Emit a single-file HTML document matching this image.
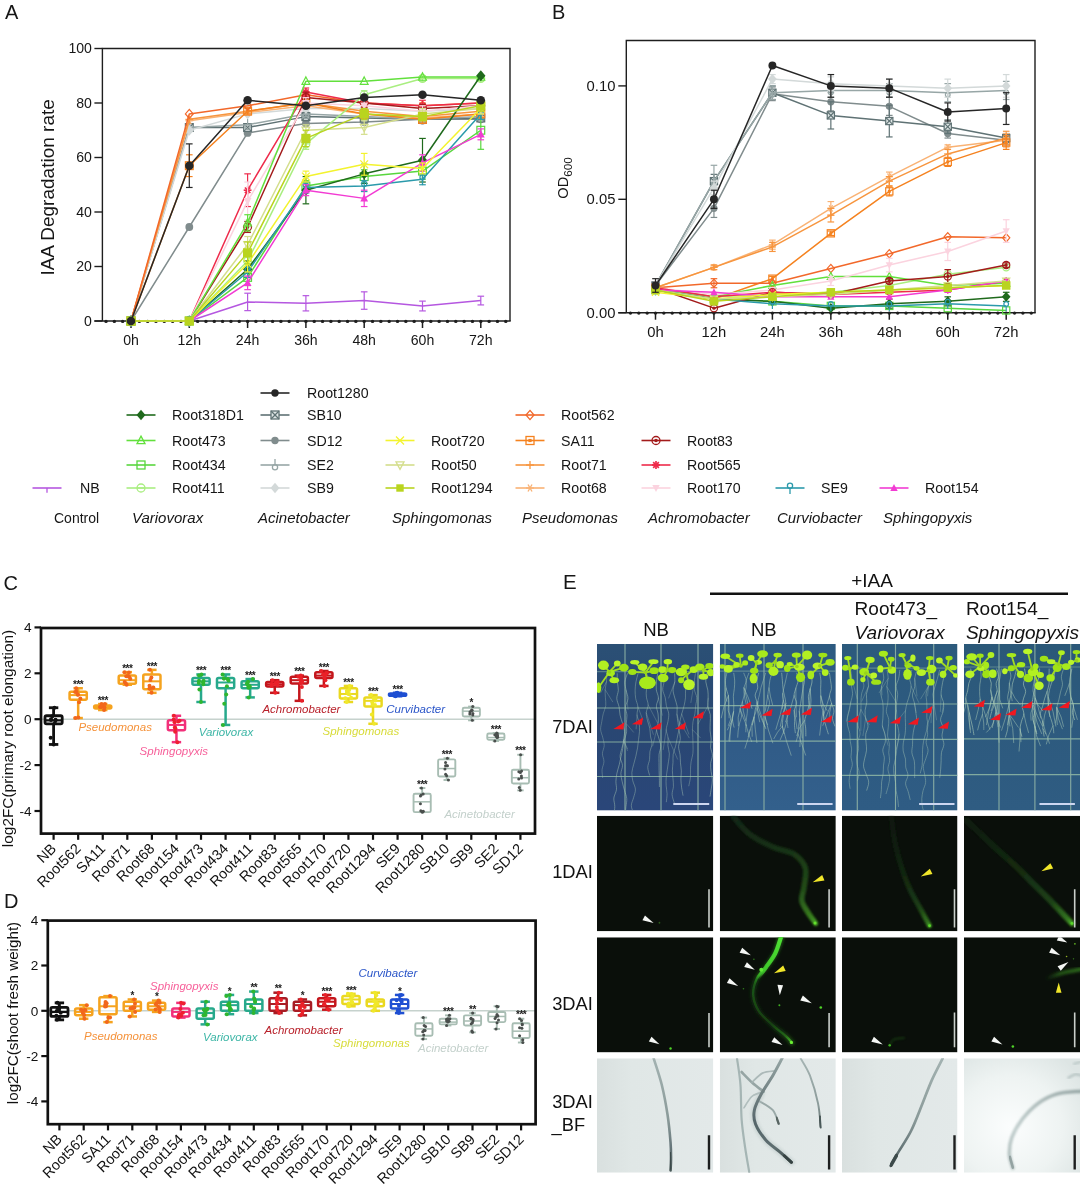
<!DOCTYPE html>
<html lang="en"><head><meta charset="utf-8"><title>Figure</title>
<style>
html,body{margin:0;padding:0;background:#fff;}
body{width:1080px;height:1199px;overflow:hidden;font-family:"Liberation Sans", Arial, sans-serif;}
svg{display:block;filter:blur(0.45px);}
svg text{font-family:"Liberation Sans", Arial, sans-serif;}
</style></head><body>
<svg width="1080" height="1199" viewBox="0 0 1080 1199">
<rect width="1080" height="1199" fill="#fff"/>
<g stroke="#1e1e1e" stroke-width="1.5">
<path d="M102.4,321 V48.5 H510 V321" fill="none" stroke-width="1.4"/>
<line x1="94.4" y1="321" x2="510.7" y2="321" stroke-width="1.4"/>
</g>
<circle cx="106.01" cy="321.4" r="1.7" fill="#1e1e1e"/>
<circle cx="114.34" cy="321.4" r="1.7" fill="#1e1e1e"/>
<circle cx="122.67" cy="321.4" r="1.7" fill="#1e1e1e"/>
<circle cx="131" cy="321.4" r="1.7" fill="#1e1e1e"/>
<circle cx="139.33" cy="321.4" r="1.7" fill="#1e1e1e"/>
<circle cx="147.66" cy="321.4" r="1.7" fill="#1e1e1e"/>
<circle cx="155.99" cy="321.4" r="1.7" fill="#1e1e1e"/>
<circle cx="164.31" cy="321.4" r="1.7" fill="#1e1e1e"/>
<circle cx="172.64" cy="321.4" r="1.7" fill="#1e1e1e"/>
<circle cx="180.97" cy="321.4" r="1.7" fill="#1e1e1e"/>
<circle cx="189.3" cy="321.4" r="1.7" fill="#1e1e1e"/>
<circle cx="197.63" cy="321.4" r="1.7" fill="#1e1e1e"/>
<circle cx="205.96" cy="321.4" r="1.7" fill="#1e1e1e"/>
<circle cx="214.29" cy="321.4" r="1.7" fill="#1e1e1e"/>
<circle cx="222.61" cy="321.4" r="1.7" fill="#1e1e1e"/>
<circle cx="230.94" cy="321.4" r="1.7" fill="#1e1e1e"/>
<circle cx="239.27" cy="321.4" r="1.7" fill="#1e1e1e"/>
<circle cx="247.6" cy="321.4" r="1.7" fill="#1e1e1e"/>
<circle cx="255.93" cy="321.4" r="1.7" fill="#1e1e1e"/>
<circle cx="264.26" cy="321.4" r="1.7" fill="#1e1e1e"/>
<circle cx="272.59" cy="321.4" r="1.7" fill="#1e1e1e"/>
<circle cx="280.91" cy="321.4" r="1.7" fill="#1e1e1e"/>
<circle cx="289.24" cy="321.4" r="1.7" fill="#1e1e1e"/>
<circle cx="297.57" cy="321.4" r="1.7" fill="#1e1e1e"/>
<circle cx="305.9" cy="321.4" r="1.7" fill="#1e1e1e"/>
<circle cx="314.23" cy="321.4" r="1.7" fill="#1e1e1e"/>
<circle cx="322.56" cy="321.4" r="1.7" fill="#1e1e1e"/>
<circle cx="330.89" cy="321.4" r="1.7" fill="#1e1e1e"/>
<circle cx="339.21" cy="321.4" r="1.7" fill="#1e1e1e"/>
<circle cx="347.54" cy="321.4" r="1.7" fill="#1e1e1e"/>
<circle cx="355.87" cy="321.4" r="1.7" fill="#1e1e1e"/>
<circle cx="364.2" cy="321.4" r="1.7" fill="#1e1e1e"/>
<circle cx="372.53" cy="321.4" r="1.7" fill="#1e1e1e"/>
<circle cx="380.86" cy="321.4" r="1.7" fill="#1e1e1e"/>
<circle cx="389.19" cy="321.4" r="1.7" fill="#1e1e1e"/>
<circle cx="397.51" cy="321.4" r="1.7" fill="#1e1e1e"/>
<circle cx="405.84" cy="321.4" r="1.7" fill="#1e1e1e"/>
<circle cx="414.17" cy="321.4" r="1.7" fill="#1e1e1e"/>
<circle cx="422.5" cy="321.4" r="1.7" fill="#1e1e1e"/>
<circle cx="430.83" cy="321.4" r="1.7" fill="#1e1e1e"/>
<circle cx="439.16" cy="321.4" r="1.7" fill="#1e1e1e"/>
<circle cx="447.49" cy="321.4" r="1.7" fill="#1e1e1e"/>
<circle cx="455.81" cy="321.4" r="1.7" fill="#1e1e1e"/>
<circle cx="464.14" cy="321.4" r="1.7" fill="#1e1e1e"/>
<circle cx="472.47" cy="321.4" r="1.7" fill="#1e1e1e"/>
<circle cx="480.8" cy="321.4" r="1.7" fill="#1e1e1e"/>
<circle cx="489.13" cy="321.4" r="1.7" fill="#1e1e1e"/>
<circle cx="497.46" cy="321.4" r="1.7" fill="#1e1e1e"/>
<circle cx="505.79" cy="321.4" r="1.7" fill="#1e1e1e"/>
<line x1="131" y1="321" x2="131" y2="328" stroke="#1e1e1e" stroke-width="1.5" />
<text x="131" y="345" font-size="14.1" text-anchor="middle" fill="#161616" >0h</text>
<line x1="189.3" y1="321" x2="189.3" y2="328" stroke="#1e1e1e" stroke-width="1.5" />
<text x="189.3" y="345" font-size="14.1" text-anchor="middle" fill="#161616" >12h</text>
<line x1="247.6" y1="321" x2="247.6" y2="328" stroke="#1e1e1e" stroke-width="1.5" />
<text x="247.6" y="345" font-size="14.1" text-anchor="middle" fill="#161616" >24h</text>
<line x1="305.9" y1="321" x2="305.9" y2="328" stroke="#1e1e1e" stroke-width="1.5" />
<text x="305.9" y="345" font-size="14.1" text-anchor="middle" fill="#161616" >36h</text>
<line x1="364.2" y1="321" x2="364.2" y2="328" stroke="#1e1e1e" stroke-width="1.5" />
<text x="364.2" y="345" font-size="14.1" text-anchor="middle" fill="#161616" >48h</text>
<line x1="422.5" y1="321" x2="422.5" y2="328" stroke="#1e1e1e" stroke-width="1.5" />
<text x="422.5" y="345" font-size="14.1" text-anchor="middle" fill="#161616" >60h</text>
<line x1="480.8" y1="321" x2="480.8" y2="328" stroke="#1e1e1e" stroke-width="1.5" />
<text x="480.8" y="345" font-size="14.1" text-anchor="middle" fill="#161616" >72h</text>
<line x1="94.4" y1="321" x2="102.4" y2="321" stroke="#1e1e1e" stroke-width="1.4" />
<text x="91.9" y="325.8" font-size="14.1" text-anchor="end" fill="#161616" >0</text>
<line x1="94.4" y1="266.5" x2="102.4" y2="266.5" stroke="#1e1e1e" stroke-width="1.4" />
<text x="91.9" y="271.3" font-size="14.1" text-anchor="end" fill="#161616" >20</text>
<line x1="94.4" y1="212" x2="102.4" y2="212" stroke="#1e1e1e" stroke-width="1.4" />
<text x="91.9" y="216.8" font-size="14.1" text-anchor="end" fill="#161616" >40</text>
<line x1="94.4" y1="157.5" x2="102.4" y2="157.5" stroke="#1e1e1e" stroke-width="1.4" />
<text x="91.9" y="162.3" font-size="14.1" text-anchor="end" fill="#161616" >60</text>
<line x1="94.4" y1="103" x2="102.4" y2="103" stroke="#1e1e1e" stroke-width="1.4" />
<text x="91.9" y="107.8" font-size="14.1" text-anchor="end" fill="#161616" >80</text>
<line x1="94.4" y1="48.5" x2="102.4" y2="48.5" stroke="#1e1e1e" stroke-width="1.4" />
<text x="91.9" y="53.3" font-size="14.1" text-anchor="end" fill="#161616" >100</text>
<g><polyline points="131,321 189.3,321 247.6,301.93 305.9,303.29 364.2,300.56 422.5,306.01 480.8,300.56" fill="none" stroke="#b557e0" stroke-width="1.5" stroke-linejoin="round" /><line x1="247.6" y1="293.2" x2="247.6" y2="310.64" stroke="#b557e0" stroke-width="1.2" /><line x1="244.3" y1="293.2" x2="250.9" y2="293.2" stroke="#b557e0" stroke-width="1.2" /><line x1="244.3" y1="310.64" x2="250.9" y2="310.64" stroke="#b557e0" stroke-width="1.2" /><line x1="305.9" y1="295.66" x2="305.9" y2="310.92" stroke="#b557e0" stroke-width="1.2" /><line x1="302.6" y1="295.66" x2="309.2" y2="295.66" stroke="#b557e0" stroke-width="1.2" /><line x1="302.6" y1="310.92" x2="309.2" y2="310.92" stroke="#b557e0" stroke-width="1.2" /><line x1="364.2" y1="291.84" x2="364.2" y2="309.28" stroke="#b557e0" stroke-width="1.2" /><line x1="360.9" y1="291.84" x2="367.5" y2="291.84" stroke="#b557e0" stroke-width="1.2" /><line x1="360.9" y1="309.28" x2="367.5" y2="309.28" stroke="#b557e0" stroke-width="1.2" /><line x1="422.5" y1="301.11" x2="422.5" y2="310.92" stroke="#b557e0" stroke-width="1.2" /><line x1="419.2" y1="301.11" x2="425.8" y2="301.11" stroke="#b557e0" stroke-width="1.2" /><line x1="419.2" y1="310.92" x2="425.8" y2="310.92" stroke="#b557e0" stroke-width="1.2" /><line x1="480.8" y1="296.2" x2="480.8" y2="304.92" stroke="#b557e0" stroke-width="1.2" /><line x1="477.5" y1="296.2" x2="484.1" y2="296.2" stroke="#b557e0" stroke-width="1.2" /><line x1="477.5" y1="304.92" x2="484.1" y2="304.92" stroke="#b557e0" stroke-width="1.2" /></g>
<g><polyline points="131,321 189.3,226.99 247.6,132.97 305.9,123.44 364.2,122.07 422.5,119.35 480.8,119.35" fill="none" stroke="#808c8d" stroke-width="1.5" stroke-linejoin="round" /><circle cx="131" cy="321" r="3.9" fill="#808c8d"/><circle cx="189.3" cy="226.99" r="3.9" fill="#808c8d"/><circle cx="247.6" cy="132.97" r="3.9" fill="#808c8d"/><circle cx="305.9" cy="123.44" r="3.9" fill="#808c8d"/><circle cx="364.2" cy="122.07" r="3.9" fill="#808c8d"/><circle cx="422.5" cy="119.35" r="3.9" fill="#808c8d"/><circle cx="480.8" cy="119.35" r="3.9" fill="#808c8d"/></g>
<g><polyline points="131,321 189.3,127.53 247.6,127.53 305.9,116.62 364.2,117.99 422.5,119.35 480.8,117.99" fill="none" stroke="#5f7274" stroke-width="1.5" stroke-linejoin="round" /><line x1="305.9" y1="112.54" x2="305.9" y2="120.71" stroke="#5f7274" stroke-width="1.2" /><line x1="302.6" y1="112.54" x2="309.2" y2="112.54" stroke="#5f7274" stroke-width="1.2" /><line x1="302.6" y1="120.71" x2="309.2" y2="120.71" stroke="#5f7274" stroke-width="1.2" /><line x1="364.2" y1="115.26" x2="364.2" y2="120.71" stroke="#5f7274" stroke-width="1.2" /><line x1="360.9" y1="115.26" x2="367.5" y2="115.26" stroke="#5f7274" stroke-width="1.2" /><line x1="360.9" y1="120.71" x2="367.5" y2="120.71" stroke="#5f7274" stroke-width="1.2" /><line x1="422.5" y1="116.62" x2="422.5" y2="122.07" stroke="#5f7274" stroke-width="1.2" /><line x1="419.2" y1="116.62" x2="425.8" y2="116.62" stroke="#5f7274" stroke-width="1.2" /><line x1="419.2" y1="122.07" x2="425.8" y2="122.07" stroke="#5f7274" stroke-width="1.2" /><line x1="480.8" y1="115.26" x2="480.8" y2="120.71" stroke="#5f7274" stroke-width="1.2" /><line x1="477.5" y1="115.26" x2="484.1" y2="115.26" stroke="#5f7274" stroke-width="1.2" /><line x1="477.5" y1="120.71" x2="484.1" y2="120.71" stroke="#5f7274" stroke-width="1.2" /><rect x="127.1" y="317.1" width="7.8" height="7.8" fill="#dfe6e6" stroke="#5f7274" stroke-width="1.2"/><line x1="127.1" y1="317.1" x2="134.9" y2="324.9" stroke="#5f7274" stroke-width="1.2" /><line x1="127.1" y1="324.9" x2="134.9" y2="317.1" stroke="#5f7274" stroke-width="1.2" /><rect x="185.4" y="123.62" width="7.8" height="7.8" fill="#dfe6e6" stroke="#5f7274" stroke-width="1.2"/><line x1="185.4" y1="123.62" x2="193.2" y2="131.43" stroke="#5f7274" stroke-width="1.2" /><line x1="185.4" y1="131.43" x2="193.2" y2="123.62" stroke="#5f7274" stroke-width="1.2" /><rect x="243.7" y="123.62" width="7.8" height="7.8" fill="#dfe6e6" stroke="#5f7274" stroke-width="1.2"/><line x1="243.7" y1="123.62" x2="251.5" y2="131.43" stroke="#5f7274" stroke-width="1.2" /><line x1="243.7" y1="131.43" x2="251.5" y2="123.62" stroke="#5f7274" stroke-width="1.2" /><rect x="302" y="112.72" width="7.8" height="7.8" fill="#dfe6e6" stroke="#5f7274" stroke-width="1.2"/><line x1="302" y1="112.72" x2="309.8" y2="120.53" stroke="#5f7274" stroke-width="1.2" /><line x1="302" y1="120.53" x2="309.8" y2="112.72" stroke="#5f7274" stroke-width="1.2" /><rect x="360.3" y="114.09" width="7.8" height="7.8" fill="#dfe6e6" stroke="#5f7274" stroke-width="1.2"/><line x1="360.3" y1="114.09" x2="368.1" y2="121.89" stroke="#5f7274" stroke-width="1.2" /><line x1="360.3" y1="121.89" x2="368.1" y2="114.09" stroke="#5f7274" stroke-width="1.2" /><rect x="418.6" y="115.45" width="7.8" height="7.8" fill="#dfe6e6" stroke="#5f7274" stroke-width="1.2"/><line x1="418.6" y1="115.45" x2="426.4" y2="123.25" stroke="#5f7274" stroke-width="1.2" /><line x1="418.6" y1="123.25" x2="426.4" y2="115.45" stroke="#5f7274" stroke-width="1.2" /><rect x="476.9" y="114.09" width="7.8" height="7.8" fill="#dfe6e6" stroke="#5f7274" stroke-width="1.2"/><line x1="476.9" y1="114.09" x2="484.7" y2="121.89" stroke="#5f7274" stroke-width="1.2" /><line x1="476.9" y1="121.89" x2="484.7" y2="114.09" stroke="#5f7274" stroke-width="1.2" /></g>
<g><polyline points="131,321 189.3,127.53 247.6,124.8 305.9,113.9 364.2,116.62 422.5,119.35 480.8,116.62" fill="none" stroke="#97a6a6" stroke-width="1.5" stroke-linejoin="round" /><line x1="305.9" y1="111.18" x2="305.9" y2="116.62" stroke="#97a6a6" stroke-width="1.2" /><line x1="302.6" y1="111.18" x2="309.2" y2="111.18" stroke="#97a6a6" stroke-width="1.2" /><line x1="302.6" y1="116.62" x2="309.2" y2="116.62" stroke="#97a6a6" stroke-width="1.2" /><line x1="364.2" y1="113.9" x2="364.2" y2="119.35" stroke="#97a6a6" stroke-width="1.2" /><line x1="360.9" y1="113.9" x2="367.5" y2="113.9" stroke="#97a6a6" stroke-width="1.2" /><line x1="360.9" y1="119.35" x2="367.5" y2="119.35" stroke="#97a6a6" stroke-width="1.2" /><line x1="422.5" y1="116.62" x2="422.5" y2="122.07" stroke="#97a6a6" stroke-width="1.2" /><line x1="419.2" y1="116.62" x2="425.8" y2="116.62" stroke="#97a6a6" stroke-width="1.2" /><line x1="419.2" y1="122.07" x2="425.8" y2="122.07" stroke="#97a6a6" stroke-width="1.2" /><line x1="480.8" y1="113.9" x2="480.8" y2="119.35" stroke="#97a6a6" stroke-width="1.2" /><line x1="477.5" y1="113.9" x2="484.1" y2="113.9" stroke="#97a6a6" stroke-width="1.2" /><line x1="477.5" y1="119.35" x2="484.1" y2="119.35" stroke="#97a6a6" stroke-width="1.2" /><line x1="131" y1="315.15" x2="131" y2="320.61" stroke="#97a6a6" stroke-width="1.2" /><circle cx="131" cy="323.14" r="2.54" fill="none" stroke="#97a6a6" stroke-width="1.2"/><line x1="189.3" y1="121.68" x2="189.3" y2="127.14" stroke="#97a6a6" stroke-width="1.2" /><circle cx="189.3" cy="129.67" r="2.54" fill="none" stroke="#97a6a6" stroke-width="1.2"/><line x1="247.6" y1="118.95" x2="247.6" y2="124.41" stroke="#97a6a6" stroke-width="1.2" /><circle cx="247.6" cy="126.95" r="2.54" fill="none" stroke="#97a6a6" stroke-width="1.2"/><line x1="305.9" y1="108.05" x2="305.9" y2="113.51" stroke="#97a6a6" stroke-width="1.2" /><circle cx="305.9" cy="116.05" r="2.54" fill="none" stroke="#97a6a6" stroke-width="1.2"/><line x1="364.2" y1="110.78" x2="364.2" y2="116.23" stroke="#97a6a6" stroke-width="1.2" /><circle cx="364.2" cy="118.77" r="2.54" fill="none" stroke="#97a6a6" stroke-width="1.2"/><line x1="422.5" y1="113.5" x2="422.5" y2="118.96" stroke="#97a6a6" stroke-width="1.2" /><circle cx="422.5" cy="121.49" r="2.54" fill="none" stroke="#97a6a6" stroke-width="1.2"/><line x1="480.8" y1="110.78" x2="480.8" y2="116.23" stroke="#97a6a6" stroke-width="1.2" /><circle cx="480.8" cy="118.77" r="2.54" fill="none" stroke="#97a6a6" stroke-width="1.2"/></g>
<g><polyline points="131,321 189.3,130.25 247.6,113.9 305.9,108.45 364.2,108.45 422.5,111.18 480.8,108.45" fill="none" stroke="#d3d9d9" stroke-width="1.5" stroke-linejoin="round" /><line x1="305.9" y1="105.72" x2="305.9" y2="111.18" stroke="#d3d9d9" stroke-width="1.2" /><line x1="302.6" y1="105.72" x2="309.2" y2="105.72" stroke="#d3d9d9" stroke-width="1.2" /><line x1="302.6" y1="111.18" x2="309.2" y2="111.18" stroke="#d3d9d9" stroke-width="1.2" /><line x1="364.2" y1="105.72" x2="364.2" y2="111.18" stroke="#d3d9d9" stroke-width="1.2" /><line x1="360.9" y1="105.72" x2="367.5" y2="105.72" stroke="#d3d9d9" stroke-width="1.2" /><line x1="360.9" y1="111.18" x2="367.5" y2="111.18" stroke="#d3d9d9" stroke-width="1.2" /><line x1="422.5" y1="108.45" x2="422.5" y2="113.9" stroke="#d3d9d9" stroke-width="1.2" /><line x1="419.2" y1="108.45" x2="425.8" y2="108.45" stroke="#d3d9d9" stroke-width="1.2" /><line x1="419.2" y1="113.9" x2="425.8" y2="113.9" stroke="#d3d9d9" stroke-width="1.2" /><line x1="480.8" y1="105.72" x2="480.8" y2="111.18" stroke="#d3d9d9" stroke-width="1.2" /><line x1="477.5" y1="105.72" x2="484.1" y2="105.72" stroke="#d3d9d9" stroke-width="1.2" /><line x1="477.5" y1="111.18" x2="484.1" y2="111.18" stroke="#d3d9d9" stroke-width="1.2" /><path d="M131,315.54 L135.68,321 L131,326.46 L126.32,321 Z" fill="#d3d9d9"/><path d="M189.3,124.79 L193.98,130.25 L189.3,135.71 L184.62,130.25 Z" fill="#d3d9d9"/><path d="M247.6,108.44 L252.28,113.9 L247.6,119.36 L242.92,113.9 Z" fill="#d3d9d9"/><path d="M305.9,102.99 L310.58,108.45 L305.9,113.91 L301.22,108.45 Z" fill="#d3d9d9"/><path d="M364.2,102.99 L368.88,108.45 L364.2,113.91 L359.52,108.45 Z" fill="#d3d9d9"/><path d="M422.5,105.72 L427.18,111.18 L422.5,116.64 L417.82,111.18 Z" fill="#d3d9d9"/><path d="M480.8,102.99 L485.48,108.45 L480.8,113.91 L476.12,108.45 Z" fill="#d3d9d9"/></g>
<g><polyline points="131,321 189.3,120.71 247.6,112.54 305.9,105.72 364.2,113.9 422.5,117.99 480.8,113.9" fill="none" stroke="#f9b274" stroke-width="1.5" stroke-linejoin="round" /><line x1="305.9" y1="103" x2="305.9" y2="108.45" stroke="#f9b274" stroke-width="1.2" /><line x1="302.6" y1="103" x2="309.2" y2="103" stroke="#f9b274" stroke-width="1.2" /><line x1="302.6" y1="108.45" x2="309.2" y2="108.45" stroke="#f9b274" stroke-width="1.2" /><line x1="364.2" y1="111.18" x2="364.2" y2="116.62" stroke="#f9b274" stroke-width="1.2" /><line x1="360.9" y1="111.18" x2="367.5" y2="111.18" stroke="#f9b274" stroke-width="1.2" /><line x1="360.9" y1="116.62" x2="367.5" y2="116.62" stroke="#f9b274" stroke-width="1.2" /><line x1="422.5" y1="115.26" x2="422.5" y2="120.71" stroke="#f9b274" stroke-width="1.2" /><line x1="419.2" y1="115.26" x2="425.8" y2="115.26" stroke="#f9b274" stroke-width="1.2" /><line x1="419.2" y1="120.71" x2="425.8" y2="120.71" stroke="#f9b274" stroke-width="1.2" /><line x1="480.8" y1="111.18" x2="480.8" y2="116.62" stroke="#f9b274" stroke-width="1.2" /><line x1="477.5" y1="111.18" x2="484.1" y2="111.18" stroke="#f9b274" stroke-width="1.2" /><line x1="477.5" y1="116.62" x2="484.1" y2="116.62" stroke="#f9b274" stroke-width="1.2" /><line x1="127.1" y1="321" x2="134.9" y2="321" stroke="#f9b274" stroke-width="1.2" /><line x1="129.05" y1="317.62" x2="132.95" y2="324.38" stroke="#f9b274" stroke-width="1.2" /><line x1="132.95" y1="317.62" x2="129.05" y2="324.38" stroke="#f9b274" stroke-width="1.2" /><line x1="185.4" y1="120.71" x2="193.2" y2="120.71" stroke="#f9b274" stroke-width="1.2" /><line x1="187.35" y1="117.34" x2="191.25" y2="124.09" stroke="#f9b274" stroke-width="1.2" /><line x1="191.25" y1="117.34" x2="187.35" y2="124.09" stroke="#f9b274" stroke-width="1.2" /><line x1="243.7" y1="112.54" x2="251.5" y2="112.54" stroke="#f9b274" stroke-width="1.2" /><line x1="245.65" y1="109.16" x2="249.55" y2="115.91" stroke="#f9b274" stroke-width="1.2" /><line x1="249.55" y1="109.16" x2="245.65" y2="115.91" stroke="#f9b274" stroke-width="1.2" /><line x1="302" y1="105.72" x2="309.8" y2="105.72" stroke="#f9b274" stroke-width="1.2" /><line x1="303.95" y1="102.35" x2="307.85" y2="109.1" stroke="#f9b274" stroke-width="1.2" /><line x1="307.85" y1="102.35" x2="303.95" y2="109.1" stroke="#f9b274" stroke-width="1.2" /><line x1="360.3" y1="113.9" x2="368.1" y2="113.9" stroke="#f9b274" stroke-width="1.2" /><line x1="362.25" y1="110.52" x2="366.15" y2="117.28" stroke="#f9b274" stroke-width="1.2" /><line x1="366.15" y1="110.52" x2="362.25" y2="117.28" stroke="#f9b274" stroke-width="1.2" /><line x1="418.6" y1="117.99" x2="426.4" y2="117.99" stroke="#f9b274" stroke-width="1.2" /><line x1="420.55" y1="114.61" x2="424.45" y2="121.36" stroke="#f9b274" stroke-width="1.2" /><line x1="424.45" y1="114.61" x2="420.55" y2="121.36" stroke="#f9b274" stroke-width="1.2" /><line x1="476.9" y1="113.9" x2="484.7" y2="113.9" stroke="#f9b274" stroke-width="1.2" /><line x1="478.85" y1="110.52" x2="482.75" y2="117.28" stroke="#f9b274" stroke-width="1.2" /><line x1="482.75" y1="110.52" x2="478.85" y2="117.28" stroke="#f9b274" stroke-width="1.2" /></g>
<g><polyline points="131,321 189.3,119.35 247.6,111.18 305.9,103 364.2,111.18 422.5,116.62 480.8,111.18" fill="none" stroke="#f7953e" stroke-width="1.5" stroke-linejoin="round" /><line x1="305.9" y1="100.28" x2="305.9" y2="105.72" stroke="#f7953e" stroke-width="1.2" /><line x1="302.6" y1="100.28" x2="309.2" y2="100.28" stroke="#f7953e" stroke-width="1.2" /><line x1="302.6" y1="105.72" x2="309.2" y2="105.72" stroke="#f7953e" stroke-width="1.2" /><line x1="364.2" y1="108.45" x2="364.2" y2="113.9" stroke="#f7953e" stroke-width="1.2" /><line x1="360.9" y1="108.45" x2="367.5" y2="108.45" stroke="#f7953e" stroke-width="1.2" /><line x1="360.9" y1="113.9" x2="367.5" y2="113.9" stroke="#f7953e" stroke-width="1.2" /><line x1="422.5" y1="113.9" x2="422.5" y2="119.35" stroke="#f7953e" stroke-width="1.2" /><line x1="419.2" y1="113.9" x2="425.8" y2="113.9" stroke="#f7953e" stroke-width="1.2" /><line x1="419.2" y1="119.35" x2="425.8" y2="119.35" stroke="#f7953e" stroke-width="1.2" /><line x1="480.8" y1="108.45" x2="480.8" y2="113.9" stroke="#f7953e" stroke-width="1.2" /><line x1="477.5" y1="108.45" x2="484.1" y2="108.45" stroke="#f7953e" stroke-width="1.2" /><line x1="477.5" y1="113.9" x2="484.1" y2="113.9" stroke="#f7953e" stroke-width="1.2" /><line x1="127.1" y1="321" x2="134.9" y2="321" stroke="#f7953e" stroke-width="1.2" /><line x1="131" y1="317.1" x2="131" y2="324.9" stroke="#f7953e" stroke-width="1.2" /><line x1="185.4" y1="119.35" x2="193.2" y2="119.35" stroke="#f7953e" stroke-width="1.2" /><line x1="189.3" y1="115.45" x2="189.3" y2="123.25" stroke="#f7953e" stroke-width="1.2" /><line x1="243.7" y1="111.18" x2="251.5" y2="111.18" stroke="#f7953e" stroke-width="1.2" /><line x1="247.6" y1="107.28" x2="247.6" y2="115.08" stroke="#f7953e" stroke-width="1.2" /><line x1="302" y1="103" x2="309.8" y2="103" stroke="#f7953e" stroke-width="1.2" /><line x1="305.9" y1="99.1" x2="305.9" y2="106.9" stroke="#f7953e" stroke-width="1.2" /><line x1="360.3" y1="111.18" x2="368.1" y2="111.18" stroke="#f7953e" stroke-width="1.2" /><line x1="364.2" y1="107.28" x2="364.2" y2="115.08" stroke="#f7953e" stroke-width="1.2" /><line x1="418.6" y1="116.62" x2="426.4" y2="116.62" stroke="#f7953e" stroke-width="1.2" /><line x1="422.5" y1="112.72" x2="422.5" y2="120.53" stroke="#f7953e" stroke-width="1.2" /><line x1="476.9" y1="111.18" x2="484.7" y2="111.18" stroke="#f7953e" stroke-width="1.2" /><line x1="480.8" y1="107.28" x2="480.8" y2="115.08" stroke="#f7953e" stroke-width="1.2" /></g>
<g><polyline points="131,321 189.3,165.68 247.6,111.18 305.9,103 364.2,113.9 422.5,119.35 480.8,113.9" fill="none" stroke="#f5821f" stroke-width="1.5" stroke-linejoin="round" /><line x1="189.3" y1="154.78" x2="189.3" y2="176.57" stroke="#f5821f" stroke-width="1.2" /><line x1="186" y1="154.78" x2="192.6" y2="154.78" stroke="#f5821f" stroke-width="1.2" /><line x1="186" y1="176.57" x2="192.6" y2="176.57" stroke="#f5821f" stroke-width="1.2" /><line x1="247.6" y1="108.45" x2="247.6" y2="113.9" stroke="#f5821f" stroke-width="1.2" /><line x1="244.3" y1="108.45" x2="250.9" y2="108.45" stroke="#f5821f" stroke-width="1.2" /><line x1="244.3" y1="113.9" x2="250.9" y2="113.9" stroke="#f5821f" stroke-width="1.2" /><line x1="305.9" y1="100.28" x2="305.9" y2="105.72" stroke="#f5821f" stroke-width="1.2" /><line x1="302.6" y1="100.28" x2="309.2" y2="100.28" stroke="#f5821f" stroke-width="1.2" /><line x1="302.6" y1="105.72" x2="309.2" y2="105.72" stroke="#f5821f" stroke-width="1.2" /><line x1="364.2" y1="109.81" x2="364.2" y2="117.99" stroke="#f5821f" stroke-width="1.2" /><line x1="360.9" y1="109.81" x2="367.5" y2="109.81" stroke="#f5821f" stroke-width="1.2" /><line x1="360.9" y1="117.99" x2="367.5" y2="117.99" stroke="#f5821f" stroke-width="1.2" /><line x1="422.5" y1="115.26" x2="422.5" y2="123.44" stroke="#f5821f" stroke-width="1.2" /><line x1="419.2" y1="115.26" x2="425.8" y2="115.26" stroke="#f5821f" stroke-width="1.2" /><line x1="419.2" y1="123.44" x2="425.8" y2="123.44" stroke="#f5821f" stroke-width="1.2" /><line x1="480.8" y1="109.81" x2="480.8" y2="117.99" stroke="#f5821f" stroke-width="1.2" /><line x1="477.5" y1="109.81" x2="484.1" y2="109.81" stroke="#f5821f" stroke-width="1.2" /><line x1="477.5" y1="117.99" x2="484.1" y2="117.99" stroke="#f5821f" stroke-width="1.2" /><rect x="127.1" y="317.1" width="7.8" height="7.8" fill="none" stroke="#f5821f" stroke-width="1.2"/><rect x="129.44" y="319.44" width="3.12" height="3.12" fill="#f5821f"/><rect x="185.4" y="161.78" width="7.8" height="7.8" fill="none" stroke="#f5821f" stroke-width="1.2"/><rect x="187.74" y="164.12" width="3.12" height="3.12" fill="#f5821f"/><rect x="243.7" y="107.28" width="7.8" height="7.8" fill="none" stroke="#f5821f" stroke-width="1.2"/><rect x="246.04" y="109.62" width="3.12" height="3.12" fill="#f5821f"/><rect x="302" y="99.1" width="7.8" height="7.8" fill="none" stroke="#f5821f" stroke-width="1.2"/><rect x="304.34" y="101.44" width="3.12" height="3.12" fill="#f5821f"/><rect x="360.3" y="110" width="7.8" height="7.8" fill="none" stroke="#f5821f" stroke-width="1.2"/><rect x="362.64" y="112.34" width="3.12" height="3.12" fill="#f5821f"/><rect x="418.6" y="115.45" width="7.8" height="7.8" fill="none" stroke="#f5821f" stroke-width="1.2"/><rect x="420.94" y="117.79" width="3.12" height="3.12" fill="#f5821f"/><rect x="476.9" y="110" width="7.8" height="7.8" fill="none" stroke="#f5821f" stroke-width="1.2"/><rect x="479.24" y="112.34" width="3.12" height="3.12" fill="#f5821f"/></g>
<g><polyline points="131,321 189.3,113.9 247.6,105.72 305.9,94.82 364.2,103 422.5,105.72 480.8,103" fill="none" stroke="#f2682a" stroke-width="1.5" stroke-linejoin="round" /><line x1="305.9" y1="92.1" x2="305.9" y2="97.55" stroke="#f2682a" stroke-width="1.2" /><line x1="302.6" y1="92.1" x2="309.2" y2="92.1" stroke="#f2682a" stroke-width="1.2" /><line x1="302.6" y1="97.55" x2="309.2" y2="97.55" stroke="#f2682a" stroke-width="1.2" /><line x1="364.2" y1="100.28" x2="364.2" y2="105.72" stroke="#f2682a" stroke-width="1.2" /><line x1="360.9" y1="100.28" x2="367.5" y2="100.28" stroke="#f2682a" stroke-width="1.2" /><line x1="360.9" y1="105.72" x2="367.5" y2="105.72" stroke="#f2682a" stroke-width="1.2" /><line x1="422.5" y1="103" x2="422.5" y2="108.45" stroke="#f2682a" stroke-width="1.2" /><line x1="419.2" y1="103" x2="425.8" y2="103" stroke="#f2682a" stroke-width="1.2" /><line x1="419.2" y1="108.45" x2="425.8" y2="108.45" stroke="#f2682a" stroke-width="1.2" /><line x1="480.8" y1="100.28" x2="480.8" y2="105.72" stroke="#f2682a" stroke-width="1.2" /><line x1="477.5" y1="100.28" x2="484.1" y2="100.28" stroke="#f2682a" stroke-width="1.2" /><line x1="477.5" y1="105.72" x2="484.1" y2="105.72" stroke="#f2682a" stroke-width="1.2" /><path d="M131,316.51 L134.9,321 L131,325.49 L127.1,321 Z" fill="none" stroke="#f2682a" stroke-width="1.2"/><path d="M189.3,109.42 L193.2,113.9 L189.3,118.39 L185.4,113.9 Z" fill="none" stroke="#f2682a" stroke-width="1.2"/><path d="M247.6,101.24 L251.5,105.72 L247.6,110.21 L243.7,105.72 Z" fill="none" stroke="#f2682a" stroke-width="1.2"/><path d="M305.9,90.34 L309.8,94.82 L305.9,99.31 L302,94.82 Z" fill="none" stroke="#f2682a" stroke-width="1.2"/><path d="M364.2,98.52 L368.1,103 L364.2,107.48 L360.3,103 Z" fill="none" stroke="#f2682a" stroke-width="1.2"/><path d="M422.5,101.24 L426.4,105.72 L422.5,110.21 L418.6,105.72 Z" fill="none" stroke="#f2682a" stroke-width="1.2"/><path d="M480.8,98.52 L484.7,103 L480.8,107.48 L476.9,103 Z" fill="none" stroke="#f2682a" stroke-width="1.2"/></g>
<g><polyline points="131,321 189.3,321 247.6,190.2 305.9,92.1 364.2,103 422.5,105.72 480.8,103" fill="none" stroke="#ee2b4b" stroke-width="1.5" stroke-linejoin="round" /><line x1="247.6" y1="173.85" x2="247.6" y2="206.55" stroke="#ee2b4b" stroke-width="1.2" /><line x1="244.3" y1="173.85" x2="250.9" y2="173.85" stroke="#ee2b4b" stroke-width="1.2" /><line x1="244.3" y1="206.55" x2="250.9" y2="206.55" stroke="#ee2b4b" stroke-width="1.2" /><line x1="305.9" y1="88.01" x2="305.9" y2="96.19" stroke="#ee2b4b" stroke-width="1.2" /><line x1="302.6" y1="88.01" x2="309.2" y2="88.01" stroke="#ee2b4b" stroke-width="1.2" /><line x1="302.6" y1="96.19" x2="309.2" y2="96.19" stroke="#ee2b4b" stroke-width="1.2" /><line x1="364.2" y1="98.91" x2="364.2" y2="107.09" stroke="#ee2b4b" stroke-width="1.2" /><line x1="360.9" y1="98.91" x2="367.5" y2="98.91" stroke="#ee2b4b" stroke-width="1.2" /><line x1="360.9" y1="107.09" x2="367.5" y2="107.09" stroke="#ee2b4b" stroke-width="1.2" /><line x1="422.5" y1="100.28" x2="422.5" y2="111.18" stroke="#ee2b4b" stroke-width="1.2" /><line x1="419.2" y1="100.28" x2="425.8" y2="100.28" stroke="#ee2b4b" stroke-width="1.2" /><line x1="419.2" y1="111.18" x2="425.8" y2="111.18" stroke="#ee2b4b" stroke-width="1.2" /><line x1="480.8" y1="100.28" x2="480.8" y2="105.72" stroke="#ee2b4b" stroke-width="1.2" /><line x1="477.5" y1="100.28" x2="484.1" y2="100.28" stroke="#ee2b4b" stroke-width="1.2" /><line x1="477.5" y1="105.72" x2="484.1" y2="105.72" stroke="#ee2b4b" stroke-width="1.2" /><line x1="127.1" y1="321" x2="134.9" y2="321" stroke="#ee2b4b" stroke-width="1.56" /><line x1="128.24" y1="318.24" x2="133.76" y2="323.76" stroke="#ee2b4b" stroke-width="1.56" /><line x1="131" y1="317.1" x2="131" y2="324.9" stroke="#ee2b4b" stroke-width="1.56" /><line x1="133.76" y1="318.24" x2="128.24" y2="323.76" stroke="#ee2b4b" stroke-width="1.56" /><line x1="185.4" y1="321" x2="193.2" y2="321" stroke="#ee2b4b" stroke-width="1.56" /><line x1="186.54" y1="318.24" x2="192.06" y2="323.76" stroke="#ee2b4b" stroke-width="1.56" /><line x1="189.3" y1="317.1" x2="189.3" y2="324.9" stroke="#ee2b4b" stroke-width="1.56" /><line x1="192.06" y1="318.24" x2="186.54" y2="323.76" stroke="#ee2b4b" stroke-width="1.56" /><line x1="243.7" y1="190.2" x2="251.5" y2="190.2" stroke="#ee2b4b" stroke-width="1.56" /><line x1="244.84" y1="187.44" x2="250.36" y2="192.96" stroke="#ee2b4b" stroke-width="1.56" /><line x1="247.6" y1="186.3" x2="247.6" y2="194.1" stroke="#ee2b4b" stroke-width="1.56" /><line x1="250.36" y1="187.44" x2="244.84" y2="192.96" stroke="#ee2b4b" stroke-width="1.56" /><line x1="302" y1="92.1" x2="309.8" y2="92.1" stroke="#ee2b4b" stroke-width="1.56" /><line x1="303.14" y1="89.34" x2="308.66" y2="94.86" stroke="#ee2b4b" stroke-width="1.56" /><line x1="305.9" y1="88.2" x2="305.9" y2="96" stroke="#ee2b4b" stroke-width="1.56" /><line x1="308.66" y1="89.34" x2="303.14" y2="94.86" stroke="#ee2b4b" stroke-width="1.56" /><line x1="360.3" y1="103" x2="368.1" y2="103" stroke="#ee2b4b" stroke-width="1.56" /><line x1="361.44" y1="100.24" x2="366.96" y2="105.76" stroke="#ee2b4b" stroke-width="1.56" /><line x1="364.2" y1="99.1" x2="364.2" y2="106.9" stroke="#ee2b4b" stroke-width="1.56" /><line x1="366.96" y1="100.24" x2="361.44" y2="105.76" stroke="#ee2b4b" stroke-width="1.56" /><line x1="418.6" y1="105.72" x2="426.4" y2="105.72" stroke="#ee2b4b" stroke-width="1.56" /><line x1="419.74" y1="102.97" x2="425.26" y2="108.48" stroke="#ee2b4b" stroke-width="1.56" /><line x1="422.5" y1="101.82" x2="422.5" y2="109.62" stroke="#ee2b4b" stroke-width="1.56" /><line x1="425.26" y1="102.97" x2="419.74" y2="108.48" stroke="#ee2b4b" stroke-width="1.56" /><line x1="476.9" y1="103" x2="484.7" y2="103" stroke="#ee2b4b" stroke-width="1.56" /><line x1="478.04" y1="100.24" x2="483.56" y2="105.76" stroke="#ee2b4b" stroke-width="1.56" /><line x1="480.8" y1="99.1" x2="480.8" y2="106.9" stroke="#ee2b4b" stroke-width="1.56" /><line x1="483.56" y1="100.24" x2="478.04" y2="105.76" stroke="#ee2b4b" stroke-width="1.56" /></g>
<g><polyline points="131,321 189.3,321 247.6,226.99 305.9,97.55 364.2,103 422.5,108.45 480.8,105.72" fill="none" stroke="#a31b1b" stroke-width="1.5" stroke-linejoin="round" /><line x1="247.6" y1="221.54" x2="247.6" y2="232.44" stroke="#a31b1b" stroke-width="1.2" /><line x1="244.3" y1="221.54" x2="250.9" y2="221.54" stroke="#a31b1b" stroke-width="1.2" /><line x1="244.3" y1="232.44" x2="250.9" y2="232.44" stroke="#a31b1b" stroke-width="1.2" /><line x1="305.9" y1="92.1" x2="305.9" y2="103" stroke="#a31b1b" stroke-width="1.2" /><line x1="302.6" y1="92.1" x2="309.2" y2="92.1" stroke="#a31b1b" stroke-width="1.2" /><line x1="302.6" y1="103" x2="309.2" y2="103" stroke="#a31b1b" stroke-width="1.2" /><line x1="364.2" y1="98.91" x2="364.2" y2="107.09" stroke="#a31b1b" stroke-width="1.2" /><line x1="360.9" y1="98.91" x2="367.5" y2="98.91" stroke="#a31b1b" stroke-width="1.2" /><line x1="360.9" y1="107.09" x2="367.5" y2="107.09" stroke="#a31b1b" stroke-width="1.2" /><line x1="422.5" y1="104.36" x2="422.5" y2="112.54" stroke="#a31b1b" stroke-width="1.2" /><line x1="419.2" y1="104.36" x2="425.8" y2="104.36" stroke="#a31b1b" stroke-width="1.2" /><line x1="419.2" y1="112.54" x2="425.8" y2="112.54" stroke="#a31b1b" stroke-width="1.2" /><line x1="480.8" y1="103" x2="480.8" y2="108.45" stroke="#a31b1b" stroke-width="1.2" /><line x1="477.5" y1="103" x2="484.1" y2="103" stroke="#a31b1b" stroke-width="1.2" /><line x1="477.5" y1="108.45" x2="484.1" y2="108.45" stroke="#a31b1b" stroke-width="1.2" /><circle cx="131" cy="321" r="3.9" fill="none" stroke="#a31b1b" stroke-width="1.2"/><circle cx="131" cy="321" r="1.75" fill="#a31b1b"/><circle cx="189.3" cy="321" r="3.9" fill="none" stroke="#a31b1b" stroke-width="1.2"/><circle cx="189.3" cy="321" r="1.75" fill="#a31b1b"/><circle cx="247.6" cy="226.99" r="3.9" fill="none" stroke="#a31b1b" stroke-width="1.2"/><circle cx="247.6" cy="226.99" r="1.75" fill="#a31b1b"/><circle cx="305.9" cy="97.55" r="3.9" fill="none" stroke="#a31b1b" stroke-width="1.2"/><circle cx="305.9" cy="97.55" r="1.75" fill="#a31b1b"/><circle cx="364.2" cy="103" r="3.9" fill="none" stroke="#a31b1b" stroke-width="1.2"/><circle cx="364.2" cy="103" r="1.75" fill="#a31b1b"/><circle cx="422.5" cy="108.45" r="3.9" fill="none" stroke="#a31b1b" stroke-width="1.2"/><circle cx="422.5" cy="108.45" r="1.75" fill="#a31b1b"/><circle cx="480.8" cy="105.72" r="3.9" fill="none" stroke="#a31b1b" stroke-width="1.2"/><circle cx="480.8" cy="105.72" r="1.75" fill="#a31b1b"/></g>
<g><polyline points="131,321 189.3,321 247.6,201.1 305.9,103 364.2,105.72 422.5,111.18 480.8,105.72" fill="none" stroke="#fbd3df" stroke-width="1.5" stroke-linejoin="round" /><line x1="247.6" y1="182.03" x2="247.6" y2="220.18" stroke="#fbd3df" stroke-width="1.2" /><line x1="244.3" y1="182.03" x2="250.9" y2="182.03" stroke="#fbd3df" stroke-width="1.2" /><line x1="244.3" y1="220.18" x2="250.9" y2="220.18" stroke="#fbd3df" stroke-width="1.2" /><line x1="305.9" y1="97.55" x2="305.9" y2="108.45" stroke="#fbd3df" stroke-width="1.2" /><line x1="302.6" y1="97.55" x2="309.2" y2="97.55" stroke="#fbd3df" stroke-width="1.2" /><line x1="302.6" y1="108.45" x2="309.2" y2="108.45" stroke="#fbd3df" stroke-width="1.2" /><line x1="364.2" y1="100.28" x2="364.2" y2="111.18" stroke="#fbd3df" stroke-width="1.2" /><line x1="360.9" y1="100.28" x2="367.5" y2="100.28" stroke="#fbd3df" stroke-width="1.2" /><line x1="360.9" y1="111.18" x2="367.5" y2="111.18" stroke="#fbd3df" stroke-width="1.2" /><line x1="422.5" y1="105.72" x2="422.5" y2="116.62" stroke="#fbd3df" stroke-width="1.2" /><line x1="419.2" y1="105.72" x2="425.8" y2="105.72" stroke="#fbd3df" stroke-width="1.2" /><line x1="419.2" y1="116.62" x2="425.8" y2="116.62" stroke="#fbd3df" stroke-width="1.2" /><line x1="480.8" y1="103" x2="480.8" y2="108.45" stroke="#fbd3df" stroke-width="1.2" /><line x1="477.5" y1="103" x2="484.1" y2="103" stroke="#fbd3df" stroke-width="1.2" /><line x1="477.5" y1="108.45" x2="484.1" y2="108.45" stroke="#fbd3df" stroke-width="1.2" /><path d="M131,325.29 L134.9,317.88 L127.1,317.88 Z" fill="#fbd3df"/><path d="M189.3,325.29 L193.2,317.88 L185.4,317.88 Z" fill="#fbd3df"/><path d="M247.6,205.39 L251.5,197.98 L243.7,197.98 Z" fill="#fbd3df"/><path d="M305.9,107.29 L309.8,99.88 L302,99.88 Z" fill="#fbd3df"/><path d="M364.2,110.02 L368.1,102.6 L360.3,102.6 Z" fill="#fbd3df"/><path d="M422.5,115.47 L426.4,108.06 L418.6,108.06 Z" fill="#fbd3df"/><path d="M480.8,110.02 L484.7,102.6 L476.9,102.6 Z" fill="#fbd3df"/></g>
<g><polyline points="131,321 189.3,321 247.6,277.4 305.9,186.11 364.2,176.57 422.5,171.12 480.8,130.25" fill="none" stroke="#58d63e" stroke-width="1.5" stroke-linejoin="round" /><line x1="247.6" y1="269.23" x2="247.6" y2="285.57" stroke="#58d63e" stroke-width="1.2" /><line x1="244.3" y1="269.23" x2="250.9" y2="269.23" stroke="#58d63e" stroke-width="1.2" /><line x1="244.3" y1="285.57" x2="250.9" y2="285.57" stroke="#58d63e" stroke-width="1.2" /><line x1="305.9" y1="180.66" x2="305.9" y2="191.56" stroke="#58d63e" stroke-width="1.2" /><line x1="302.6" y1="180.66" x2="309.2" y2="180.66" stroke="#58d63e" stroke-width="1.2" /><line x1="302.6" y1="191.56" x2="309.2" y2="191.56" stroke="#58d63e" stroke-width="1.2" /><line x1="364.2" y1="169.76" x2="364.2" y2="183.39" stroke="#58d63e" stroke-width="1.2" /><line x1="360.9" y1="169.76" x2="367.5" y2="169.76" stroke="#58d63e" stroke-width="1.2" /><line x1="360.9" y1="183.39" x2="367.5" y2="183.39" stroke="#58d63e" stroke-width="1.2" /><line x1="422.5" y1="162.95" x2="422.5" y2="179.3" stroke="#58d63e" stroke-width="1.2" /><line x1="419.2" y1="162.95" x2="425.8" y2="162.95" stroke="#58d63e" stroke-width="1.2" /><line x1="419.2" y1="179.3" x2="425.8" y2="179.3" stroke="#58d63e" stroke-width="1.2" /><line x1="480.8" y1="111.18" x2="480.8" y2="149.32" stroke="#58d63e" stroke-width="1.2" /><line x1="477.5" y1="111.18" x2="484.1" y2="111.18" stroke="#58d63e" stroke-width="1.2" /><line x1="477.5" y1="149.32" x2="484.1" y2="149.32" stroke="#58d63e" stroke-width="1.2" /><rect x="127.1" y="317.1" width="7.8" height="7.8" fill="none" stroke="#58d63e" stroke-width="1.2"/><rect x="185.4" y="317.1" width="7.8" height="7.8" fill="none" stroke="#58d63e" stroke-width="1.2"/><rect x="243.7" y="273.5" width="7.8" height="7.8" fill="none" stroke="#58d63e" stroke-width="1.2"/><rect x="302" y="182.21" width="7.8" height="7.8" fill="none" stroke="#58d63e" stroke-width="1.2"/><rect x="360.3" y="172.67" width="7.8" height="7.8" fill="none" stroke="#58d63e" stroke-width="1.2"/><rect x="418.6" y="167.22" width="7.8" height="7.8" fill="none" stroke="#58d63e" stroke-width="1.2"/><rect x="476.9" y="126.35" width="7.8" height="7.8" fill="none" stroke="#58d63e" stroke-width="1.2"/></g>
<g><polyline points="131,321 189.3,321 247.6,261.05 305.9,143.88 364.2,94.82 422.5,78.47 480.8,78.47" fill="none" stroke="#a9ee80" stroke-width="1.5" stroke-linejoin="round" /><line x1="247.6" y1="252.88" x2="247.6" y2="269.23" stroke="#a9ee80" stroke-width="1.2" /><line x1="244.3" y1="252.88" x2="250.9" y2="252.88" stroke="#a9ee80" stroke-width="1.2" /><line x1="244.3" y1="269.23" x2="250.9" y2="269.23" stroke="#a9ee80" stroke-width="1.2" /><line x1="305.9" y1="138.43" x2="305.9" y2="149.32" stroke="#a9ee80" stroke-width="1.2" /><line x1="302.6" y1="138.43" x2="309.2" y2="138.43" stroke="#a9ee80" stroke-width="1.2" /><line x1="302.6" y1="149.32" x2="309.2" y2="149.32" stroke="#a9ee80" stroke-width="1.2" /><line x1="364.2" y1="90.74" x2="364.2" y2="98.91" stroke="#a9ee80" stroke-width="1.2" /><line x1="360.9" y1="90.74" x2="367.5" y2="90.74" stroke="#a9ee80" stroke-width="1.2" /><line x1="360.9" y1="98.91" x2="367.5" y2="98.91" stroke="#a9ee80" stroke-width="1.2" /><line x1="422.5" y1="75.75" x2="422.5" y2="81.2" stroke="#a9ee80" stroke-width="1.2" /><line x1="419.2" y1="75.75" x2="425.8" y2="75.75" stroke="#a9ee80" stroke-width="1.2" /><line x1="419.2" y1="81.2" x2="425.8" y2="81.2" stroke="#a9ee80" stroke-width="1.2" /><line x1="480.8" y1="75.75" x2="480.8" y2="81.2" stroke="#a9ee80" stroke-width="1.2" /><line x1="477.5" y1="75.75" x2="484.1" y2="75.75" stroke="#a9ee80" stroke-width="1.2" /><line x1="477.5" y1="81.2" x2="484.1" y2="81.2" stroke="#a9ee80" stroke-width="1.2" /><circle cx="131" cy="321" r="3.9" fill="none" stroke="#a9ee80" stroke-width="1.2"/><line x1="127.1" y1="321" x2="134.9" y2="321" stroke="#a9ee80" stroke-width="1.2" /><circle cx="189.3" cy="321" r="3.9" fill="none" stroke="#a9ee80" stroke-width="1.2"/><line x1="185.4" y1="321" x2="193.2" y2="321" stroke="#a9ee80" stroke-width="1.2" /><circle cx="247.6" cy="261.05" r="3.9" fill="none" stroke="#a9ee80" stroke-width="1.2"/><line x1="243.7" y1="261.05" x2="251.5" y2="261.05" stroke="#a9ee80" stroke-width="1.2" /><circle cx="305.9" cy="143.88" r="3.9" fill="none" stroke="#a9ee80" stroke-width="1.2"/><line x1="302" y1="143.88" x2="309.8" y2="143.88" stroke="#a9ee80" stroke-width="1.2" /><circle cx="364.2" cy="94.82" r="3.9" fill="none" stroke="#a9ee80" stroke-width="1.2"/><line x1="360.3" y1="94.82" x2="368.1" y2="94.82" stroke="#a9ee80" stroke-width="1.2" /><circle cx="422.5" cy="78.47" r="3.9" fill="none" stroke="#a9ee80" stroke-width="1.2"/><line x1="418.6" y1="78.47" x2="426.4" y2="78.47" stroke="#a9ee80" stroke-width="1.2" /><circle cx="480.8" cy="78.47" r="3.9" fill="none" stroke="#a9ee80" stroke-width="1.2"/><line x1="476.9" y1="78.47" x2="484.7" y2="78.47" stroke="#a9ee80" stroke-width="1.2" /></g>
<g><polyline points="131,321 189.3,321 247.6,222.9 305.9,81.2 364.2,81.2 422.5,77.11 480.8,77.11" fill="none" stroke="#62e03c" stroke-width="1.5" stroke-linejoin="round" /><line x1="247.6" y1="214.72" x2="247.6" y2="231.07" stroke="#62e03c" stroke-width="1.2" /><line x1="244.3" y1="214.72" x2="250.9" y2="214.72" stroke="#62e03c" stroke-width="1.2" /><line x1="244.3" y1="231.07" x2="250.9" y2="231.07" stroke="#62e03c" stroke-width="1.2" /><path d="M131,316.71 L134.9,324.12 L127.1,324.12 Z" fill="none" stroke="#62e03c" stroke-width="1.2"/><path d="M189.3,316.71 L193.2,324.12 L185.4,324.12 Z" fill="none" stroke="#62e03c" stroke-width="1.2"/><path d="M247.6,218.61 L251.5,226.02 L243.7,226.02 Z" fill="none" stroke="#62e03c" stroke-width="1.2"/><path d="M305.9,76.91 L309.8,84.32 L302,84.32 Z" fill="none" stroke="#62e03c" stroke-width="1.2"/><path d="M364.2,76.91 L368.1,84.32 L360.3,84.32 Z" fill="none" stroke="#62e03c" stroke-width="1.2"/><path d="M422.5,72.82 L426.4,80.23 L418.6,80.23 Z" fill="none" stroke="#62e03c" stroke-width="1.2"/><path d="M480.8,72.82 L484.7,80.23 L476.9,80.23 Z" fill="none" stroke="#62e03c" stroke-width="1.2"/></g>
<g><polyline points="131,321 189.3,321 247.6,269.23 305.9,190.2 364.2,173.85 422.5,160.22 480.8,75.75" fill="none" stroke="#1f6a1c" stroke-width="1.5" stroke-linejoin="round" /><line x1="247.6" y1="261.05" x2="247.6" y2="277.4" stroke="#1f6a1c" stroke-width="1.2" /><line x1="244.3" y1="261.05" x2="250.9" y2="261.05" stroke="#1f6a1c" stroke-width="1.2" /><line x1="244.3" y1="277.4" x2="250.9" y2="277.4" stroke="#1f6a1c" stroke-width="1.2" /><line x1="305.9" y1="176.57" x2="305.9" y2="203.82" stroke="#1f6a1c" stroke-width="1.2" /><line x1="302.6" y1="176.57" x2="309.2" y2="176.57" stroke="#1f6a1c" stroke-width="1.2" /><line x1="302.6" y1="203.82" x2="309.2" y2="203.82" stroke="#1f6a1c" stroke-width="1.2" /><line x1="364.2" y1="164.31" x2="364.2" y2="183.39" stroke="#1f6a1c" stroke-width="1.2" /><line x1="360.9" y1="164.31" x2="367.5" y2="164.31" stroke="#1f6a1c" stroke-width="1.2" /><line x1="360.9" y1="183.39" x2="367.5" y2="183.39" stroke="#1f6a1c" stroke-width="1.2" /><line x1="422.5" y1="138.43" x2="422.5" y2="182.03" stroke="#1f6a1c" stroke-width="1.2" /><line x1="419.2" y1="138.43" x2="425.8" y2="138.43" stroke="#1f6a1c" stroke-width="1.2" /><line x1="419.2" y1="182.03" x2="425.8" y2="182.03" stroke="#1f6a1c" stroke-width="1.2" /><path d="M131,315.54 L135.68,321 L131,326.46 L126.32,321 Z" fill="#1f6a1c"/><path d="M189.3,315.54 L193.98,321 L189.3,326.46 L184.62,321 Z" fill="#1f6a1c"/><path d="M247.6,263.77 L252.28,269.23 L247.6,274.69 L242.92,269.23 Z" fill="#1f6a1c"/><path d="M305.9,184.74 L310.58,190.2 L305.9,195.66 L301.22,190.2 Z" fill="#1f6a1c"/><path d="M364.2,168.39 L368.88,173.85 L364.2,179.31 L359.52,173.85 Z" fill="#1f6a1c"/><path d="M422.5,154.76 L427.18,160.22 L422.5,165.69 L417.82,160.22 Z" fill="#1f6a1c"/><path d="M480.8,70.29 L485.48,75.75 L480.8,81.21 L476.12,75.75 Z" fill="#1f6a1c"/></g>
<g><polyline points="131,321 189.3,321 247.6,271.95 305.9,187.47 364.2,186.11 422.5,179.3 480.8,113.9" fill="none" stroke="#2b9aab" stroke-width="1.5" stroke-linejoin="round" /><line x1="247.6" y1="266.5" x2="247.6" y2="277.4" stroke="#2b9aab" stroke-width="1.2" /><line x1="244.3" y1="266.5" x2="250.9" y2="266.5" stroke="#2b9aab" stroke-width="1.2" /><line x1="244.3" y1="277.4" x2="250.9" y2="277.4" stroke="#2b9aab" stroke-width="1.2" /><line x1="305.9" y1="182.03" x2="305.9" y2="192.93" stroke="#2b9aab" stroke-width="1.2" /><line x1="302.6" y1="182.03" x2="309.2" y2="182.03" stroke="#2b9aab" stroke-width="1.2" /><line x1="302.6" y1="192.93" x2="309.2" y2="192.93" stroke="#2b9aab" stroke-width="1.2" /><line x1="364.2" y1="180.66" x2="364.2" y2="191.56" stroke="#2b9aab" stroke-width="1.2" /><line x1="360.9" y1="180.66" x2="367.5" y2="180.66" stroke="#2b9aab" stroke-width="1.2" /><line x1="360.9" y1="191.56" x2="367.5" y2="191.56" stroke="#2b9aab" stroke-width="1.2" /><line x1="422.5" y1="173.85" x2="422.5" y2="184.75" stroke="#2b9aab" stroke-width="1.2" /><line x1="419.2" y1="173.85" x2="425.8" y2="173.85" stroke="#2b9aab" stroke-width="1.2" /><line x1="419.2" y1="184.75" x2="425.8" y2="184.75" stroke="#2b9aab" stroke-width="1.2" /><line x1="480.8" y1="108.45" x2="480.8" y2="119.35" stroke="#2b9aab" stroke-width="1.2" /><line x1="477.5" y1="108.45" x2="484.1" y2="108.45" stroke="#2b9aab" stroke-width="1.2" /><line x1="477.5" y1="119.35" x2="484.1" y2="119.35" stroke="#2b9aab" stroke-width="1.2" /><line x1="131" y1="321.39" x2="131" y2="326.85" stroke="#2b9aab" stroke-width="1.2" /><circle cx="131" cy="318.86" r="2.54" fill="none" stroke="#2b9aab" stroke-width="1.2"/><line x1="189.3" y1="321.39" x2="189.3" y2="326.85" stroke="#2b9aab" stroke-width="1.2" /><circle cx="189.3" cy="318.86" r="2.54" fill="none" stroke="#2b9aab" stroke-width="1.2"/><line x1="247.6" y1="272.34" x2="247.6" y2="277.8" stroke="#2b9aab" stroke-width="1.2" /><circle cx="247.6" cy="269.81" r="2.54" fill="none" stroke="#2b9aab" stroke-width="1.2"/><line x1="305.9" y1="187.86" x2="305.9" y2="193.32" stroke="#2b9aab" stroke-width="1.2" /><circle cx="305.9" cy="185.33" r="2.54" fill="none" stroke="#2b9aab" stroke-width="1.2"/><line x1="364.2" y1="186.5" x2="364.2" y2="191.96" stroke="#2b9aab" stroke-width="1.2" /><circle cx="364.2" cy="183.97" r="2.54" fill="none" stroke="#2b9aab" stroke-width="1.2"/><line x1="422.5" y1="179.69" x2="422.5" y2="185.15" stroke="#2b9aab" stroke-width="1.2" /><circle cx="422.5" cy="177.16" r="2.54" fill="none" stroke="#2b9aab" stroke-width="1.2"/><line x1="480.8" y1="114.29" x2="480.8" y2="119.75" stroke="#2b9aab" stroke-width="1.2" /><circle cx="480.8" cy="111.76" r="2.54" fill="none" stroke="#2b9aab" stroke-width="1.2"/></g>
<g><polyline points="131,321 189.3,321 247.6,282.85 305.9,190.2 364.2,198.38 422.5,162.95 480.8,134.34" fill="none" stroke="#f23bd3" stroke-width="1.5" stroke-linejoin="round" /><line x1="247.6" y1="276.04" x2="247.6" y2="289.66" stroke="#f23bd3" stroke-width="1.2" /><line x1="244.3" y1="276.04" x2="250.9" y2="276.04" stroke="#f23bd3" stroke-width="1.2" /><line x1="244.3" y1="289.66" x2="250.9" y2="289.66" stroke="#f23bd3" stroke-width="1.2" /><line x1="305.9" y1="184.75" x2="305.9" y2="195.65" stroke="#f23bd3" stroke-width="1.2" /><line x1="302.6" y1="184.75" x2="309.2" y2="184.75" stroke="#f23bd3" stroke-width="1.2" /><line x1="302.6" y1="195.65" x2="309.2" y2="195.65" stroke="#f23bd3" stroke-width="1.2" /><line x1="364.2" y1="190.2" x2="364.2" y2="206.55" stroke="#f23bd3" stroke-width="1.2" /><line x1="360.9" y1="190.2" x2="367.5" y2="190.2" stroke="#f23bd3" stroke-width="1.2" /><line x1="360.9" y1="206.55" x2="367.5" y2="206.55" stroke="#f23bd3" stroke-width="1.2" /><line x1="422.5" y1="154.78" x2="422.5" y2="171.12" stroke="#f23bd3" stroke-width="1.2" /><line x1="419.2" y1="154.78" x2="425.8" y2="154.78" stroke="#f23bd3" stroke-width="1.2" /><line x1="419.2" y1="171.12" x2="425.8" y2="171.12" stroke="#f23bd3" stroke-width="1.2" /><line x1="480.8" y1="128.89" x2="480.8" y2="139.79" stroke="#f23bd3" stroke-width="1.2" /><line x1="477.5" y1="128.89" x2="484.1" y2="128.89" stroke="#f23bd3" stroke-width="1.2" /><line x1="477.5" y1="139.79" x2="484.1" y2="139.79" stroke="#f23bd3" stroke-width="1.2" /><path d="M131,316.71 L134.9,324.12 L127.1,324.12 Z" fill="#f23bd3"/><path d="M189.3,316.71 L193.2,324.12 L185.4,324.12 Z" fill="#f23bd3"/><path d="M247.6,278.56 L251.5,285.97 L243.7,285.97 Z" fill="#f23bd3"/><path d="M305.9,185.91 L309.8,193.32 L302,193.32 Z" fill="#f23bd3"/><path d="M364.2,194.09 L368.1,201.5 L360.3,201.5 Z" fill="#f23bd3"/><path d="M422.5,158.66 L426.4,166.07 L418.6,166.07 Z" fill="#f23bd3"/><path d="M480.8,130.05 L484.7,137.46 L476.9,137.46 Z" fill="#f23bd3"/></g>
<g><polyline points="131,321 189.3,321 247.6,263.77 305.9,176.57 364.2,164.31 422.5,168.4 480.8,108.45" fill="none" stroke="#f3f32e" stroke-width="1.5" stroke-linejoin="round" /><line x1="247.6" y1="255.6" x2="247.6" y2="271.95" stroke="#f3f32e" stroke-width="1.2" /><line x1="244.3" y1="255.6" x2="250.9" y2="255.6" stroke="#f3f32e" stroke-width="1.2" /><line x1="244.3" y1="271.95" x2="250.9" y2="271.95" stroke="#f3f32e" stroke-width="1.2" /><line x1="305.9" y1="171.12" x2="305.9" y2="182.03" stroke="#f3f32e" stroke-width="1.2" /><line x1="302.6" y1="171.12" x2="309.2" y2="171.12" stroke="#f3f32e" stroke-width="1.2" /><line x1="302.6" y1="182.03" x2="309.2" y2="182.03" stroke="#f3f32e" stroke-width="1.2" /><line x1="364.2" y1="153.41" x2="364.2" y2="175.21" stroke="#f3f32e" stroke-width="1.2" /><line x1="360.9" y1="153.41" x2="367.5" y2="153.41" stroke="#f3f32e" stroke-width="1.2" /><line x1="360.9" y1="175.21" x2="367.5" y2="175.21" stroke="#f3f32e" stroke-width="1.2" /><line x1="422.5" y1="162.95" x2="422.5" y2="173.85" stroke="#f3f32e" stroke-width="1.2" /><line x1="419.2" y1="162.95" x2="425.8" y2="162.95" stroke="#f3f32e" stroke-width="1.2" /><line x1="419.2" y1="173.85" x2="425.8" y2="173.85" stroke="#f3f32e" stroke-width="1.2" /><line x1="480.8" y1="103" x2="480.8" y2="113.9" stroke="#f3f32e" stroke-width="1.2" /><line x1="477.5" y1="103" x2="484.1" y2="103" stroke="#f3f32e" stroke-width="1.2" /><line x1="477.5" y1="113.9" x2="484.1" y2="113.9" stroke="#f3f32e" stroke-width="1.2" /><line x1="127.1" y1="317.1" x2="134.9" y2="324.9" stroke="#f3f32e" stroke-width="1.2" /><line x1="127.1" y1="324.9" x2="134.9" y2="317.1" stroke="#f3f32e" stroke-width="1.2" /><line x1="185.4" y1="317.1" x2="193.2" y2="324.9" stroke="#f3f32e" stroke-width="1.2" /><line x1="185.4" y1="324.9" x2="193.2" y2="317.1" stroke="#f3f32e" stroke-width="1.2" /><line x1="243.7" y1="259.88" x2="251.5" y2="267.67" stroke="#f3f32e" stroke-width="1.2" /><line x1="243.7" y1="267.67" x2="251.5" y2="259.88" stroke="#f3f32e" stroke-width="1.2" /><line x1="302" y1="172.67" x2="309.8" y2="180.47" stroke="#f3f32e" stroke-width="1.2" /><line x1="302" y1="180.47" x2="309.8" y2="172.67" stroke="#f3f32e" stroke-width="1.2" /><line x1="360.3" y1="160.41" x2="368.1" y2="168.21" stroke="#f3f32e" stroke-width="1.2" /><line x1="360.3" y1="168.21" x2="368.1" y2="160.41" stroke="#f3f32e" stroke-width="1.2" /><line x1="418.6" y1="164.5" x2="426.4" y2="172.3" stroke="#f3f32e" stroke-width="1.2" /><line x1="418.6" y1="172.3" x2="426.4" y2="164.5" stroke="#f3f32e" stroke-width="1.2" /><line x1="476.9" y1="104.55" x2="484.7" y2="112.35" stroke="#f3f32e" stroke-width="1.2" /><line x1="476.9" y1="112.35" x2="484.7" y2="104.55" stroke="#f3f32e" stroke-width="1.2" /></g>
<g><polyline points="131,321 189.3,321 247.6,244.7 305.9,130.25 364.2,127.53 422.5,113.9 480.8,108.45" fill="none" stroke="#d4de8c" stroke-width="1.5" stroke-linejoin="round" /><line x1="247.6" y1="236.53" x2="247.6" y2="252.88" stroke="#d4de8c" stroke-width="1.2" /><line x1="244.3" y1="236.53" x2="250.9" y2="236.53" stroke="#d4de8c" stroke-width="1.2" /><line x1="244.3" y1="252.88" x2="250.9" y2="252.88" stroke="#d4de8c" stroke-width="1.2" /><line x1="305.9" y1="124.8" x2="305.9" y2="135.7" stroke="#d4de8c" stroke-width="1.2" /><line x1="302.6" y1="124.8" x2="309.2" y2="124.8" stroke="#d4de8c" stroke-width="1.2" /><line x1="302.6" y1="135.7" x2="309.2" y2="135.7" stroke="#d4de8c" stroke-width="1.2" /><line x1="364.2" y1="120.71" x2="364.2" y2="134.34" stroke="#d4de8c" stroke-width="1.2" /><line x1="360.9" y1="120.71" x2="367.5" y2="120.71" stroke="#d4de8c" stroke-width="1.2" /><line x1="360.9" y1="134.34" x2="367.5" y2="134.34" stroke="#d4de8c" stroke-width="1.2" /><line x1="422.5" y1="108.45" x2="422.5" y2="119.35" stroke="#d4de8c" stroke-width="1.2" /><line x1="419.2" y1="108.45" x2="425.8" y2="108.45" stroke="#d4de8c" stroke-width="1.2" /><line x1="419.2" y1="119.35" x2="425.8" y2="119.35" stroke="#d4de8c" stroke-width="1.2" /><line x1="480.8" y1="103" x2="480.8" y2="113.9" stroke="#d4de8c" stroke-width="1.2" /><line x1="477.5" y1="103" x2="484.1" y2="103" stroke="#d4de8c" stroke-width="1.2" /><line x1="477.5" y1="113.9" x2="484.1" y2="113.9" stroke="#d4de8c" stroke-width="1.2" /><path d="M131,325.29 L134.9,317.88 L127.1,317.88 Z" fill="none" stroke="#d4de8c" stroke-width="1.2"/><path d="M189.3,325.29 L193.2,317.88 L185.4,317.88 Z" fill="none" stroke="#d4de8c" stroke-width="1.2"/><path d="M247.6,248.99 L251.5,241.58 L243.7,241.58 Z" fill="none" stroke="#d4de8c" stroke-width="1.2"/><path d="M305.9,134.54 L309.8,127.13 L302,127.13 Z" fill="none" stroke="#d4de8c" stroke-width="1.2"/><path d="M364.2,131.81 L368.1,124.41 L360.3,124.41 Z" fill="none" stroke="#d4de8c" stroke-width="1.2"/><path d="M422.5,118.19 L426.4,110.78 L418.6,110.78 Z" fill="none" stroke="#d4de8c" stroke-width="1.2"/><path d="M480.8,112.74 L484.7,105.33 L476.9,105.33 Z" fill="none" stroke="#d4de8c" stroke-width="1.2"/></g>
<g><polyline points="131,321 189.3,321 247.6,252.88 305.9,138.43 364.2,113.9 422.5,116.62 480.8,105.72" fill="none" stroke="#b9d41f" stroke-width="1.5" stroke-linejoin="round" /><line x1="247.6" y1="241.97" x2="247.6" y2="263.77" stroke="#b9d41f" stroke-width="1.2" /><line x1="244.3" y1="241.97" x2="250.9" y2="241.97" stroke="#b9d41f" stroke-width="1.2" /><line x1="244.3" y1="263.77" x2="250.9" y2="263.77" stroke="#b9d41f" stroke-width="1.2" /><line x1="305.9" y1="130.25" x2="305.9" y2="146.6" stroke="#b9d41f" stroke-width="1.2" /><line x1="302.6" y1="130.25" x2="309.2" y2="130.25" stroke="#b9d41f" stroke-width="1.2" /><line x1="302.6" y1="146.6" x2="309.2" y2="146.6" stroke="#b9d41f" stroke-width="1.2" /><line x1="364.2" y1="108.45" x2="364.2" y2="119.35" stroke="#b9d41f" stroke-width="1.2" /><line x1="360.9" y1="108.45" x2="367.5" y2="108.45" stroke="#b9d41f" stroke-width="1.2" /><line x1="360.9" y1="119.35" x2="367.5" y2="119.35" stroke="#b9d41f" stroke-width="1.2" /><line x1="422.5" y1="112.54" x2="422.5" y2="120.71" stroke="#b9d41f" stroke-width="1.2" /><line x1="419.2" y1="112.54" x2="425.8" y2="112.54" stroke="#b9d41f" stroke-width="1.2" /><line x1="419.2" y1="120.71" x2="425.8" y2="120.71" stroke="#b9d41f" stroke-width="1.2" /><line x1="480.8" y1="100.28" x2="480.8" y2="111.18" stroke="#b9d41f" stroke-width="1.2" /><line x1="477.5" y1="100.28" x2="484.1" y2="100.28" stroke="#b9d41f" stroke-width="1.2" /><line x1="477.5" y1="111.18" x2="484.1" y2="111.18" stroke="#b9d41f" stroke-width="1.2" /><rect x="126.4" y="316.4" width="9.2" height="9.2" fill="#b9d41f"/><rect x="184.7" y="316.4" width="9.2" height="9.2" fill="#b9d41f"/><rect x="243" y="248.27" width="9.2" height="9.2" fill="#b9d41f"/><rect x="301.3" y="133.82" width="9.2" height="9.2" fill="#b9d41f"/><rect x="359.6" y="109.3" width="9.2" height="9.2" fill="#b9d41f"/><rect x="417.9" y="112.02" width="9.2" height="9.2" fill="#b9d41f"/><rect x="476.2" y="101.12" width="9.2" height="9.2" fill="#b9d41f"/></g>
<g><polyline points="131,321 189.3,165.68 247.6,100.28 305.9,105.72 364.2,97.55 422.5,94.82 480.8,100.28" fill="none" stroke="#262626" stroke-width="1.5" stroke-linejoin="round" /><line x1="189.3" y1="143.88" x2="189.3" y2="187.47" stroke="#262626" stroke-width="1.2" /><line x1="186" y1="143.88" x2="192.6" y2="143.88" stroke="#262626" stroke-width="1.2" /><line x1="186" y1="187.47" x2="192.6" y2="187.47" stroke="#262626" stroke-width="1.2" /><circle cx="131" cy="321" r="4.29" fill="#262626"/><circle cx="189.3" cy="165.68" r="4.29" fill="#262626"/><circle cx="247.6" cy="100.28" r="4.29" fill="#262626"/><circle cx="305.9" cy="105.72" r="4.29" fill="#262626"/><circle cx="364.2" cy="97.55" r="4.29" fill="#262626"/><circle cx="422.5" cy="94.82" r="4.29" fill="#262626"/><circle cx="480.8" cy="100.28" r="4.29" fill="#262626"/></g><text x="5" y="19" font-size="20" text-anchor="start" fill="#161616" >A</text><text transform="translate(53.6,187.4) rotate(-90)" font-size="19" text-anchor="middle" fill="#161616">IAA Degradation rate</text>
<g stroke="#1e1e1e" stroke-width="1.5">
<path d="M626.3,312.7 V40.5 H1035 V312.7" fill="none" stroke-width="1.4"/>
<line x1="618.3" y1="312.7" x2="1035.7" y2="312.7" stroke-width="1.4"/>
</g>
<circle cx="630.45" cy="313.1" r="1.7" fill="#1e1e1e"/>
<circle cx="638.8" cy="313.1" r="1.7" fill="#1e1e1e"/>
<circle cx="647.15" cy="313.1" r="1.7" fill="#1e1e1e"/>
<circle cx="655.5" cy="313.1" r="1.7" fill="#1e1e1e"/>
<circle cx="663.85" cy="313.1" r="1.7" fill="#1e1e1e"/>
<circle cx="672.2" cy="313.1" r="1.7" fill="#1e1e1e"/>
<circle cx="680.55" cy="313.1" r="1.7" fill="#1e1e1e"/>
<circle cx="688.9" cy="313.1" r="1.7" fill="#1e1e1e"/>
<circle cx="697.25" cy="313.1" r="1.7" fill="#1e1e1e"/>
<circle cx="705.6" cy="313.1" r="1.7" fill="#1e1e1e"/>
<circle cx="713.95" cy="313.1" r="1.7" fill="#1e1e1e"/>
<circle cx="722.3" cy="313.1" r="1.7" fill="#1e1e1e"/>
<circle cx="730.65" cy="313.1" r="1.7" fill="#1e1e1e"/>
<circle cx="739" cy="313.1" r="1.7" fill="#1e1e1e"/>
<circle cx="747.35" cy="313.1" r="1.7" fill="#1e1e1e"/>
<circle cx="755.7" cy="313.1" r="1.7" fill="#1e1e1e"/>
<circle cx="764.05" cy="313.1" r="1.7" fill="#1e1e1e"/>
<circle cx="772.4" cy="313.1" r="1.7" fill="#1e1e1e"/>
<circle cx="780.75" cy="313.1" r="1.7" fill="#1e1e1e"/>
<circle cx="789.1" cy="313.1" r="1.7" fill="#1e1e1e"/>
<circle cx="797.45" cy="313.1" r="1.7" fill="#1e1e1e"/>
<circle cx="805.8" cy="313.1" r="1.7" fill="#1e1e1e"/>
<circle cx="814.15" cy="313.1" r="1.7" fill="#1e1e1e"/>
<circle cx="822.5" cy="313.1" r="1.7" fill="#1e1e1e"/>
<circle cx="830.85" cy="313.1" r="1.7" fill="#1e1e1e"/>
<circle cx="839.2" cy="313.1" r="1.7" fill="#1e1e1e"/>
<circle cx="847.55" cy="313.1" r="1.7" fill="#1e1e1e"/>
<circle cx="855.9" cy="313.1" r="1.7" fill="#1e1e1e"/>
<circle cx="864.25" cy="313.1" r="1.7" fill="#1e1e1e"/>
<circle cx="872.6" cy="313.1" r="1.7" fill="#1e1e1e"/>
<circle cx="880.95" cy="313.1" r="1.7" fill="#1e1e1e"/>
<circle cx="889.3" cy="313.1" r="1.7" fill="#1e1e1e"/>
<circle cx="897.65" cy="313.1" r="1.7" fill="#1e1e1e"/>
<circle cx="906" cy="313.1" r="1.7" fill="#1e1e1e"/>
<circle cx="914.35" cy="313.1" r="1.7" fill="#1e1e1e"/>
<circle cx="922.7" cy="313.1" r="1.7" fill="#1e1e1e"/>
<circle cx="931.05" cy="313.1" r="1.7" fill="#1e1e1e"/>
<circle cx="939.4" cy="313.1" r="1.7" fill="#1e1e1e"/>
<circle cx="947.75" cy="313.1" r="1.7" fill="#1e1e1e"/>
<circle cx="956.1" cy="313.1" r="1.7" fill="#1e1e1e"/>
<circle cx="964.45" cy="313.1" r="1.7" fill="#1e1e1e"/>
<circle cx="972.8" cy="313.1" r="1.7" fill="#1e1e1e"/>
<circle cx="981.15" cy="313.1" r="1.7" fill="#1e1e1e"/>
<circle cx="989.5" cy="313.1" r="1.7" fill="#1e1e1e"/>
<circle cx="997.85" cy="313.1" r="1.7" fill="#1e1e1e"/>
<circle cx="1006.2" cy="313.1" r="1.7" fill="#1e1e1e"/>
<circle cx="1014.55" cy="313.1" r="1.7" fill="#1e1e1e"/>
<circle cx="1022.9" cy="313.1" r="1.7" fill="#1e1e1e"/>
<circle cx="1031.25" cy="313.1" r="1.7" fill="#1e1e1e"/>
<line x1="655.5" y1="312.7" x2="655.5" y2="319.7" stroke="#1e1e1e" stroke-width="1.5" />
<text x="655.5" y="336.7" font-size="14.8" text-anchor="middle" fill="#161616" >0h</text>
<line x1="713.95" y1="312.7" x2="713.95" y2="319.7" stroke="#1e1e1e" stroke-width="1.5" />
<text x="713.95" y="336.7" font-size="14.8" text-anchor="middle" fill="#161616" >12h</text>
<line x1="772.4" y1="312.7" x2="772.4" y2="319.7" stroke="#1e1e1e" stroke-width="1.5" />
<text x="772.4" y="336.7" font-size="14.8" text-anchor="middle" fill="#161616" >24h</text>
<line x1="830.85" y1="312.7" x2="830.85" y2="319.7" stroke="#1e1e1e" stroke-width="1.5" />
<text x="830.85" y="336.7" font-size="14.8" text-anchor="middle" fill="#161616" >36h</text>
<line x1="889.3" y1="312.7" x2="889.3" y2="319.7" stroke="#1e1e1e" stroke-width="1.5" />
<text x="889.3" y="336.7" font-size="14.8" text-anchor="middle" fill="#161616" >48h</text>
<line x1="947.75" y1="312.7" x2="947.75" y2="319.7" stroke="#1e1e1e" stroke-width="1.5" />
<text x="947.75" y="336.7" font-size="14.8" text-anchor="middle" fill="#161616" >60h</text>
<line x1="1006.2" y1="312.7" x2="1006.2" y2="319.7" stroke="#1e1e1e" stroke-width="1.5" />
<text x="1006.2" y="336.7" font-size="14.8" text-anchor="middle" fill="#161616" >72h</text>
<line x1="618.3" y1="312.7" x2="626.3" y2="312.7" stroke="#1e1e1e" stroke-width="1.4" />
<text x="615.4" y="317.5" font-size="14.8" text-anchor="end" fill="#161616" >0.00</text>
<line x1="618.3" y1="199.3" x2="626.3" y2="199.3" stroke="#1e1e1e" stroke-width="1.4" />
<text x="615.4" y="204.1" font-size="14.8" text-anchor="end" fill="#161616" >0.05</text>
<line x1="618.3" y1="85.9" x2="626.3" y2="85.9" stroke="#1e1e1e" stroke-width="1.4" />
<text x="615.4" y="90.7" font-size="14.8" text-anchor="end" fill="#161616" >0.10</text>
<g><polyline points="655.5,285.48 713.95,208.37 772.4,93.84 830.85,101.78 889.3,106.31 947.75,133.53 1006.2,140.33" fill="none" stroke="#808c8d" stroke-width="1.5" stroke-linejoin="round" /><line x1="713.95" y1="199.3" x2="713.95" y2="217.44" stroke="#808c8d" stroke-width="1.2" /><line x1="710.65" y1="199.3" x2="717.25" y2="199.3" stroke="#808c8d" stroke-width="1.2" /><line x1="710.65" y1="217.44" x2="717.25" y2="217.44" stroke="#808c8d" stroke-width="1.2" /><line x1="772.4" y1="87.03" x2="772.4" y2="100.64" stroke="#808c8d" stroke-width="1.2" /><line x1="769.1" y1="87.03" x2="775.7" y2="87.03" stroke="#808c8d" stroke-width="1.2" /><line x1="769.1" y1="100.64" x2="775.7" y2="100.64" stroke="#808c8d" stroke-width="1.2" /><line x1="830.85" y1="92.7" x2="830.85" y2="110.85" stroke="#808c8d" stroke-width="1.2" /><line x1="827.55" y1="92.7" x2="834.15" y2="92.7" stroke="#808c8d" stroke-width="1.2" /><line x1="827.55" y1="110.85" x2="834.15" y2="110.85" stroke="#808c8d" stroke-width="1.2" /><line x1="889.3" y1="97.24" x2="889.3" y2="115.38" stroke="#808c8d" stroke-width="1.2" /><line x1="886" y1="97.24" x2="892.6" y2="97.24" stroke="#808c8d" stroke-width="1.2" /><line x1="886" y1="115.38" x2="892.6" y2="115.38" stroke="#808c8d" stroke-width="1.2" /><line x1="947.75" y1="128.99" x2="947.75" y2="138.06" stroke="#808c8d" stroke-width="1.2" /><line x1="944.45" y1="128.99" x2="951.05" y2="128.99" stroke="#808c8d" stroke-width="1.2" /><line x1="944.45" y1="138.06" x2="951.05" y2="138.06" stroke="#808c8d" stroke-width="1.2" /><line x1="1006.2" y1="135.8" x2="1006.2" y2="144.87" stroke="#808c8d" stroke-width="1.2" /><line x1="1002.9" y1="135.8" x2="1009.5" y2="135.8" stroke="#808c8d" stroke-width="1.2" /><line x1="1002.9" y1="144.87" x2="1009.5" y2="144.87" stroke="#808c8d" stroke-width="1.2" /><circle cx="655.5" cy="285.48" r="3.6" fill="#808c8d"/><circle cx="713.95" cy="208.37" r="3.6" fill="#808c8d"/><circle cx="772.4" cy="93.84" r="3.6" fill="#808c8d"/><circle cx="830.85" cy="101.78" r="3.6" fill="#808c8d"/><circle cx="889.3" cy="106.31" r="3.6" fill="#808c8d"/><circle cx="947.75" cy="133.53" r="3.6" fill="#808c8d"/><circle cx="1006.2" cy="140.33" r="3.6" fill="#808c8d"/></g>
<g><polyline points="655.5,285.48 713.95,181.16 772.4,92.7 830.85,115.38 889.3,121.05 947.75,126.72 1006.2,138.06" fill="none" stroke="#5f7274" stroke-width="1.5" stroke-linejoin="round" /><line x1="713.95" y1="174.35" x2="713.95" y2="187.96" stroke="#5f7274" stroke-width="1.2" /><line x1="710.65" y1="174.35" x2="717.25" y2="174.35" stroke="#5f7274" stroke-width="1.2" /><line x1="710.65" y1="187.96" x2="717.25" y2="187.96" stroke="#5f7274" stroke-width="1.2" /><line x1="772.4" y1="85.9" x2="772.4" y2="99.51" stroke="#5f7274" stroke-width="1.2" /><line x1="769.1" y1="85.9" x2="775.7" y2="85.9" stroke="#5f7274" stroke-width="1.2" /><line x1="769.1" y1="99.51" x2="775.7" y2="99.51" stroke="#5f7274" stroke-width="1.2" /><line x1="830.85" y1="101.78" x2="830.85" y2="128.99" stroke="#5f7274" stroke-width="1.2" /><line x1="827.55" y1="101.78" x2="834.15" y2="101.78" stroke="#5f7274" stroke-width="1.2" /><line x1="827.55" y1="128.99" x2="834.15" y2="128.99" stroke="#5f7274" stroke-width="1.2" /><line x1="889.3" y1="105.18" x2="889.3" y2="136.93" stroke="#5f7274" stroke-width="1.2" /><line x1="886" y1="105.18" x2="892.6" y2="105.18" stroke="#5f7274" stroke-width="1.2" /><line x1="886" y1="136.93" x2="892.6" y2="136.93" stroke="#5f7274" stroke-width="1.2" /><line x1="947.75" y1="119.92" x2="947.75" y2="133.53" stroke="#5f7274" stroke-width="1.2" /><line x1="944.45" y1="119.92" x2="951.05" y2="119.92" stroke="#5f7274" stroke-width="1.2" /><line x1="944.45" y1="133.53" x2="951.05" y2="133.53" stroke="#5f7274" stroke-width="1.2" /><line x1="1006.2" y1="133.53" x2="1006.2" y2="142.6" stroke="#5f7274" stroke-width="1.2" /><line x1="1002.9" y1="133.53" x2="1009.5" y2="133.53" stroke="#5f7274" stroke-width="1.2" /><line x1="1002.9" y1="142.6" x2="1009.5" y2="142.6" stroke="#5f7274" stroke-width="1.2" /><rect x="651.9" y="281.88" width="7.2" height="7.2" fill="#dfe6e6" stroke="#5f7274" stroke-width="1.2"/><line x1="651.9" y1="281.88" x2="659.1" y2="289.08" stroke="#5f7274" stroke-width="1.2" /><line x1="651.9" y1="289.08" x2="659.1" y2="281.88" stroke="#5f7274" stroke-width="1.2" /><rect x="710.35" y="177.56" width="7.2" height="7.2" fill="#dfe6e6" stroke="#5f7274" stroke-width="1.2"/><line x1="710.35" y1="177.56" x2="717.55" y2="184.76" stroke="#5f7274" stroke-width="1.2" /><line x1="710.35" y1="184.76" x2="717.55" y2="177.56" stroke="#5f7274" stroke-width="1.2" /><rect x="768.8" y="89.1" width="7.2" height="7.2" fill="#dfe6e6" stroke="#5f7274" stroke-width="1.2"/><line x1="768.8" y1="89.1" x2="776" y2="96.3" stroke="#5f7274" stroke-width="1.2" /><line x1="768.8" y1="96.3" x2="776" y2="89.1" stroke="#5f7274" stroke-width="1.2" /><rect x="827.25" y="111.78" width="7.2" height="7.2" fill="#dfe6e6" stroke="#5f7274" stroke-width="1.2"/><line x1="827.25" y1="111.78" x2="834.45" y2="118.98" stroke="#5f7274" stroke-width="1.2" /><line x1="827.25" y1="118.98" x2="834.45" y2="111.78" stroke="#5f7274" stroke-width="1.2" /><rect x="885.7" y="117.45" width="7.2" height="7.2" fill="#dfe6e6" stroke="#5f7274" stroke-width="1.2"/><line x1="885.7" y1="117.45" x2="892.9" y2="124.65" stroke="#5f7274" stroke-width="1.2" /><line x1="885.7" y1="124.65" x2="892.9" y2="117.45" stroke="#5f7274" stroke-width="1.2" /><rect x="944.15" y="123.12" width="7.2" height="7.2" fill="#dfe6e6" stroke="#5f7274" stroke-width="1.2"/><line x1="944.15" y1="123.12" x2="951.35" y2="130.32" stroke="#5f7274" stroke-width="1.2" /><line x1="944.15" y1="130.32" x2="951.35" y2="123.12" stroke="#5f7274" stroke-width="1.2" /><rect x="1002.6" y="134.46" width="7.2" height="7.2" fill="#dfe6e6" stroke="#5f7274" stroke-width="1.2"/><line x1="1002.6" y1="134.46" x2="1009.8" y2="141.66" stroke="#5f7274" stroke-width="1.2" /><line x1="1002.6" y1="141.66" x2="1009.8" y2="134.46" stroke="#5f7274" stroke-width="1.2" /></g>
<g><polyline points="655.5,285.48 713.95,181.16 772.4,92.7 830.85,90.44 889.3,90.44 947.75,92.7 1006.2,90.44" fill="none" stroke="#97a6a6" stroke-width="1.5" stroke-linejoin="round" /><line x1="713.95" y1="165.28" x2="713.95" y2="197.03" stroke="#97a6a6" stroke-width="1.2" /><line x1="710.65" y1="165.28" x2="717.25" y2="165.28" stroke="#97a6a6" stroke-width="1.2" /><line x1="710.65" y1="197.03" x2="717.25" y2="197.03" stroke="#97a6a6" stroke-width="1.2" /><line x1="772.4" y1="85.9" x2="772.4" y2="99.51" stroke="#97a6a6" stroke-width="1.2" /><line x1="769.1" y1="85.9" x2="775.7" y2="85.9" stroke="#97a6a6" stroke-width="1.2" /><line x1="769.1" y1="99.51" x2="775.7" y2="99.51" stroke="#97a6a6" stroke-width="1.2" /><line x1="830.85" y1="83.63" x2="830.85" y2="97.24" stroke="#97a6a6" stroke-width="1.2" /><line x1="827.55" y1="83.63" x2="834.15" y2="83.63" stroke="#97a6a6" stroke-width="1.2" /><line x1="827.55" y1="97.24" x2="834.15" y2="97.24" stroke="#97a6a6" stroke-width="1.2" /><line x1="889.3" y1="83.63" x2="889.3" y2="97.24" stroke="#97a6a6" stroke-width="1.2" /><line x1="886" y1="83.63" x2="892.6" y2="83.63" stroke="#97a6a6" stroke-width="1.2" /><line x1="886" y1="97.24" x2="892.6" y2="97.24" stroke="#97a6a6" stroke-width="1.2" /><line x1="947.75" y1="83.63" x2="947.75" y2="101.78" stroke="#97a6a6" stroke-width="1.2" /><line x1="944.45" y1="83.63" x2="951.05" y2="83.63" stroke="#97a6a6" stroke-width="1.2" /><line x1="944.45" y1="101.78" x2="951.05" y2="101.78" stroke="#97a6a6" stroke-width="1.2" /><line x1="1006.2" y1="81.36" x2="1006.2" y2="99.51" stroke="#97a6a6" stroke-width="1.2" /><line x1="1002.9" y1="81.36" x2="1009.5" y2="81.36" stroke="#97a6a6" stroke-width="1.2" /><line x1="1002.9" y1="99.51" x2="1009.5" y2="99.51" stroke="#97a6a6" stroke-width="1.2" /><line x1="655.5" y1="280.08" x2="655.5" y2="285.12" stroke="#97a6a6" stroke-width="1.2" /><circle cx="655.5" cy="287.46" r="2.34" fill="none" stroke="#97a6a6" stroke-width="1.2"/><line x1="713.95" y1="175.76" x2="713.95" y2="180.8" stroke="#97a6a6" stroke-width="1.2" /><circle cx="713.95" cy="183.14" r="2.34" fill="none" stroke="#97a6a6" stroke-width="1.2"/><line x1="772.4" y1="87.3" x2="772.4" y2="92.34" stroke="#97a6a6" stroke-width="1.2" /><circle cx="772.4" cy="94.68" r="2.34" fill="none" stroke="#97a6a6" stroke-width="1.2"/><line x1="830.85" y1="85.04" x2="830.85" y2="90.08" stroke="#97a6a6" stroke-width="1.2" /><circle cx="830.85" cy="92.42" r="2.34" fill="none" stroke="#97a6a6" stroke-width="1.2"/><line x1="889.3" y1="85.04" x2="889.3" y2="90.08" stroke="#97a6a6" stroke-width="1.2" /><circle cx="889.3" cy="92.42" r="2.34" fill="none" stroke="#97a6a6" stroke-width="1.2"/><line x1="947.75" y1="87.3" x2="947.75" y2="92.34" stroke="#97a6a6" stroke-width="1.2" /><circle cx="947.75" cy="94.68" r="2.34" fill="none" stroke="#97a6a6" stroke-width="1.2"/><line x1="1006.2" y1="85.04" x2="1006.2" y2="90.08" stroke="#97a6a6" stroke-width="1.2" /><circle cx="1006.2" cy="92.42" r="2.34" fill="none" stroke="#97a6a6" stroke-width="1.2"/></g>
<g><polyline points="655.5,285.48 713.95,187.96 772.4,79.1 830.85,83.63 889.3,85.9 947.75,88.17 1006.2,85.9" fill="none" stroke="#d3d9d9" stroke-width="1.5" stroke-linejoin="round" /><line x1="713.95" y1="181.16" x2="713.95" y2="194.76" stroke="#d3d9d9" stroke-width="1.2" /><line x1="710.65" y1="181.16" x2="717.25" y2="181.16" stroke="#d3d9d9" stroke-width="1.2" /><line x1="710.65" y1="194.76" x2="717.25" y2="194.76" stroke="#d3d9d9" stroke-width="1.2" /><line x1="772.4" y1="74.56" x2="772.4" y2="83.63" stroke="#d3d9d9" stroke-width="1.2" /><line x1="769.1" y1="74.56" x2="775.7" y2="74.56" stroke="#d3d9d9" stroke-width="1.2" /><line x1="769.1" y1="83.63" x2="775.7" y2="83.63" stroke="#d3d9d9" stroke-width="1.2" /><line x1="830.85" y1="76.83" x2="830.85" y2="90.44" stroke="#d3d9d9" stroke-width="1.2" /><line x1="827.55" y1="76.83" x2="834.15" y2="76.83" stroke="#d3d9d9" stroke-width="1.2" /><line x1="827.55" y1="90.44" x2="834.15" y2="90.44" stroke="#d3d9d9" stroke-width="1.2" /><line x1="889.3" y1="79.1" x2="889.3" y2="92.7" stroke="#d3d9d9" stroke-width="1.2" /><line x1="886" y1="79.1" x2="892.6" y2="79.1" stroke="#d3d9d9" stroke-width="1.2" /><line x1="886" y1="92.7" x2="892.6" y2="92.7" stroke="#d3d9d9" stroke-width="1.2" /><line x1="947.75" y1="79.1" x2="947.75" y2="97.24" stroke="#d3d9d9" stroke-width="1.2" /><line x1="944.45" y1="79.1" x2="951.05" y2="79.1" stroke="#d3d9d9" stroke-width="1.2" /><line x1="944.45" y1="97.24" x2="951.05" y2="97.24" stroke="#d3d9d9" stroke-width="1.2" /><line x1="1006.2" y1="74.56" x2="1006.2" y2="97.24" stroke="#d3d9d9" stroke-width="1.2" /><line x1="1002.9" y1="74.56" x2="1009.5" y2="74.56" stroke="#d3d9d9" stroke-width="1.2" /><line x1="1002.9" y1="97.24" x2="1009.5" y2="97.24" stroke="#d3d9d9" stroke-width="1.2" /><path d="M655.5,280.44 L659.82,285.48 L655.5,290.52 L651.18,285.48 Z" fill="#d3d9d9"/><path d="M713.95,182.92 L718.27,187.96 L713.95,193 L709.63,187.96 Z" fill="#d3d9d9"/><path d="M772.4,74.06 L776.72,79.1 L772.4,84.14 L768.08,79.1 Z" fill="#d3d9d9"/><path d="M830.85,78.59 L835.17,83.63 L830.85,88.67 L826.53,83.63 Z" fill="#d3d9d9"/><path d="M889.3,80.86 L893.62,85.9 L889.3,90.94 L884.98,85.9 Z" fill="#d3d9d9"/><path d="M947.75,83.13 L952.07,88.17 L947.75,93.21 L943.43,88.17 Z" fill="#d3d9d9"/><path d="M1006.2,80.86 L1010.52,85.9 L1006.2,90.94 L1001.88,85.9 Z" fill="#d3d9d9"/></g>
<g><polyline points="655.5,287.75 713.95,267.34 772.4,244.66 830.85,208.37 889.3,176.62 947.75,147.14 1006.2,140.33" fill="none" stroke="#f9b274" stroke-width="1.5" stroke-linejoin="round" /><line x1="713.95" y1="265.07" x2="713.95" y2="269.61" stroke="#f9b274" stroke-width="1.2" /><line x1="710.65" y1="265.07" x2="717.25" y2="265.07" stroke="#f9b274" stroke-width="1.2" /><line x1="710.65" y1="269.61" x2="717.25" y2="269.61" stroke="#f9b274" stroke-width="1.2" /><line x1="772.4" y1="240.12" x2="772.4" y2="249.2" stroke="#f9b274" stroke-width="1.2" /><line x1="769.1" y1="240.12" x2="775.7" y2="240.12" stroke="#f9b274" stroke-width="1.2" /><line x1="769.1" y1="249.2" x2="775.7" y2="249.2" stroke="#f9b274" stroke-width="1.2" /><line x1="830.85" y1="201.57" x2="830.85" y2="215.18" stroke="#f9b274" stroke-width="1.2" /><line x1="827.55" y1="201.57" x2="834.15" y2="201.57" stroke="#f9b274" stroke-width="1.2" /><line x1="827.55" y1="215.18" x2="834.15" y2="215.18" stroke="#f9b274" stroke-width="1.2" /><line x1="889.3" y1="172.08" x2="889.3" y2="181.16" stroke="#f9b274" stroke-width="1.2" /><line x1="886" y1="172.08" x2="892.6" y2="172.08" stroke="#f9b274" stroke-width="1.2" /><line x1="886" y1="181.16" x2="892.6" y2="181.16" stroke="#f9b274" stroke-width="1.2" /><line x1="947.75" y1="144.87" x2="947.75" y2="149.4" stroke="#f9b274" stroke-width="1.2" /><line x1="944.45" y1="144.87" x2="951.05" y2="144.87" stroke="#f9b274" stroke-width="1.2" /><line x1="944.45" y1="149.4" x2="951.05" y2="149.4" stroke="#f9b274" stroke-width="1.2" /><line x1="1006.2" y1="133.53" x2="1006.2" y2="147.14" stroke="#f9b274" stroke-width="1.2" /><line x1="1002.9" y1="133.53" x2="1009.5" y2="133.53" stroke="#f9b274" stroke-width="1.2" /><line x1="1002.9" y1="147.14" x2="1009.5" y2="147.14" stroke="#f9b274" stroke-width="1.2" /><line x1="651.9" y1="287.75" x2="659.1" y2="287.75" stroke="#f9b274" stroke-width="1.2" /><line x1="653.7" y1="284.63" x2="657.3" y2="290.87" stroke="#f9b274" stroke-width="1.2" /><line x1="657.3" y1="284.63" x2="653.7" y2="290.87" stroke="#f9b274" stroke-width="1.2" /><line x1="710.35" y1="267.34" x2="717.55" y2="267.34" stroke="#f9b274" stroke-width="1.2" /><line x1="712.15" y1="264.22" x2="715.75" y2="270.46" stroke="#f9b274" stroke-width="1.2" /><line x1="715.75" y1="264.22" x2="712.15" y2="270.46" stroke="#f9b274" stroke-width="1.2" /><line x1="768.8" y1="244.66" x2="776" y2="244.66" stroke="#f9b274" stroke-width="1.2" /><line x1="770.6" y1="241.54" x2="774.2" y2="247.78" stroke="#f9b274" stroke-width="1.2" /><line x1="774.2" y1="241.54" x2="770.6" y2="247.78" stroke="#f9b274" stroke-width="1.2" /><line x1="827.25" y1="208.37" x2="834.45" y2="208.37" stroke="#f9b274" stroke-width="1.2" /><line x1="829.05" y1="205.25" x2="832.65" y2="211.49" stroke="#f9b274" stroke-width="1.2" /><line x1="832.65" y1="205.25" x2="829.05" y2="211.49" stroke="#f9b274" stroke-width="1.2" /><line x1="885.7" y1="176.62" x2="892.9" y2="176.62" stroke="#f9b274" stroke-width="1.2" /><line x1="887.5" y1="173.5" x2="891.1" y2="179.74" stroke="#f9b274" stroke-width="1.2" /><line x1="891.1" y1="173.5" x2="887.5" y2="179.74" stroke="#f9b274" stroke-width="1.2" /><line x1="944.15" y1="147.14" x2="951.35" y2="147.14" stroke="#f9b274" stroke-width="1.2" /><line x1="945.95" y1="144.02" x2="949.55" y2="150.25" stroke="#f9b274" stroke-width="1.2" /><line x1="949.55" y1="144.02" x2="945.95" y2="150.25" stroke="#f9b274" stroke-width="1.2" /><line x1="1002.6" y1="140.33" x2="1009.8" y2="140.33" stroke="#f9b274" stroke-width="1.2" /><line x1="1004.4" y1="137.21" x2="1008" y2="143.45" stroke="#f9b274" stroke-width="1.2" /><line x1="1008" y1="137.21" x2="1004.4" y2="143.45" stroke="#f9b274" stroke-width="1.2" /></g>
<g><polyline points="655.5,287.75 713.95,267.34 772.4,246.93 830.85,215.18 889.3,181.16 947.75,153.94 1006.2,138.06" fill="none" stroke="#f7953e" stroke-width="1.5" stroke-linejoin="round" /><line x1="713.95" y1="265.07" x2="713.95" y2="269.61" stroke="#f7953e" stroke-width="1.2" /><line x1="710.65" y1="265.07" x2="717.25" y2="265.07" stroke="#f7953e" stroke-width="1.2" /><line x1="710.65" y1="269.61" x2="717.25" y2="269.61" stroke="#f7953e" stroke-width="1.2" /><line x1="772.4" y1="242.39" x2="772.4" y2="251.46" stroke="#f7953e" stroke-width="1.2" /><line x1="769.1" y1="242.39" x2="775.7" y2="242.39" stroke="#f7953e" stroke-width="1.2" /><line x1="769.1" y1="251.46" x2="775.7" y2="251.46" stroke="#f7953e" stroke-width="1.2" /><line x1="830.85" y1="208.37" x2="830.85" y2="221.98" stroke="#f7953e" stroke-width="1.2" /><line x1="827.55" y1="208.37" x2="834.15" y2="208.37" stroke="#f7953e" stroke-width="1.2" /><line x1="827.55" y1="221.98" x2="834.15" y2="221.98" stroke="#f7953e" stroke-width="1.2" /><line x1="889.3" y1="176.62" x2="889.3" y2="185.69" stroke="#f7953e" stroke-width="1.2" /><line x1="886" y1="176.62" x2="892.6" y2="176.62" stroke="#f7953e" stroke-width="1.2" /><line x1="886" y1="185.69" x2="892.6" y2="185.69" stroke="#f7953e" stroke-width="1.2" /><line x1="947.75" y1="149.4" x2="947.75" y2="158.48" stroke="#f7953e" stroke-width="1.2" /><line x1="944.45" y1="149.4" x2="951.05" y2="149.4" stroke="#f7953e" stroke-width="1.2" /><line x1="944.45" y1="158.48" x2="951.05" y2="158.48" stroke="#f7953e" stroke-width="1.2" /><line x1="1006.2" y1="131.26" x2="1006.2" y2="144.87" stroke="#f7953e" stroke-width="1.2" /><line x1="1002.9" y1="131.26" x2="1009.5" y2="131.26" stroke="#f7953e" stroke-width="1.2" /><line x1="1002.9" y1="144.87" x2="1009.5" y2="144.87" stroke="#f7953e" stroke-width="1.2" /><line x1="651.9" y1="287.75" x2="659.1" y2="287.75" stroke="#f7953e" stroke-width="1.2" /><line x1="655.5" y1="284.15" x2="655.5" y2="291.35" stroke="#f7953e" stroke-width="1.2" /><line x1="710.35" y1="267.34" x2="717.55" y2="267.34" stroke="#f7953e" stroke-width="1.2" /><line x1="713.95" y1="263.74" x2="713.95" y2="270.94" stroke="#f7953e" stroke-width="1.2" /><line x1="768.8" y1="246.93" x2="776" y2="246.93" stroke="#f7953e" stroke-width="1.2" /><line x1="772.4" y1="243.33" x2="772.4" y2="250.53" stroke="#f7953e" stroke-width="1.2" /><line x1="827.25" y1="215.18" x2="834.45" y2="215.18" stroke="#f7953e" stroke-width="1.2" /><line x1="830.85" y1="211.58" x2="830.85" y2="218.78" stroke="#f7953e" stroke-width="1.2" /><line x1="885.7" y1="181.16" x2="892.9" y2="181.16" stroke="#f7953e" stroke-width="1.2" /><line x1="889.3" y1="177.56" x2="889.3" y2="184.76" stroke="#f7953e" stroke-width="1.2" /><line x1="944.15" y1="153.94" x2="951.35" y2="153.94" stroke="#f7953e" stroke-width="1.2" /><line x1="947.75" y1="150.34" x2="947.75" y2="157.54" stroke="#f7953e" stroke-width="1.2" /><line x1="1002.6" y1="138.06" x2="1009.8" y2="138.06" stroke="#f7953e" stroke-width="1.2" /><line x1="1006.2" y1="134.46" x2="1006.2" y2="141.66" stroke="#f7953e" stroke-width="1.2" /></g>
<g><polyline points="655.5,287.75 713.95,299.09 772.4,278.68 830.85,233.32 889.3,191.36 947.75,161.88 1006.2,142.6" fill="none" stroke="#f5821f" stroke-width="1.5" stroke-linejoin="round" /><line x1="772.4" y1="276.41" x2="772.4" y2="280.95" stroke="#f5821f" stroke-width="1.2" /><line x1="769.1" y1="276.41" x2="775.7" y2="276.41" stroke="#f5821f" stroke-width="1.2" /><line x1="769.1" y1="280.95" x2="775.7" y2="280.95" stroke="#f5821f" stroke-width="1.2" /><line x1="830.85" y1="231.05" x2="830.85" y2="235.59" stroke="#f5821f" stroke-width="1.2" /><line x1="827.55" y1="231.05" x2="834.15" y2="231.05" stroke="#f5821f" stroke-width="1.2" /><line x1="827.55" y1="235.59" x2="834.15" y2="235.59" stroke="#f5821f" stroke-width="1.2" /><line x1="889.3" y1="186.83" x2="889.3" y2="195.9" stroke="#f5821f" stroke-width="1.2" /><line x1="886" y1="186.83" x2="892.6" y2="186.83" stroke="#f5821f" stroke-width="1.2" /><line x1="886" y1="195.9" x2="892.6" y2="195.9" stroke="#f5821f" stroke-width="1.2" /><line x1="947.75" y1="157.34" x2="947.75" y2="166.41" stroke="#f5821f" stroke-width="1.2" /><line x1="944.45" y1="157.34" x2="951.05" y2="157.34" stroke="#f5821f" stroke-width="1.2" /><line x1="944.45" y1="166.41" x2="951.05" y2="166.41" stroke="#f5821f" stroke-width="1.2" /><line x1="1006.2" y1="135.8" x2="1006.2" y2="149.4" stroke="#f5821f" stroke-width="1.2" /><line x1="1002.9" y1="135.8" x2="1009.5" y2="135.8" stroke="#f5821f" stroke-width="1.2" /><line x1="1002.9" y1="149.4" x2="1009.5" y2="149.4" stroke="#f5821f" stroke-width="1.2" /><rect x="651.9" y="284.15" width="7.2" height="7.2" fill="none" stroke="#f5821f" stroke-width="1.2"/><rect x="654.06" y="286.31" width="2.88" height="2.88" fill="#f5821f"/><rect x="710.35" y="295.49" width="7.2" height="7.2" fill="none" stroke="#f5821f" stroke-width="1.2"/><rect x="712.51" y="297.65" width="2.88" height="2.88" fill="#f5821f"/><rect x="768.8" y="275.08" width="7.2" height="7.2" fill="none" stroke="#f5821f" stroke-width="1.2"/><rect x="770.96" y="277.24" width="2.88" height="2.88" fill="#f5821f"/><rect x="827.25" y="229.72" width="7.2" height="7.2" fill="none" stroke="#f5821f" stroke-width="1.2"/><rect x="829.41" y="231.88" width="2.88" height="2.88" fill="#f5821f"/><rect x="885.7" y="187.76" width="7.2" height="7.2" fill="none" stroke="#f5821f" stroke-width="1.2"/><rect x="887.86" y="189.92" width="2.88" height="2.88" fill="#f5821f"/><rect x="944.15" y="158.28" width="7.2" height="7.2" fill="none" stroke="#f5821f" stroke-width="1.2"/><rect x="946.31" y="160.44" width="2.88" height="2.88" fill="#f5821f"/><rect x="1002.6" y="139" width="7.2" height="7.2" fill="none" stroke="#f5821f" stroke-width="1.2"/><rect x="1004.76" y="141.16" width="2.88" height="2.88" fill="#f5821f"/></g>
<g><polyline points="655.5,287.75 713.95,283.22 772.4,283.22 830.85,268.47 889.3,253.73 947.75,236.72 1006.2,237.86" fill="none" stroke="#f2682a" stroke-width="1.5" stroke-linejoin="round" /><line x1="713.95" y1="278.68" x2="713.95" y2="287.75" stroke="#f2682a" stroke-width="1.2" /><line x1="710.65" y1="278.68" x2="717.25" y2="278.68" stroke="#f2682a" stroke-width="1.2" /><line x1="710.65" y1="287.75" x2="717.25" y2="287.75" stroke="#f2682a" stroke-width="1.2" /><path d="M655.5,283.61 L659.1,287.75 L655.5,291.89 L651.9,287.75 Z" fill="none" stroke="#f2682a" stroke-width="1.2"/><path d="M713.95,279.08 L717.55,283.22 L713.95,287.36 L710.35,283.22 Z" fill="none" stroke="#f2682a" stroke-width="1.2"/><path d="M772.4,279.08 L776,283.22 L772.4,287.36 L768.8,283.22 Z" fill="none" stroke="#f2682a" stroke-width="1.2"/><path d="M830.85,264.33 L834.45,268.47 L830.85,272.61 L827.25,268.47 Z" fill="none" stroke="#f2682a" stroke-width="1.2"/><path d="M889.3,249.59 L892.9,253.73 L889.3,257.87 L885.7,253.73 Z" fill="none" stroke="#f2682a" stroke-width="1.2"/><path d="M947.75,232.58 L951.35,236.72 L947.75,240.86 L944.15,236.72 Z" fill="none" stroke="#f2682a" stroke-width="1.2"/><path d="M1006.2,233.72 L1009.8,237.86 L1006.2,242 L1002.6,237.86 Z" fill="none" stroke="#f2682a" stroke-width="1.2"/></g>
<g><polyline points="655.5,290.02 713.95,299.09 772.4,301.36 830.85,305.9 889.3,305.9 947.75,308.16 1006.2,310.43" fill="none" stroke="#58d63e" stroke-width="1.5" stroke-linejoin="round" /><rect x="651.9" y="286.42" width="7.2" height="7.2" fill="none" stroke="#58d63e" stroke-width="1.2"/><rect x="710.35" y="295.49" width="7.2" height="7.2" fill="none" stroke="#58d63e" stroke-width="1.2"/><rect x="768.8" y="297.76" width="7.2" height="7.2" fill="none" stroke="#58d63e" stroke-width="1.2"/><rect x="827.25" y="302.3" width="7.2" height="7.2" fill="none" stroke="#58d63e" stroke-width="1.2"/><rect x="885.7" y="302.3" width="7.2" height="7.2" fill="none" stroke="#58d63e" stroke-width="1.2"/><rect x="944.15" y="304.56" width="7.2" height="7.2" fill="none" stroke="#58d63e" stroke-width="1.2"/><rect x="1002.6" y="306.83" width="7.2" height="7.2" fill="none" stroke="#58d63e" stroke-width="1.2"/></g>
<g><polyline points="655.5,290.02 713.95,296.82 772.4,294.56 830.85,292.29 889.3,285.48 947.75,274.14 1006.2,267.34" fill="none" stroke="#a9ee80" stroke-width="1.5" stroke-linejoin="round" /><circle cx="655.5" cy="290.02" r="3.6" fill="none" stroke="#a9ee80" stroke-width="1.2"/><line x1="651.9" y1="290.02" x2="659.1" y2="290.02" stroke="#a9ee80" stroke-width="1.2" /><circle cx="713.95" cy="296.82" r="3.6" fill="none" stroke="#a9ee80" stroke-width="1.2"/><line x1="710.35" y1="296.82" x2="717.55" y2="296.82" stroke="#a9ee80" stroke-width="1.2" /><circle cx="772.4" cy="294.56" r="3.6" fill="none" stroke="#a9ee80" stroke-width="1.2"/><line x1="768.8" y1="294.56" x2="776" y2="294.56" stroke="#a9ee80" stroke-width="1.2" /><circle cx="830.85" cy="292.29" r="3.6" fill="none" stroke="#a9ee80" stroke-width="1.2"/><line x1="827.25" y1="292.29" x2="834.45" y2="292.29" stroke="#a9ee80" stroke-width="1.2" /><circle cx="889.3" cy="285.48" r="3.6" fill="none" stroke="#a9ee80" stroke-width="1.2"/><line x1="885.7" y1="285.48" x2="892.9" y2="285.48" stroke="#a9ee80" stroke-width="1.2" /><circle cx="947.75" cy="274.14" r="3.6" fill="none" stroke="#a9ee80" stroke-width="1.2"/><line x1="944.15" y1="274.14" x2="951.35" y2="274.14" stroke="#a9ee80" stroke-width="1.2" /><circle cx="1006.2" cy="267.34" r="3.6" fill="none" stroke="#a9ee80" stroke-width="1.2"/><line x1="1002.6" y1="267.34" x2="1009.8" y2="267.34" stroke="#a9ee80" stroke-width="1.2" /></g>
<g><polyline points="655.5,287.75 713.95,296.82 772.4,285.48 830.85,276.41 889.3,276.41 947.75,285.48 1006.2,283.22" fill="none" stroke="#62e03c" stroke-width="1.5" stroke-linejoin="round" /><path d="M655.5,283.79 L659.1,290.63 L651.9,290.63 Z" fill="none" stroke="#62e03c" stroke-width="1.2"/><path d="M713.95,292.86 L717.55,299.7 L710.35,299.7 Z" fill="none" stroke="#62e03c" stroke-width="1.2"/><path d="M772.4,281.52 L776,288.36 L768.8,288.36 Z" fill="none" stroke="#62e03c" stroke-width="1.2"/><path d="M830.85,272.45 L834.45,279.29 L827.25,279.29 Z" fill="none" stroke="#62e03c" stroke-width="1.2"/><path d="M889.3,272.45 L892.9,279.29 L885.7,279.29 Z" fill="none" stroke="#62e03c" stroke-width="1.2"/><path d="M947.75,281.52 L951.35,288.36 L944.15,288.36 Z" fill="none" stroke="#62e03c" stroke-width="1.2"/><path d="M1006.2,279.26 L1009.8,286.1 L1002.6,286.1 Z" fill="none" stroke="#62e03c" stroke-width="1.2"/></g>
<g><polyline points="655.5,290.02 713.95,299.09 772.4,301.36 830.85,308.16 889.3,303.63 947.75,301.36 1006.2,296.82" fill="none" stroke="#1f6a1c" stroke-width="1.5" stroke-linejoin="round" /><line x1="889.3" y1="299.09" x2="889.3" y2="308.16" stroke="#1f6a1c" stroke-width="1.2" /><line x1="886" y1="299.09" x2="892.6" y2="299.09" stroke="#1f6a1c" stroke-width="1.2" /><line x1="886" y1="308.16" x2="892.6" y2="308.16" stroke="#1f6a1c" stroke-width="1.2" /><line x1="947.75" y1="296.82" x2="947.75" y2="305.9" stroke="#1f6a1c" stroke-width="1.2" /><line x1="944.45" y1="296.82" x2="951.05" y2="296.82" stroke="#1f6a1c" stroke-width="1.2" /><line x1="944.45" y1="305.9" x2="951.05" y2="305.9" stroke="#1f6a1c" stroke-width="1.2" /><line x1="1006.2" y1="292.29" x2="1006.2" y2="301.36" stroke="#1f6a1c" stroke-width="1.2" /><line x1="1002.9" y1="292.29" x2="1009.5" y2="292.29" stroke="#1f6a1c" stroke-width="1.2" /><line x1="1002.9" y1="301.36" x2="1009.5" y2="301.36" stroke="#1f6a1c" stroke-width="1.2" /><path d="M655.5,284.98 L659.82,290.02 L655.5,295.06 L651.18,290.02 Z" fill="#1f6a1c"/><path d="M713.95,294.05 L718.27,299.09 L713.95,304.13 L709.63,299.09 Z" fill="#1f6a1c"/><path d="M772.4,296.32 L776.72,301.36 L772.4,306.4 L768.08,301.36 Z" fill="#1f6a1c"/><path d="M830.85,303.12 L835.17,308.16 L830.85,313.2 L826.53,308.16 Z" fill="#1f6a1c"/><path d="M889.3,298.59 L893.62,303.63 L889.3,308.67 L884.98,303.63 Z" fill="#1f6a1c"/><path d="M947.75,296.32 L952.07,301.36 L947.75,306.4 L943.43,301.36 Z" fill="#1f6a1c"/><path d="M1006.2,291.78 L1010.52,296.82 L1006.2,301.86 L1001.88,296.82 Z" fill="#1f6a1c"/></g>
<g><polyline points="655.5,287.75 713.95,294.56 772.4,290.02 830.85,280.95 889.3,265.07 947.75,251.46 1006.2,231.05" fill="none" stroke="#fbd3df" stroke-width="1.5" stroke-linejoin="round" /><line x1="772.4" y1="287.75" x2="772.4" y2="292.29" stroke="#fbd3df" stroke-width="1.2" /><line x1="769.1" y1="287.75" x2="775.7" y2="287.75" stroke="#fbd3df" stroke-width="1.2" /><line x1="769.1" y1="292.29" x2="775.7" y2="292.29" stroke="#fbd3df" stroke-width="1.2" /><line x1="830.85" y1="276.41" x2="830.85" y2="285.48" stroke="#fbd3df" stroke-width="1.2" /><line x1="827.55" y1="276.41" x2="834.15" y2="276.41" stroke="#fbd3df" stroke-width="1.2" /><line x1="827.55" y1="285.48" x2="834.15" y2="285.48" stroke="#fbd3df" stroke-width="1.2" /><line x1="889.3" y1="258.27" x2="889.3" y2="271.88" stroke="#fbd3df" stroke-width="1.2" /><line x1="886" y1="258.27" x2="892.6" y2="258.27" stroke="#fbd3df" stroke-width="1.2" /><line x1="886" y1="271.88" x2="892.6" y2="271.88" stroke="#fbd3df" stroke-width="1.2" /><line x1="947.75" y1="242.39" x2="947.75" y2="260.54" stroke="#fbd3df" stroke-width="1.2" /><line x1="944.45" y1="242.39" x2="951.05" y2="242.39" stroke="#fbd3df" stroke-width="1.2" /><line x1="944.45" y1="260.54" x2="951.05" y2="260.54" stroke="#fbd3df" stroke-width="1.2" /><line x1="1006.2" y1="219.71" x2="1006.2" y2="242.39" stroke="#fbd3df" stroke-width="1.2" /><line x1="1002.9" y1="219.71" x2="1009.5" y2="219.71" stroke="#fbd3df" stroke-width="1.2" /><line x1="1002.9" y1="242.39" x2="1009.5" y2="242.39" stroke="#fbd3df" stroke-width="1.2" /><path d="M655.5,291.71 L659.1,284.87 L651.9,284.87 Z" fill="#fbd3df"/><path d="M713.95,298.52 L717.55,291.68 L710.35,291.68 Z" fill="#fbd3df"/><path d="M772.4,293.98 L776,287.14 L768.8,287.14 Z" fill="#fbd3df"/><path d="M830.85,284.91 L834.45,278.07 L827.25,278.07 Z" fill="#fbd3df"/><path d="M889.3,269.03 L892.9,262.19 L885.7,262.19 Z" fill="#fbd3df"/><path d="M947.75,255.42 L951.35,248.58 L944.15,248.58 Z" fill="#fbd3df"/><path d="M1006.2,235.01 L1009.8,228.17 L1002.6,228.17 Z" fill="#fbd3df"/></g>
<g><polyline points="655.5,287.75 713.95,308.16 772.4,292.29 830.85,294.56 889.3,280.95 947.75,276.41 1006.2,265.07" fill="none" stroke="#a31b1b" stroke-width="1.5" stroke-linejoin="round" /><line x1="889.3" y1="278.68" x2="889.3" y2="283.22" stroke="#a31b1b" stroke-width="1.2" /><line x1="886" y1="278.68" x2="892.6" y2="278.68" stroke="#a31b1b" stroke-width="1.2" /><line x1="886" y1="283.22" x2="892.6" y2="283.22" stroke="#a31b1b" stroke-width="1.2" /><line x1="947.75" y1="269.61" x2="947.75" y2="283.22" stroke="#a31b1b" stroke-width="1.2" /><line x1="944.45" y1="269.61" x2="951.05" y2="269.61" stroke="#a31b1b" stroke-width="1.2" /><line x1="944.45" y1="283.22" x2="951.05" y2="283.22" stroke="#a31b1b" stroke-width="1.2" /><line x1="1006.2" y1="262.8" x2="1006.2" y2="267.34" stroke="#a31b1b" stroke-width="1.2" /><line x1="1002.9" y1="262.8" x2="1009.5" y2="262.8" stroke="#a31b1b" stroke-width="1.2" /><line x1="1002.9" y1="267.34" x2="1009.5" y2="267.34" stroke="#a31b1b" stroke-width="1.2" /><circle cx="655.5" cy="287.75" r="3.6" fill="none" stroke="#a31b1b" stroke-width="1.2"/><circle cx="655.5" cy="287.75" r="1.62" fill="#a31b1b"/><circle cx="713.95" cy="308.16" r="3.6" fill="none" stroke="#a31b1b" stroke-width="1.2"/><circle cx="713.95" cy="308.16" r="1.62" fill="#a31b1b"/><circle cx="772.4" cy="292.29" r="3.6" fill="none" stroke="#a31b1b" stroke-width="1.2"/><circle cx="772.4" cy="292.29" r="1.62" fill="#a31b1b"/><circle cx="830.85" cy="294.56" r="3.6" fill="none" stroke="#a31b1b" stroke-width="1.2"/><circle cx="830.85" cy="294.56" r="1.62" fill="#a31b1b"/><circle cx="889.3" cy="280.95" r="3.6" fill="none" stroke="#a31b1b" stroke-width="1.2"/><circle cx="889.3" cy="280.95" r="1.62" fill="#a31b1b"/><circle cx="947.75" cy="276.41" r="3.6" fill="none" stroke="#a31b1b" stroke-width="1.2"/><circle cx="947.75" cy="276.41" r="1.62" fill="#a31b1b"/><circle cx="1006.2" cy="265.07" r="3.6" fill="none" stroke="#a31b1b" stroke-width="1.2"/><circle cx="1006.2" cy="265.07" r="1.62" fill="#a31b1b"/></g>
<g><polyline points="655.5,287.75 713.95,296.82 772.4,292.29 830.85,294.56 889.3,292.29 947.75,290.02 1006.2,280.95" fill="none" stroke="#ee2b4b" stroke-width="1.5" stroke-linejoin="round" /><line x1="651.9" y1="287.75" x2="659.1" y2="287.75" stroke="#ee2b4b" stroke-width="1.56" /><line x1="652.95" y1="285.21" x2="658.05" y2="290.3" stroke="#ee2b4b" stroke-width="1.56" /><line x1="655.5" y1="284.15" x2="655.5" y2="291.35" stroke="#ee2b4b" stroke-width="1.56" /><line x1="658.05" y1="285.21" x2="652.95" y2="290.3" stroke="#ee2b4b" stroke-width="1.56" /><line x1="710.35" y1="296.82" x2="717.55" y2="296.82" stroke="#ee2b4b" stroke-width="1.56" /><line x1="711.4" y1="294.28" x2="716.5" y2="299.37" stroke="#ee2b4b" stroke-width="1.56" /><line x1="713.95" y1="293.22" x2="713.95" y2="300.42" stroke="#ee2b4b" stroke-width="1.56" /><line x1="716.5" y1="294.28" x2="711.4" y2="299.37" stroke="#ee2b4b" stroke-width="1.56" /><line x1="768.8" y1="292.29" x2="776" y2="292.29" stroke="#ee2b4b" stroke-width="1.56" /><line x1="769.85" y1="289.74" x2="774.95" y2="294.83" stroke="#ee2b4b" stroke-width="1.56" /><line x1="772.4" y1="288.69" x2="772.4" y2="295.89" stroke="#ee2b4b" stroke-width="1.56" /><line x1="774.95" y1="289.74" x2="769.85" y2="294.83" stroke="#ee2b4b" stroke-width="1.56" /><line x1="827.25" y1="294.56" x2="834.45" y2="294.56" stroke="#ee2b4b" stroke-width="1.56" /><line x1="828.3" y1="292.01" x2="833.4" y2="297.1" stroke="#ee2b4b" stroke-width="1.56" /><line x1="830.85" y1="290.96" x2="830.85" y2="298.16" stroke="#ee2b4b" stroke-width="1.56" /><line x1="833.4" y1="292.01" x2="828.3" y2="297.1" stroke="#ee2b4b" stroke-width="1.56" /><line x1="885.7" y1="292.29" x2="892.9" y2="292.29" stroke="#ee2b4b" stroke-width="1.56" /><line x1="886.75" y1="289.74" x2="891.85" y2="294.83" stroke="#ee2b4b" stroke-width="1.56" /><line x1="889.3" y1="288.69" x2="889.3" y2="295.89" stroke="#ee2b4b" stroke-width="1.56" /><line x1="891.85" y1="289.74" x2="886.75" y2="294.83" stroke="#ee2b4b" stroke-width="1.56" /><line x1="944.15" y1="290.02" x2="951.35" y2="290.02" stroke="#ee2b4b" stroke-width="1.56" /><line x1="945.2" y1="287.47" x2="950.3" y2="292.57" stroke="#ee2b4b" stroke-width="1.56" /><line x1="947.75" y1="286.42" x2="947.75" y2="293.62" stroke="#ee2b4b" stroke-width="1.56" /><line x1="950.3" y1="287.47" x2="945.2" y2="292.57" stroke="#ee2b4b" stroke-width="1.56" /><line x1="1002.6" y1="280.95" x2="1009.8" y2="280.95" stroke="#ee2b4b" stroke-width="1.56" /><line x1="1003.65" y1="278.4" x2="1008.75" y2="283.49" stroke="#ee2b4b" stroke-width="1.56" /><line x1="1006.2" y1="277.35" x2="1006.2" y2="284.55" stroke="#ee2b4b" stroke-width="1.56" /><line x1="1008.75" y1="278.4" x2="1003.65" y2="283.49" stroke="#ee2b4b" stroke-width="1.56" /></g>
<g><polyline points="655.5,290.02 713.95,299.09 772.4,303.63 830.85,305.9 889.3,305.9 947.75,303.63 1006.2,305.9" fill="none" stroke="#2b9aab" stroke-width="1.5" stroke-linejoin="round" /><line x1="655.5" y1="290.38" x2="655.5" y2="295.42" stroke="#2b9aab" stroke-width="1.2" /><circle cx="655.5" cy="288.04" r="2.34" fill="none" stroke="#2b9aab" stroke-width="1.2"/><line x1="713.95" y1="299.45" x2="713.95" y2="304.49" stroke="#2b9aab" stroke-width="1.2" /><circle cx="713.95" cy="297.11" r="2.34" fill="none" stroke="#2b9aab" stroke-width="1.2"/><line x1="772.4" y1="303.99" x2="772.4" y2="309.03" stroke="#2b9aab" stroke-width="1.2" /><circle cx="772.4" cy="301.65" r="2.34" fill="none" stroke="#2b9aab" stroke-width="1.2"/><line x1="830.85" y1="306.26" x2="830.85" y2="311.3" stroke="#2b9aab" stroke-width="1.2" /><circle cx="830.85" cy="303.92" r="2.34" fill="none" stroke="#2b9aab" stroke-width="1.2"/><line x1="889.3" y1="306.26" x2="889.3" y2="311.3" stroke="#2b9aab" stroke-width="1.2" /><circle cx="889.3" cy="303.92" r="2.34" fill="none" stroke="#2b9aab" stroke-width="1.2"/><line x1="947.75" y1="303.99" x2="947.75" y2="309.03" stroke="#2b9aab" stroke-width="1.2" /><circle cx="947.75" cy="301.65" r="2.34" fill="none" stroke="#2b9aab" stroke-width="1.2"/><line x1="1006.2" y1="306.26" x2="1006.2" y2="311.3" stroke="#2b9aab" stroke-width="1.2" /><circle cx="1006.2" cy="303.92" r="2.34" fill="none" stroke="#2b9aab" stroke-width="1.2"/></g>
<g><polyline points="655.5,290.02 713.95,292.29 772.4,296.82 830.85,296.82 889.3,296.82 947.75,290.02 1006.2,280.95" fill="none" stroke="#f23bd3" stroke-width="1.5" stroke-linejoin="round" /><path d="M655.5,286.06 L659.1,292.9 L651.9,292.9 Z" fill="#f23bd3"/><path d="M713.95,288.33 L717.55,295.17 L710.35,295.17 Z" fill="#f23bd3"/><path d="M772.4,292.86 L776,299.7 L768.8,299.7 Z" fill="#f23bd3"/><path d="M830.85,292.86 L834.45,299.7 L827.25,299.7 Z" fill="#f23bd3"/><path d="M889.3,292.86 L892.9,299.7 L885.7,299.7 Z" fill="#f23bd3"/><path d="M947.75,286.06 L951.35,292.9 L944.15,292.9 Z" fill="#f23bd3"/><path d="M1006.2,276.99 L1009.8,283.83 L1002.6,283.83 Z" fill="#f23bd3"/></g>
<g><polyline points="655.5,292.29 713.95,299.09 772.4,294.56 830.85,292.29 889.3,290.02 947.75,287.75 1006.2,285.48" fill="none" stroke="#f3f32e" stroke-width="1.5" stroke-linejoin="round" /><line x1="651.9" y1="288.69" x2="659.1" y2="295.89" stroke="#f3f32e" stroke-width="1.2" /><line x1="651.9" y1="295.89" x2="659.1" y2="288.69" stroke="#f3f32e" stroke-width="1.2" /><line x1="710.35" y1="295.49" x2="717.55" y2="302.69" stroke="#f3f32e" stroke-width="1.2" /><line x1="710.35" y1="302.69" x2="717.55" y2="295.49" stroke="#f3f32e" stroke-width="1.2" /><line x1="768.8" y1="290.96" x2="776" y2="298.16" stroke="#f3f32e" stroke-width="1.2" /><line x1="768.8" y1="298.16" x2="776" y2="290.96" stroke="#f3f32e" stroke-width="1.2" /><line x1="827.25" y1="288.69" x2="834.45" y2="295.89" stroke="#f3f32e" stroke-width="1.2" /><line x1="827.25" y1="295.89" x2="834.45" y2="288.69" stroke="#f3f32e" stroke-width="1.2" /><line x1="885.7" y1="286.42" x2="892.9" y2="293.62" stroke="#f3f32e" stroke-width="1.2" /><line x1="885.7" y1="293.62" x2="892.9" y2="286.42" stroke="#f3f32e" stroke-width="1.2" /><line x1="944.15" y1="284.15" x2="951.35" y2="291.35" stroke="#f3f32e" stroke-width="1.2" /><line x1="944.15" y1="291.35" x2="951.35" y2="284.15" stroke="#f3f32e" stroke-width="1.2" /><line x1="1002.6" y1="281.88" x2="1009.8" y2="289.08" stroke="#f3f32e" stroke-width="1.2" /><line x1="1002.6" y1="289.08" x2="1009.8" y2="281.88" stroke="#f3f32e" stroke-width="1.2" /></g>
<g><polyline points="655.5,290.02 713.95,299.09 772.4,296.82 830.85,294.56 889.3,290.02 947.75,285.48 1006.2,280.95" fill="none" stroke="#d4de8c" stroke-width="1.5" stroke-linejoin="round" /><path d="M655.5,293.98 L659.1,287.14 L651.9,287.14 Z" fill="none" stroke="#d4de8c" stroke-width="1.2"/><path d="M713.95,303.05 L717.55,296.21 L710.35,296.21 Z" fill="none" stroke="#d4de8c" stroke-width="1.2"/><path d="M772.4,300.78 L776,293.94 L768.8,293.94 Z" fill="none" stroke="#d4de8c" stroke-width="1.2"/><path d="M830.85,298.52 L834.45,291.68 L827.25,291.68 Z" fill="none" stroke="#d4de8c" stroke-width="1.2"/><path d="M889.3,293.98 L892.9,287.14 L885.7,287.14 Z" fill="none" stroke="#d4de8c" stroke-width="1.2"/><path d="M947.75,289.44 L951.35,282.6 L944.15,282.6 Z" fill="none" stroke="#d4de8c" stroke-width="1.2"/><path d="M1006.2,284.91 L1009.8,278.07 L1002.6,278.07 Z" fill="none" stroke="#d4de8c" stroke-width="1.2"/></g>
<g><polyline points="655.5,290.02 713.95,301.36 772.4,296.82 830.85,292.29 889.3,290.02 947.75,287.75 1006.2,285.48" fill="none" stroke="#b9d41f" stroke-width="1.5" stroke-linejoin="round" /><rect x="651.25" y="285.77" width="8.5" height="8.5" fill="#b9d41f"/><rect x="709.7" y="297.11" width="8.5" height="8.5" fill="#b9d41f"/><rect x="768.15" y="292.58" width="8.5" height="8.5" fill="#b9d41f"/><rect x="826.6" y="288.04" width="8.5" height="8.5" fill="#b9d41f"/><rect x="885.05" y="285.77" width="8.5" height="8.5" fill="#b9d41f"/><rect x="943.5" y="283.5" width="8.5" height="8.5" fill="#b9d41f"/><rect x="1001.95" y="281.24" width="8.5" height="8.5" fill="#b9d41f"/></g>
<g><polyline points="655.5,285.48 713.95,199.3 772.4,65.49 830.85,85.9 889.3,88.17 947.75,111.98 1006.2,108.58" fill="none" stroke="#262626" stroke-width="1.5" stroke-linejoin="round" /><line x1="655.5" y1="278.68" x2="655.5" y2="292.29" stroke="#262626" stroke-width="1.2" /><line x1="652.2" y1="278.68" x2="658.8" y2="278.68" stroke="#262626" stroke-width="1.2" /><line x1="652.2" y1="292.29" x2="658.8" y2="292.29" stroke="#262626" stroke-width="1.2" /><line x1="713.95" y1="190.23" x2="713.95" y2="208.37" stroke="#262626" stroke-width="1.2" /><line x1="710.65" y1="190.23" x2="717.25" y2="190.23" stroke="#262626" stroke-width="1.2" /><line x1="710.65" y1="208.37" x2="717.25" y2="208.37" stroke="#262626" stroke-width="1.2" /><line x1="830.85" y1="74.56" x2="830.85" y2="97.24" stroke="#262626" stroke-width="1.2" /><line x1="827.55" y1="74.56" x2="834.15" y2="74.56" stroke="#262626" stroke-width="1.2" /><line x1="827.55" y1="97.24" x2="834.15" y2="97.24" stroke="#262626" stroke-width="1.2" /><line x1="889.3" y1="79.1" x2="889.3" y2="97.24" stroke="#262626" stroke-width="1.2" /><line x1="886" y1="79.1" x2="892.6" y2="79.1" stroke="#262626" stroke-width="1.2" /><line x1="886" y1="97.24" x2="892.6" y2="97.24" stroke="#262626" stroke-width="1.2" /><line x1="947.75" y1="102.91" x2="947.75" y2="121.05" stroke="#262626" stroke-width="1.2" /><line x1="944.45" y1="102.91" x2="951.05" y2="102.91" stroke="#262626" stroke-width="1.2" /><line x1="944.45" y1="121.05" x2="951.05" y2="121.05" stroke="#262626" stroke-width="1.2" /><line x1="1006.2" y1="92.7" x2="1006.2" y2="124.46" stroke="#262626" stroke-width="1.2" /><line x1="1002.9" y1="92.7" x2="1009.5" y2="92.7" stroke="#262626" stroke-width="1.2" /><line x1="1002.9" y1="124.46" x2="1009.5" y2="124.46" stroke="#262626" stroke-width="1.2" /><circle cx="655.5" cy="285.48" r="3.96" fill="#262626"/><circle cx="713.95" cy="199.3" r="3.96" fill="#262626"/><circle cx="772.4" cy="65.49" r="3.96" fill="#262626"/><circle cx="830.85" cy="85.9" r="3.96" fill="#262626"/><circle cx="889.3" cy="88.17" r="3.96" fill="#262626"/><circle cx="947.75" cy="111.98" r="3.96" fill="#262626"/><circle cx="1006.2" cy="108.58" r="3.96" fill="#262626"/></g><text x="552" y="19" font-size="20" text-anchor="start" fill="#161616" >B</text><text transform="translate(568,198.7) rotate(-90)" font-size="14.6" text-anchor="start" fill="#161616">OD<tspan font-size="11.8" dy="4.1">600</tspan></text>
<line x1="32.5" y1="488" x2="61.5" y2="488" stroke="#b557e0" stroke-width="1.6" />
<line x1="47" y1="488" x2="47" y2="492.8" stroke="#b557e0" stroke-width="1.3" />
<text x="80" y="493" font-size="14.2" text-anchor="start" fill="#161616" >NB</text>
<line x1="126.5" y1="415" x2="155.5" y2="415" stroke="#1f6a1c" stroke-width="1.6" />
<path d="M141,409.82 L145.44,415 L141,420.18 L136.56,415 Z" fill="#1f6a1c"/>
<text x="172" y="420" font-size="14.2" text-anchor="start" fill="#161616" >Root318D1</text>
<line x1="126.5" y1="440.5" x2="155.5" y2="440.5" stroke="#62e03c" stroke-width="1.6" />
<path d="M141,436.1 L145,443.7 L137,443.7 Z" fill="none" stroke="#62e03c" stroke-width="1.3"/>
<text x="172" y="445.5" font-size="14.2" text-anchor="start" fill="#161616" >Root473</text>
<line x1="126.5" y1="465" x2="155.5" y2="465" stroke="#58d63e" stroke-width="1.6" />
<rect x="137" y="461" width="8" height="8" fill="none" stroke="#58d63e" stroke-width="1.3"/>
<text x="172" y="470" font-size="14.2" text-anchor="start" fill="#161616" >Root434</text>
<line x1="126.5" y1="488" x2="155.5" y2="488" stroke="#a9ee80" stroke-width="1.6" />
<circle cx="141" cy="488" r="4" fill="none" stroke="#a9ee80" stroke-width="1.3"/><line x1="137" y1="488" x2="145" y2="488" stroke="#a9ee80" stroke-width="1.3" />
<text x="172" y="493" font-size="14.2" text-anchor="start" fill="#161616" >Root411</text>
<line x1="260.5" y1="393" x2="289.5" y2="393" stroke="#262626" stroke-width="1.6" />
<circle cx="275" cy="393" r="3.7" fill="#262626"/>
<text x="307" y="398" font-size="14.2" text-anchor="start" fill="#161616" >Root1280</text>
<line x1="260.5" y1="415" x2="289.5" y2="415" stroke="#5f7274" stroke-width="1.6" />
<rect x="271" y="411" width="8" height="8" fill="#dfe6e6" stroke="#5f7274" stroke-width="1.3"/><line x1="271" y1="411" x2="279" y2="419" stroke="#5f7274" stroke-width="1.3" /><line x1="271" y1="419" x2="279" y2="411" stroke="#5f7274" stroke-width="1.3" />
<text x="307" y="420" font-size="14.2" text-anchor="start" fill="#161616" >SB10</text>
<line x1="260.5" y1="440.5" x2="289.5" y2="440.5" stroke="#808c8d" stroke-width="1.6" />
<circle cx="275" cy="440.5" r="3.7" fill="#808c8d"/>
<text x="307" y="445.5" font-size="14.2" text-anchor="start" fill="#161616" >SD12</text>
<line x1="260.5" y1="465" x2="289.5" y2="465" stroke="#97a6a6" stroke-width="1.6" />
<line x1="275" y1="459" x2="275" y2="464.6" stroke="#97a6a6" stroke-width="1.3" /><circle cx="275" cy="467.2" r="2.6" fill="none" stroke="#97a6a6" stroke-width="1.3"/>
<text x="307" y="470" font-size="14.2" text-anchor="start" fill="#161616" >SE2</text>
<line x1="260.5" y1="488" x2="289.5" y2="488" stroke="#d3d9d9" stroke-width="1.6" />
<path d="M275,482.82 L279.44,488 L275,493.18 L270.56,488 Z" fill="#d3d9d9"/>
<text x="307" y="493" font-size="14.2" text-anchor="start" fill="#161616" >SB9</text>
<line x1="385.5" y1="440.5" x2="414.5" y2="440.5" stroke="#f3f32e" stroke-width="1.6" />
<line x1="396" y1="436.5" x2="404" y2="444.5" stroke="#f3f32e" stroke-width="1.3" /><line x1="396" y1="444.5" x2="404" y2="436.5" stroke="#f3f32e" stroke-width="1.3" />
<text x="431" y="445.5" font-size="14.2" text-anchor="start" fill="#161616" >Root720</text>
<line x1="385.5" y1="465" x2="414.5" y2="465" stroke="#d4de8c" stroke-width="1.6" />
<path d="M400,469.4 L404,461.8 L396,461.8 Z" fill="none" stroke="#d4de8c" stroke-width="1.3"/>
<text x="431" y="470" font-size="14.2" text-anchor="start" fill="#161616" >Root50</text>
<line x1="385.5" y1="488" x2="414.5" y2="488" stroke="#b9d41f" stroke-width="1.6" />
<rect x="396.3" y="484.3" width="7.4" height="7.4" fill="#b9d41f"/>
<text x="431" y="493" font-size="14.2" text-anchor="start" fill="#161616" >Root1294</text>
<line x1="515.5" y1="415" x2="544.5" y2="415" stroke="#f2682a" stroke-width="1.6" />
<path d="M530,410.4 L534,415 L530,419.6 L526,415 Z" fill="none" stroke="#f2682a" stroke-width="1.3"/>
<text x="561" y="420" font-size="14.2" text-anchor="start" fill="#161616" >Root562</text>
<line x1="515.5" y1="440.5" x2="544.5" y2="440.5" stroke="#f5821f" stroke-width="1.6" />
<rect x="526" y="436.5" width="8" height="8" fill="none" stroke="#f5821f" stroke-width="1.3"/><rect x="528.4" y="438.9" width="3.2" height="3.2" fill="#f5821f"/>
<text x="561" y="445.5" font-size="14.2" text-anchor="start" fill="#161616" >SA11</text>
<line x1="515.5" y1="465" x2="544.5" y2="465" stroke="#f7953e" stroke-width="1.6" />
<line x1="526" y1="465" x2="534" y2="465" stroke="#f7953e" stroke-width="1.3" /><line x1="530" y1="461" x2="530" y2="469" stroke="#f7953e" stroke-width="1.3" />
<text x="561" y="470" font-size="14.2" text-anchor="start" fill="#161616" >Root71</text>
<line x1="515.5" y1="488" x2="544.5" y2="488" stroke="#f9b274" stroke-width="1.6" />
<line x1="526" y1="488" x2="534" y2="488" stroke="#f9b274" stroke-width="1.3" /><line x1="528" y1="484.54" x2="532" y2="491.46" stroke="#f9b274" stroke-width="1.3" /><line x1="532" y1="484.54" x2="528" y2="491.46" stroke="#f9b274" stroke-width="1.3" />
<text x="561" y="493" font-size="14.2" text-anchor="start" fill="#161616" >Root68</text>
<line x1="641.5" y1="440.5" x2="670.5" y2="440.5" stroke="#a31b1b" stroke-width="1.6" />
<circle cx="656" cy="440.5" r="4" fill="none" stroke="#a31b1b" stroke-width="1.3"/><circle cx="656" cy="440.5" r="1.8" fill="#a31b1b"/>
<text x="687" y="445.5" font-size="14.2" text-anchor="start" fill="#161616" >Root83</text>
<line x1="641.5" y1="465" x2="670.5" y2="465" stroke="#ee2b4b" stroke-width="1.6" />
<line x1="652" y1="465" x2="660" y2="465" stroke="#ee2b4b" stroke-width="1.69" /><line x1="653.17" y1="462.17" x2="658.83" y2="467.83" stroke="#ee2b4b" stroke-width="1.69" /><line x1="656" y1="461" x2="656" y2="469" stroke="#ee2b4b" stroke-width="1.69" /><line x1="658.83" y1="462.17" x2="653.17" y2="467.83" stroke="#ee2b4b" stroke-width="1.69" />
<text x="687" y="470" font-size="14.2" text-anchor="start" fill="#161616" >Root565</text>
<line x1="641.5" y1="488" x2="670.5" y2="488" stroke="#fbd3df" stroke-width="1.6" />
<path d="M656,492.07 L659.7,485.04 L652.3,485.04 Z" fill="#fbd3df"/>
<text x="687" y="493" font-size="14.2" text-anchor="start" fill="#161616" >Root170</text>
<line x1="775.5" y1="488" x2="804.5" y2="488" stroke="#2b9aab" stroke-width="1.6" />
<line x1="790" y1="488.4" x2="790" y2="494" stroke="#2b9aab" stroke-width="1.3" /><circle cx="790" cy="485.8" r="2.6" fill="none" stroke="#2b9aab" stroke-width="1.3"/>
<text x="821" y="493" font-size="14.2" text-anchor="start" fill="#161616" >SE9</text>
<line x1="879.5" y1="488" x2="908.5" y2="488" stroke="#f23bd3" stroke-width="1.6" />
<path d="M894,483.93 L897.7,490.96 L890.3,490.96 Z" fill="#f23bd3"/>
<text x="925" y="493" font-size="14.2" text-anchor="start" fill="#161616" >Root154</text>
<text x="54" y="523" font-size="14" text-anchor="start" fill="#161616" >Control</text>
<text x="132" y="523" font-size="15" text-anchor="start" fill="#161616" font-style="italic" >Variovorax</text>
<text x="258" y="523" font-size="15" text-anchor="start" fill="#161616" font-style="italic" >Acinetobacter</text>
<text x="392" y="523" font-size="15" text-anchor="start" fill="#161616" font-style="italic" >Sphingomonas</text>
<text x="522" y="523" font-size="15" text-anchor="start" fill="#161616" font-style="italic" >Pseudomonas</text>
<text x="648" y="523" font-size="15" text-anchor="start" fill="#161616" font-style="italic" >Achromobacter</text>
<text x="777" y="523" font-size="15" text-anchor="start" fill="#161616" font-style="italic" >Curviobacter</text>
<text x="883" y="523" font-size="15" text-anchor="start" fill="#161616" font-style="italic" >Sphingopyxis</text>
<text x="3.5" y="589.5" font-size="20" text-anchor="start" fill="#161616" >C</text>
<line x1="41" y1="719.2" x2="535" y2="719.2" stroke="#c6d2cd" stroke-width="1.6" />
<rect x="41" y="628" width="494" height="205.6" fill="none" stroke="#111" stroke-width="2.7"/>
<line x1="34.5" y1="627.4" x2="41" y2="627.4" stroke="#111" stroke-width="2.2" />
<text x="31.5" y="632.2" font-size="13.6" text-anchor="end" fill="#111" >4</text>
<line x1="34.5" y1="673.3" x2="41" y2="673.3" stroke="#111" stroke-width="2.2" />
<text x="31.5" y="678.1" font-size="13.6" text-anchor="end" fill="#111" >2</text>
<line x1="34.5" y1="719.2" x2="41" y2="719.2" stroke="#111" stroke-width="2.2" />
<text x="31.5" y="724" font-size="13.6" text-anchor="end" fill="#111" >0</text>
<line x1="34.5" y1="765.1" x2="41" y2="765.1" stroke="#111" stroke-width="2.2" />
<text x="31.5" y="769.9" font-size="13.6" text-anchor="end" fill="#111" >-2</text>
<line x1="34.5" y1="811" x2="41" y2="811" stroke="#111" stroke-width="2.2" />
<text x="31.5" y="815.8" font-size="13.6" text-anchor="end" fill="#111" >-4</text>
<line x1="53.6" y1="833.6" x2="53.6" y2="839.8" stroke="#111" stroke-width="2.2" />
<text transform="translate(57.1,849.6) rotate(-45)" font-size="14.5" text-anchor="end" fill="#111">NB</text>
<line x1="78.17" y1="833.6" x2="78.17" y2="839.8" stroke="#111" stroke-width="2.2" />
<text transform="translate(81.67,849.6) rotate(-45)" font-size="14.5" text-anchor="end" fill="#111">Root562</text>
<line x1="102.74" y1="833.6" x2="102.74" y2="839.8" stroke="#111" stroke-width="2.2" />
<text transform="translate(106.24,849.6) rotate(-45)" font-size="14.5" text-anchor="end" fill="#111">SA11</text>
<line x1="127.31" y1="833.6" x2="127.31" y2="839.8" stroke="#111" stroke-width="2.2" />
<text transform="translate(130.81,849.6) rotate(-45)" font-size="14.5" text-anchor="end" fill="#111">Root71</text>
<line x1="151.88" y1="833.6" x2="151.88" y2="839.8" stroke="#111" stroke-width="2.2" />
<text transform="translate(155.38,849.6) rotate(-45)" font-size="14.5" text-anchor="end" fill="#111">Root68</text>
<line x1="176.45" y1="833.6" x2="176.45" y2="839.8" stroke="#111" stroke-width="2.2" />
<text transform="translate(179.95,849.6) rotate(-45)" font-size="14.5" text-anchor="end" fill="#111">Root154</text>
<line x1="201.02" y1="833.6" x2="201.02" y2="839.8" stroke="#111" stroke-width="2.2" />
<text transform="translate(204.52,849.6) rotate(-45)" font-size="14.5" text-anchor="end" fill="#111">Root473</text>
<line x1="225.59" y1="833.6" x2="225.59" y2="839.8" stroke="#111" stroke-width="2.2" />
<text transform="translate(229.09,849.6) rotate(-45)" font-size="14.5" text-anchor="end" fill="#111">Root434</text>
<line x1="250.16" y1="833.6" x2="250.16" y2="839.8" stroke="#111" stroke-width="2.2" />
<text transform="translate(253.66,849.6) rotate(-45)" font-size="14.5" text-anchor="end" fill="#111">Root411</text>
<line x1="274.73" y1="833.6" x2="274.73" y2="839.8" stroke="#111" stroke-width="2.2" />
<text transform="translate(278.23,849.6) rotate(-45)" font-size="14.5" text-anchor="end" fill="#111">Root83</text>
<line x1="299.3" y1="833.6" x2="299.3" y2="839.8" stroke="#111" stroke-width="2.2" />
<text transform="translate(302.8,849.6) rotate(-45)" font-size="14.5" text-anchor="end" fill="#111">Root565</text>
<line x1="323.87" y1="833.6" x2="323.87" y2="839.8" stroke="#111" stroke-width="2.2" />
<text transform="translate(327.37,849.6) rotate(-45)" font-size="14.5" text-anchor="end" fill="#111">Root170</text>
<line x1="348.44" y1="833.6" x2="348.44" y2="839.8" stroke="#111" stroke-width="2.2" />
<text transform="translate(351.94,849.6) rotate(-45)" font-size="14.5" text-anchor="end" fill="#111">Root720</text>
<line x1="373.01" y1="833.6" x2="373.01" y2="839.8" stroke="#111" stroke-width="2.2" />
<text transform="translate(376.51,849.6) rotate(-45)" font-size="14.5" text-anchor="end" fill="#111">Root1294</text>
<line x1="397.58" y1="833.6" x2="397.58" y2="839.8" stroke="#111" stroke-width="2.2" />
<text transform="translate(401.08,849.6) rotate(-45)" font-size="14.5" text-anchor="end" fill="#111">SE9</text>
<line x1="422.15" y1="833.6" x2="422.15" y2="839.8" stroke="#111" stroke-width="2.2" />
<text transform="translate(425.65,849.6) rotate(-45)" font-size="14.5" text-anchor="end" fill="#111">Root1280</text>
<line x1="446.72" y1="833.6" x2="446.72" y2="839.8" stroke="#111" stroke-width="2.2" />
<text transform="translate(450.22,849.6) rotate(-45)" font-size="14.5" text-anchor="end" fill="#111">SB10</text>
<line x1="471.29" y1="833.6" x2="471.29" y2="839.8" stroke="#111" stroke-width="2.2" />
<text transform="translate(474.79,849.6) rotate(-45)" font-size="14.5" text-anchor="end" fill="#111">SB9</text>
<line x1="495.86" y1="833.6" x2="495.86" y2="839.8" stroke="#111" stroke-width="2.2" />
<text transform="translate(499.36,849.6) rotate(-45)" font-size="14.5" text-anchor="end" fill="#111">SE2</text>
<line x1="520.43" y1="833.6" x2="520.43" y2="839.8" stroke="#111" stroke-width="2.2" />
<text transform="translate(523.93,849.6) rotate(-45)" font-size="14.5" text-anchor="end" fill="#111">SD12</text>
<text transform="translate(12.6,738.5) rotate(-90)" font-size="15.4" text-anchor="middle" fill="#111">log2FC(primary root elongation)</text>
<line x1="53.6" y1="707.73" x2="53.6" y2="715.76" stroke="#111111" stroke-width="2.8" />
<line x1="53.6" y1="723.79" x2="53.6" y2="744.45" stroke="#111111" stroke-width="2.8" />
<line x1="48.9" y1="707.73" x2="58.3" y2="707.73" stroke="#111111" stroke-width="2.8" />
<line x1="48.9" y1="744.45" x2="58.3" y2="744.45" stroke="#111111" stroke-width="2.8" />
<rect x="45" y="715.76" width="17.2" height="8.03" rx="1.5" fill="#fff" fill-opacity="0.55" stroke="#111111" stroke-width="2.8"/>
<line x1="45" y1="720.35" x2="62.2" y2="720.35" stroke="#111111" stroke-width="2.24" />
<circle cx="53.68" cy="744.45" r="2.0" fill="#111111"/>
<circle cx="54.43" cy="707.73" r="2.0" fill="#111111"/>
<circle cx="55.48" cy="720.16" r="2.0" fill="#111111"/>
<circle cx="51" cy="719.29" r="2.0" fill="#111111"/>
<circle cx="52.34" cy="716.37" r="2.0" fill="#111111"/>
<circle cx="50.98" cy="720.05" r="2.0" fill="#111111"/>
<circle cx="55.58" cy="719.71" r="2.0" fill="#111111"/>
<circle cx="54.84" cy="722.88" r="2.0" fill="#111111"/>
<circle cx="50.67" cy="737.66" r="2.0" fill="#111111"/>
<line x1="78.17" y1="688.22" x2="78.17" y2="691.66" stroke="#f5a31f" stroke-width="2.5" />
<line x1="78.17" y1="699.69" x2="78.17" y2="718.05" stroke="#f5a31f" stroke-width="2.5" />
<line x1="73.47" y1="688.22" x2="82.87" y2="688.22" stroke="#f5a31f" stroke-width="2.5" />
<line x1="73.47" y1="718.05" x2="82.87" y2="718.05" stroke="#f5a31f" stroke-width="2.5" />
<rect x="69.57" y="691.66" width="17.2" height="8.03" rx="1.5" fill="#fff" fill-opacity="0.55" stroke="#f5a31f" stroke-width="2.5"/>
<line x1="69.57" y1="695.1" x2="86.77" y2="695.1" stroke="#f5a31f" stroke-width="2" />
<circle cx="75.35" cy="718.05" r="2.0" fill="#f2671c"/>
<circle cx="76.19" cy="688.22" r="2.0" fill="#f2671c"/>
<circle cx="76.52" cy="691.8" r="2.0" fill="#f2671c"/>
<circle cx="75.16" cy="691.94" r="2.0" fill="#f2671c"/>
<circle cx="77.94" cy="694.44" r="2.0" fill="#f2671c"/>
<circle cx="77.79" cy="694.75" r="2.0" fill="#f2671c"/>
<circle cx="80.36" cy="698.43" r="2.0" fill="#f2671c"/>
<circle cx="78.29" cy="717.6" r="2.0" fill="#f2671c"/>
<circle cx="79.07" cy="702.29" r="2.0" fill="#f2671c"/>
<text x="78.17" y="687.92" font-size="10" text-anchor="middle" fill="#222" letter-spacing="-0.5" font-weight="bold">***</text>
<line x1="102.74" y1="704.05" x2="102.74" y2="705.43" stroke="#f5a31f" stroke-width="2.5" />
<line x1="102.74" y1="708.41" x2="102.74" y2="710.02" stroke="#f5a31f" stroke-width="2.5" />
<line x1="98.04" y1="704.05" x2="107.44" y2="704.05" stroke="#f5a31f" stroke-width="2.5" />
<line x1="98.04" y1="710.02" x2="107.44" y2="710.02" stroke="#f5a31f" stroke-width="2.5" />
<rect x="94.14" y="705.43" width="17.2" height="2.98" rx="1.5" fill="#fff" fill-opacity="0.55" stroke="#f5a31f" stroke-width="2.5"/>
<line x1="94.14" y1="707.04" x2="111.34" y2="707.04" stroke="#f5a31f" stroke-width="2" />
<circle cx="104.07" cy="710.02" r="2.0" fill="#f2671c"/>
<circle cx="101.56" cy="704.05" r="2.0" fill="#f2671c"/>
<circle cx="101.01" cy="706.92" r="2.0" fill="#f2671c"/>
<circle cx="101.39" cy="706.44" r="2.0" fill="#f2671c"/>
<circle cx="99.99" cy="707.05" r="2.0" fill="#f2671c"/>
<circle cx="104.44" cy="707.58" r="2.0" fill="#f2671c"/>
<circle cx="102.1" cy="705.44" r="2.0" fill="#f2671c"/>
<circle cx="104.96" cy="704.08" r="2.0" fill="#f2671c"/>
<circle cx="102.01" cy="705.01" r="2.0" fill="#f2671c"/>
<text x="102.74" y="703.75" font-size="10" text-anchor="middle" fill="#222" letter-spacing="-0.5" font-weight="bold">***</text>
<line x1="127.31" y1="672.15" x2="127.31" y2="675.6" stroke="#f5a31f" stroke-width="2.5" />
<line x1="127.31" y1="683.63" x2="127.31" y2="684.78" stroke="#f5a31f" stroke-width="2.5" />
<line x1="122.61" y1="672.15" x2="132.01" y2="672.15" stroke="#f5a31f" stroke-width="2.5" />
<line x1="122.61" y1="684.78" x2="132.01" y2="684.78" stroke="#f5a31f" stroke-width="2.5" />
<rect x="118.71" y="675.6" width="17.2" height="8.03" rx="1.5" fill="#fff" fill-opacity="0.55" stroke="#f5a31f" stroke-width="2.5"/>
<line x1="118.71" y1="680.19" x2="135.91" y2="680.19" stroke="#f5a31f" stroke-width="2" />
<circle cx="126.65" cy="684.78" r="2.0" fill="#f2671c"/>
<circle cx="124.58" cy="672.15" r="2.0" fill="#f2671c"/>
<circle cx="128.14" cy="675.93" r="2.0" fill="#f2671c"/>
<circle cx="129.09" cy="676.82" r="2.0" fill="#f2671c"/>
<circle cx="125.84" cy="683.62" r="2.0" fill="#f2671c"/>
<circle cx="124.67" cy="681.94" r="2.0" fill="#f2671c"/>
<circle cx="126.24" cy="676.32" r="2.0" fill="#f2671c"/>
<circle cx="130.28" cy="678.84" r="2.0" fill="#f2671c"/>
<circle cx="128.96" cy="672.4" r="2.0" fill="#f2671c"/>
<text x="127.31" y="671.85" font-size="10" text-anchor="middle" fill="#222" letter-spacing="-0.5" font-weight="bold">***</text>
<line x1="151.88" y1="669.86" x2="151.88" y2="674.45" stroke="#f5a31f" stroke-width="2.5" />
<line x1="151.88" y1="689.37" x2="151.88" y2="692.81" stroke="#f5a31f" stroke-width="2.5" />
<line x1="147.18" y1="669.86" x2="156.58" y2="669.86" stroke="#f5a31f" stroke-width="2.5" />
<line x1="147.18" y1="692.81" x2="156.58" y2="692.81" stroke="#f5a31f" stroke-width="2.5" />
<rect x="143.28" y="674.45" width="17.2" height="14.92" rx="1.5" fill="#fff" fill-opacity="0.55" stroke="#f5a31f" stroke-width="2.5"/>
<line x1="143.28" y1="681.33" x2="160.48" y2="681.33" stroke="#f5a31f" stroke-width="2" />
<circle cx="151.54" cy="692.81" r="2.0" fill="#f2671c"/>
<circle cx="149.9" cy="669.86" r="2.0" fill="#f2671c"/>
<circle cx="153.36" cy="687.6" r="2.0" fill="#f2671c"/>
<circle cx="149.52" cy="685.69" r="2.0" fill="#f2671c"/>
<circle cx="152.8" cy="687.86" r="2.0" fill="#f2671c"/>
<circle cx="149.43" cy="688.47" r="2.0" fill="#f2671c"/>
<circle cx="151.37" cy="677.48" r="2.0" fill="#f2671c"/>
<circle cx="150.04" cy="688.73" r="2.0" fill="#f2671c"/>
<circle cx="150.41" cy="679.97" r="2.0" fill="#f2671c"/>
<text x="151.88" y="669.56" font-size="10" text-anchor="middle" fill="#222" letter-spacing="-0.5" font-weight="bold">***</text>
<line x1="176.45" y1="715.76" x2="176.45" y2="720.35" stroke="#f2307a" stroke-width="2.5" />
<line x1="176.45" y1="730.22" x2="176.45" y2="742.15" stroke="#f2307a" stroke-width="2.5" />
<line x1="171.75" y1="715.76" x2="181.15" y2="715.76" stroke="#f2307a" stroke-width="2.5" />
<line x1="171.75" y1="742.15" x2="181.15" y2="742.15" stroke="#f2307a" stroke-width="2.5" />
<rect x="167.85" y="720.35" width="17.2" height="9.87" rx="1.5" fill="#fff" fill-opacity="0.55" stroke="#f2307a" stroke-width="2.5"/>
<line x1="167.85" y1="724.94" x2="185.05" y2="724.94" stroke="#f2307a" stroke-width="2" />
<circle cx="177.36" cy="742.15" r="2.0" fill="#ee2030"/>
<circle cx="173.89" cy="715.76" r="2.0" fill="#ee2030"/>
<circle cx="179.58" cy="720.63" r="2.0" fill="#ee2030"/>
<circle cx="174.61" cy="722.29" r="2.0" fill="#ee2030"/>
<circle cx="174.9" cy="727.21" r="2.0" fill="#ee2030"/>
<circle cx="178.2" cy="721.48" r="2.0" fill="#ee2030"/>
<circle cx="175.36" cy="728.14" r="2.0" fill="#ee2030"/>
<circle cx="175.15" cy="731.74" r="2.0" fill="#ee2030"/>
<circle cx="173.72" cy="719.6" r="2.0" fill="#ee2030"/>
<line x1="201.02" y1="674.45" x2="201.02" y2="677.89" stroke="#27a98c" stroke-width="2.5" />
<line x1="201.02" y1="684.78" x2="201.02" y2="701.99" stroke="#27a98c" stroke-width="2.5" />
<line x1="196.32" y1="674.45" x2="205.72" y2="674.45" stroke="#27a98c" stroke-width="2.5" />
<line x1="196.32" y1="701.99" x2="205.72" y2="701.99" stroke="#27a98c" stroke-width="2.5" />
<rect x="192.42" y="677.89" width="17.2" height="6.88" rx="1.5" fill="#fff" fill-opacity="0.55" stroke="#27a98c" stroke-width="2.5"/>
<line x1="192.42" y1="681.33" x2="209.62" y2="681.33" stroke="#27a98c" stroke-width="2" />
<circle cx="200.92" cy="701.99" r="2.0" fill="#2fb62f"/>
<circle cx="201.5" cy="674.45" r="2.0" fill="#2fb62f"/>
<circle cx="203.37" cy="684.15" r="2.0" fill="#2fb62f"/>
<circle cx="198.99" cy="680.76" r="2.0" fill="#2fb62f"/>
<circle cx="198.81" cy="683.1" r="2.0" fill="#2fb62f"/>
<circle cx="203.63" cy="680.64" r="2.0" fill="#2fb62f"/>
<circle cx="203.05" cy="682.22" r="2.0" fill="#2fb62f"/>
<circle cx="199.42" cy="689.51" r="2.0" fill="#2fb62f"/>
<circle cx="199.03" cy="675.57" r="2.0" fill="#2fb62f"/>
<text x="201.02" y="674.15" font-size="10" text-anchor="middle" fill="#222" letter-spacing="-0.5" font-weight="bold">***</text>
<line x1="225.59" y1="674.45" x2="225.59" y2="677.89" stroke="#27a98c" stroke-width="2.5" />
<line x1="225.59" y1="688.22" x2="225.59" y2="724.94" stroke="#27a98c" stroke-width="2.5" />
<line x1="220.89" y1="674.45" x2="230.29" y2="674.45" stroke="#27a98c" stroke-width="2.5" />
<line x1="220.89" y1="724.94" x2="230.29" y2="724.94" stroke="#27a98c" stroke-width="2.5" />
<rect x="216.99" y="677.89" width="17.2" height="10.33" rx="1.5" fill="#fff" fill-opacity="0.55" stroke="#27a98c" stroke-width="2.5"/>
<line x1="216.99" y1="682.48" x2="234.19" y2="682.48" stroke="#27a98c" stroke-width="2" />
<circle cx="223.05" cy="724.94" r="2.0" fill="#2fb62f"/>
<circle cx="222.64" cy="674.45" r="2.0" fill="#2fb62f"/>
<circle cx="228.55" cy="680.58" r="2.0" fill="#2fb62f"/>
<circle cx="223.92" cy="678.51" r="2.0" fill="#2fb62f"/>
<circle cx="226.9" cy="686.19" r="2.0" fill="#2fb62f"/>
<circle cx="224.03" cy="678.4" r="2.0" fill="#2fb62f"/>
<circle cx="227.66" cy="679.11" r="2.0" fill="#2fb62f"/>
<circle cx="226.21" cy="694.47" r="2.0" fill="#2fb62f"/>
<circle cx="224.27" cy="703.66" r="2.0" fill="#2fb62f"/>
<text x="225.59" y="674.15" font-size="10" text-anchor="middle" fill="#222" letter-spacing="-0.5" font-weight="bold">***</text>
<line x1="250.16" y1="679.04" x2="250.16" y2="681.33" stroke="#27a98c" stroke-width="2.5" />
<line x1="250.16" y1="688.22" x2="250.16" y2="697.4" stroke="#27a98c" stroke-width="2.5" />
<line x1="245.46" y1="679.04" x2="254.86" y2="679.04" stroke="#27a98c" stroke-width="2.5" />
<line x1="245.46" y1="697.4" x2="254.86" y2="697.4" stroke="#27a98c" stroke-width="2.5" />
<rect x="241.56" y="681.33" width="17.2" height="6.88" rx="1.5" fill="#fff" fill-opacity="0.55" stroke="#27a98c" stroke-width="2.5"/>
<line x1="241.56" y1="684.78" x2="258.76" y2="684.78" stroke="#27a98c" stroke-width="2" />
<circle cx="248.75" cy="697.4" r="2.0" fill="#2fb62f"/>
<circle cx="252.83" cy="679.04" r="2.0" fill="#2fb62f"/>
<circle cx="248.27" cy="687.01" r="2.0" fill="#2fb62f"/>
<circle cx="247.07" cy="683.26" r="2.0" fill="#2fb62f"/>
<circle cx="248.68" cy="687.74" r="2.0" fill="#2fb62f"/>
<circle cx="249.81" cy="686.64" r="2.0" fill="#2fb62f"/>
<circle cx="247.35" cy="684.37" r="2.0" fill="#2fb62f"/>
<circle cx="248.09" cy="681.75" r="2.0" fill="#2fb62f"/>
<circle cx="249.32" cy="686.12" r="2.0" fill="#2fb62f"/>
<text x="250.16" y="678.74" font-size="10" text-anchor="middle" fill="#222" letter-spacing="-0.5" font-weight="bold">***</text>
<line x1="274.73" y1="680.19" x2="274.73" y2="682.02" stroke="#c4161c" stroke-width="2.5" />
<line x1="274.73" y1="686.61" x2="274.73" y2="692.81" stroke="#c4161c" stroke-width="2.5" />
<line x1="270.03" y1="680.19" x2="279.43" y2="680.19" stroke="#c4161c" stroke-width="2.5" />
<line x1="270.03" y1="692.81" x2="279.43" y2="692.81" stroke="#c4161c" stroke-width="2.5" />
<rect x="266.13" y="682.02" width="17.2" height="4.59" rx="1.5" fill="#fff" fill-opacity="0.55" stroke="#c4161c" stroke-width="2.5"/>
<line x1="266.13" y1="684.32" x2="283.33" y2="684.32" stroke="#c4161c" stroke-width="2" />
<circle cx="275.27" cy="692.81" r="2.0" fill="#ea2028"/>
<circle cx="272.43" cy="680.19" r="2.0" fill="#ea2028"/>
<circle cx="271.75" cy="683.98" r="2.0" fill="#ea2028"/>
<circle cx="271.64" cy="686.01" r="2.0" fill="#ea2028"/>
<circle cx="277.36" cy="684.95" r="2.0" fill="#ea2028"/>
<circle cx="276.02" cy="682.52" r="2.0" fill="#ea2028"/>
<circle cx="277.69" cy="682.11" r="2.0" fill="#ea2028"/>
<circle cx="271.67" cy="684.52" r="2.0" fill="#ea2028"/>
<circle cx="275.6" cy="684.08" r="2.0" fill="#ea2028"/>
<text x="274.73" y="679.89" font-size="10" text-anchor="middle" fill="#222" letter-spacing="-0.5" font-weight="bold">***</text>
<line x1="299.3" y1="675.6" x2="299.3" y2="676.74" stroke="#c4161c" stroke-width="2.5" />
<line x1="299.3" y1="683.63" x2="299.3" y2="700.84" stroke="#c4161c" stroke-width="2.5" />
<line x1="294.6" y1="675.6" x2="304" y2="675.6" stroke="#c4161c" stroke-width="2.5" />
<line x1="294.6" y1="700.84" x2="304" y2="700.84" stroke="#c4161c" stroke-width="2.5" />
<rect x="290.7" y="676.74" width="17.2" height="6.88" rx="1.5" fill="#fff" fill-opacity="0.55" stroke="#c4161c" stroke-width="2.5"/>
<line x1="290.7" y1="680.19" x2="307.9" y2="680.19" stroke="#c4161c" stroke-width="2" />
<circle cx="301.86" cy="700.84" r="2.0" fill="#ea2028"/>
<circle cx="300.82" cy="675.6" r="2.0" fill="#ea2028"/>
<circle cx="300.6" cy="680.31" r="2.0" fill="#ea2028"/>
<circle cx="301.18" cy="678.6" r="2.0" fill="#ea2028"/>
<circle cx="301.96" cy="681.43" r="2.0" fill="#ea2028"/>
<circle cx="298.35" cy="676.75" r="2.0" fill="#ea2028"/>
<circle cx="300.48" cy="683.11" r="2.0" fill="#ea2028"/>
<circle cx="301.87" cy="687.05" r="2.0" fill="#ea2028"/>
<circle cx="301.68" cy="682.23" r="2.0" fill="#ea2028"/>
<text x="299.3" y="675.3" font-size="10" text-anchor="middle" fill="#222" letter-spacing="-0.5" font-weight="bold">***</text>
<line x1="323.87" y1="671" x2="323.87" y2="672.15" stroke="#c4161c" stroke-width="2.5" />
<line x1="323.87" y1="677.89" x2="323.87" y2="685.92" stroke="#c4161c" stroke-width="2.5" />
<line x1="319.17" y1="671" x2="328.57" y2="671" stroke="#c4161c" stroke-width="2.5" />
<line x1="319.17" y1="685.92" x2="328.57" y2="685.92" stroke="#c4161c" stroke-width="2.5" />
<rect x="315.27" y="672.15" width="17.2" height="5.74" rx="1.5" fill="#fff" fill-opacity="0.55" stroke="#c4161c" stroke-width="2.5"/>
<line x1="315.27" y1="675.6" x2="332.47" y2="675.6" stroke="#c4161c" stroke-width="2" />
<circle cx="324.57" cy="685.92" r="2.0" fill="#ea2028"/>
<circle cx="321.18" cy="671" r="2.0" fill="#ea2028"/>
<circle cx="324.76" cy="675.5" r="2.0" fill="#ea2028"/>
<circle cx="327.03" cy="673.35" r="2.0" fill="#ea2028"/>
<circle cx="326.3" cy="672.94" r="2.0" fill="#ea2028"/>
<circle cx="325.33" cy="674.6" r="2.0" fill="#ea2028"/>
<circle cx="323.16" cy="674.3" r="2.0" fill="#ea2028"/>
<circle cx="325.37" cy="680.22" r="2.0" fill="#ea2028"/>
<circle cx="324.39" cy="677.23" r="2.0" fill="#ea2028"/>
<text x="323.87" y="670.71" font-size="10" text-anchor="middle" fill="#222" letter-spacing="-0.5" font-weight="bold">***</text>
<line x1="348.44" y1="685.92" x2="348.44" y2="688.22" stroke="#ead820" stroke-width="2.5" />
<line x1="348.44" y1="698.55" x2="348.44" y2="701.99" stroke="#ead820" stroke-width="2.5" />
<line x1="343.74" y1="685.92" x2="353.14" y2="685.92" stroke="#ead820" stroke-width="2.5" />
<line x1="343.74" y1="701.99" x2="353.14" y2="701.99" stroke="#ead820" stroke-width="2.5" />
<rect x="339.84" y="688.22" width="17.2" height="10.33" rx="1.5" fill="#fff" fill-opacity="0.55" stroke="#ead820" stroke-width="2.5"/>
<line x1="339.84" y1="693.96" x2="357.04" y2="693.96" stroke="#ead820" stroke-width="2" />
<circle cx="346.71" cy="701.99" r="2.0" fill="#f0e82a"/>
<circle cx="349.71" cy="685.92" r="2.0" fill="#f0e82a"/>
<circle cx="348.42" cy="694" r="2.0" fill="#f0e82a"/>
<circle cx="349.17" cy="689.89" r="2.0" fill="#f0e82a"/>
<circle cx="351.13" cy="697.68" r="2.0" fill="#f0e82a"/>
<circle cx="346.88" cy="690.8" r="2.0" fill="#f0e82a"/>
<circle cx="345.31" cy="698.24" r="2.0" fill="#f0e82a"/>
<circle cx="347.17" cy="692.33" r="2.0" fill="#f0e82a"/>
<circle cx="349.58" cy="694.26" r="2.0" fill="#f0e82a"/>
<text x="348.44" y="685.62" font-size="10" text-anchor="middle" fill="#222" letter-spacing="-0.5" font-weight="bold">***</text>
<line x1="373.01" y1="695.1" x2="373.01" y2="697.4" stroke="#ead820" stroke-width="2.5" />
<line x1="373.01" y1="706.58" x2="373.01" y2="723.79" stroke="#ead820" stroke-width="2.5" />
<line x1="368.31" y1="695.1" x2="377.71" y2="695.1" stroke="#ead820" stroke-width="2.5" />
<line x1="368.31" y1="723.79" x2="377.71" y2="723.79" stroke="#ead820" stroke-width="2.5" />
<rect x="364.41" y="697.4" width="17.2" height="9.18" rx="1.5" fill="#fff" fill-opacity="0.55" stroke="#ead820" stroke-width="2.5"/>
<line x1="364.41" y1="700.84" x2="381.61" y2="700.84" stroke="#ead820" stroke-width="2" />
<circle cx="374.07" cy="723.79" r="2.0" fill="#f0e82a"/>
<circle cx="371.08" cy="695.1" r="2.0" fill="#f0e82a"/>
<circle cx="372.57" cy="704.72" r="2.0" fill="#f0e82a"/>
<circle cx="374.97" cy="705.02" r="2.0" fill="#f0e82a"/>
<circle cx="375.66" cy="698.26" r="2.0" fill="#f0e82a"/>
<circle cx="375.44" cy="700.52" r="2.0" fill="#f0e82a"/>
<circle cx="372.27" cy="702.52" r="2.0" fill="#f0e82a"/>
<circle cx="373.54" cy="698.21" r="2.0" fill="#f0e82a"/>
<circle cx="371.84" cy="714.41" r="2.0" fill="#f0e82a"/>
<text x="373.01" y="694.8" font-size="10" text-anchor="middle" fill="#222" letter-spacing="-0.5" font-weight="bold">***</text>
<line x1="397.58" y1="692.81" x2="397.58" y2="693.5" stroke="#1f4fd2" stroke-width="2.5" />
<line x1="397.58" y1="695.79" x2="397.58" y2="696.25" stroke="#1f4fd2" stroke-width="2.5" />
<line x1="392.88" y1="692.81" x2="402.28" y2="692.81" stroke="#1f4fd2" stroke-width="2.5" />
<line x1="392.88" y1="696.25" x2="402.28" y2="696.25" stroke="#1f4fd2" stroke-width="2.5" />
<rect x="388.98" y="693.5" width="17.2" height="2.29" rx="1.5" fill="#fff" fill-opacity="0.55" stroke="#1f4fd2" stroke-width="2.5"/>
<line x1="388.98" y1="694.64" x2="406.18" y2="694.64" stroke="#1f4fd2" stroke-width="2" />
<circle cx="395.46" cy="696.25" r="2.0" fill="#1f4fd2"/>
<circle cx="397.26" cy="692.81" r="2.0" fill="#1f4fd2"/>
<circle cx="396.14" cy="695.48" r="2.0" fill="#1f4fd2"/>
<circle cx="395.75" cy="694.65" r="2.0" fill="#1f4fd2"/>
<circle cx="397.03" cy="693.87" r="2.0" fill="#1f4fd2"/>
<circle cx="398.38" cy="693.84" r="2.0" fill="#1f4fd2"/>
<circle cx="397.54" cy="694.16" r="2.0" fill="#1f4fd2"/>
<circle cx="396.4" cy="692.98" r="2.0" fill="#1f4fd2"/>
<circle cx="399.75" cy="695.3" r="2.0" fill="#1f4fd2"/>
<text x="397.58" y="692.51" font-size="10" text-anchor="middle" fill="#222" letter-spacing="-0.5" font-weight="bold">***</text>
<line x1="422.15" y1="788.05" x2="422.15" y2="793.79" stroke="#a8bdb3" stroke-width="1.9" />
<line x1="422.15" y1="812.15" x2="422.15" y2="812.15" stroke="#a8bdb3" stroke-width="1.9" />
<line x1="418.95" y1="788.05" x2="425.35" y2="788.05" stroke="#a8bdb3" stroke-width="1.9" />
<line x1="418.95" y1="812.15" x2="425.35" y2="812.15" stroke="#a8bdb3" stroke-width="1.9" />
<rect x="413.55" y="793.79" width="17.2" height="18.36" rx="1.5" fill="#fff" fill-opacity="0.55" stroke="#a8bdb3" stroke-width="1.9"/>
<line x1="413.55" y1="801.82" x2="430.75" y2="801.82" stroke="#a8bdb3" stroke-width="1.52" />
<circle cx="422.4" cy="812.15" r="1.5" fill="#4a4f4d"/>
<circle cx="421.46" cy="788.05" r="1.5" fill="#4a4f4d"/>
<circle cx="423.2" cy="794.12" r="1.5" fill="#4a4f4d"/>
<circle cx="420.42" cy="803.84" r="1.5" fill="#4a4f4d"/>
<circle cx="420.84" cy="810.78" r="1.5" fill="#4a4f4d"/>
<circle cx="421.99" cy="811.57" r="1.5" fill="#4a4f4d"/>
<circle cx="420.44" cy="796.12" r="1.5" fill="#4a4f4d"/>
<circle cx="423.34" cy="811.15" r="1.5" fill="#4a4f4d"/>
<circle cx="421.2" cy="795.07" r="1.5" fill="#4a4f4d"/>
<text x="422.15" y="787.75" font-size="10" text-anchor="middle" fill="#222" letter-spacing="-0.5" font-weight="bold">***</text>
<line x1="446.72" y1="758.22" x2="446.72" y2="759.36" stroke="#a8bdb3" stroke-width="1.9" />
<line x1="446.72" y1="776.58" x2="446.72" y2="780.02" stroke="#a8bdb3" stroke-width="1.9" />
<line x1="443.52" y1="758.22" x2="449.92" y2="758.22" stroke="#a8bdb3" stroke-width="1.9" />
<line x1="443.52" y1="780.02" x2="449.92" y2="780.02" stroke="#a8bdb3" stroke-width="1.9" />
<rect x="438.12" y="759.36" width="17.2" height="17.21" rx="1.5" fill="#fff" fill-opacity="0.55" stroke="#a8bdb3" stroke-width="1.9"/>
<line x1="438.12" y1="768.54" x2="455.32" y2="768.54" stroke="#a8bdb3" stroke-width="1.52" />
<circle cx="448.37" cy="780.02" r="1.5" fill="#4a4f4d"/>
<circle cx="447.38" cy="758.22" r="1.5" fill="#4a4f4d"/>
<circle cx="445.64" cy="774.15" r="1.5" fill="#4a4f4d"/>
<circle cx="446.63" cy="775.77" r="1.5" fill="#4a4f4d"/>
<circle cx="445.56" cy="765.75" r="1.5" fill="#4a4f4d"/>
<circle cx="444.96" cy="768.89" r="1.5" fill="#4a4f4d"/>
<circle cx="446.62" cy="765.73" r="1.5" fill="#4a4f4d"/>
<circle cx="447.49" cy="765.74" r="1.5" fill="#4a4f4d"/>
<circle cx="445.56" cy="762.41" r="1.5" fill="#4a4f4d"/>
<text x="446.72" y="757.92" font-size="10" text-anchor="middle" fill="#222" letter-spacing="-0.5" font-weight="bold">***</text>
<line x1="471.29" y1="706.58" x2="471.29" y2="707.73" stroke="#a8bdb3" stroke-width="1.9" />
<line x1="471.29" y1="716.45" x2="471.29" y2="720.35" stroke="#a8bdb3" stroke-width="1.9" />
<line x1="468.09" y1="706.58" x2="474.49" y2="706.58" stroke="#a8bdb3" stroke-width="1.9" />
<line x1="468.09" y1="720.35" x2="474.49" y2="720.35" stroke="#a8bdb3" stroke-width="1.9" />
<rect x="462.69" y="707.73" width="17.2" height="8.72" rx="1.5" fill="#fff" fill-opacity="0.55" stroke="#a8bdb3" stroke-width="1.9"/>
<line x1="462.69" y1="711.17" x2="479.89" y2="711.17" stroke="#a8bdb3" stroke-width="1.52" />
<circle cx="472.34" cy="720.35" r="1.5" fill="#4a4f4d"/>
<circle cx="472.75" cy="706.58" r="1.5" fill="#4a4f4d"/>
<circle cx="469.8" cy="714.07" r="1.5" fill="#4a4f4d"/>
<circle cx="472.85" cy="713.43" r="1.5" fill="#4a4f4d"/>
<circle cx="472.09" cy="710.36" r="1.5" fill="#4a4f4d"/>
<circle cx="469.96" cy="711.91" r="1.5" fill="#4a4f4d"/>
<circle cx="471.12" cy="711.09" r="1.5" fill="#4a4f4d"/>
<circle cx="471.74" cy="709.93" r="1.5" fill="#4a4f4d"/>
<circle cx="472.77" cy="714.93" r="1.5" fill="#4a4f4d"/>
<text x="471.29" y="706.28" font-size="10" text-anchor="middle" fill="#222" letter-spacing="-0.5" font-weight="bold">*</text>
<line x1="495.86" y1="732.97" x2="495.86" y2="733.43" stroke="#a8bdb3" stroke-width="1.9" />
<line x1="495.86" y1="739.86" x2="495.86" y2="741" stroke="#a8bdb3" stroke-width="1.9" />
<line x1="492.66" y1="732.97" x2="499.06" y2="732.97" stroke="#a8bdb3" stroke-width="1.9" />
<line x1="492.66" y1="741" x2="499.06" y2="741" stroke="#a8bdb3" stroke-width="1.9" />
<rect x="487.26" y="733.43" width="17.2" height="6.43" rx="1.5" fill="#fff" fill-opacity="0.55" stroke="#a8bdb3" stroke-width="1.9"/>
<line x1="487.26" y1="737.56" x2="504.46" y2="737.56" stroke="#a8bdb3" stroke-width="1.52" />
<circle cx="494.8" cy="741" r="1.5" fill="#4a4f4d"/>
<circle cx="496.66" cy="732.97" r="1.5" fill="#4a4f4d"/>
<circle cx="497.01" cy="737.43" r="1.5" fill="#4a4f4d"/>
<circle cx="496.37" cy="736.2" r="1.5" fill="#4a4f4d"/>
<circle cx="496.64" cy="734.2" r="1.5" fill="#4a4f4d"/>
<circle cx="494.83" cy="734.73" r="1.5" fill="#4a4f4d"/>
<circle cx="497.3" cy="733.79" r="1.5" fill="#4a4f4d"/>
<circle cx="497.59" cy="737.28" r="1.5" fill="#4a4f4d"/>
<circle cx="497.58" cy="735.77" r="1.5" fill="#4a4f4d"/>
<text x="495.86" y="732.67" font-size="10" text-anchor="middle" fill="#222" letter-spacing="-0.5" font-weight="bold">***</text>
<line x1="520.43" y1="754.77" x2="520.43" y2="769.69" stroke="#a8bdb3" stroke-width="1.9" />
<line x1="520.43" y1="783.46" x2="520.43" y2="790.35" stroke="#a8bdb3" stroke-width="1.9" />
<line x1="517.23" y1="754.77" x2="523.63" y2="754.77" stroke="#a8bdb3" stroke-width="1.9" />
<line x1="517.23" y1="790.35" x2="523.63" y2="790.35" stroke="#a8bdb3" stroke-width="1.9" />
<rect x="511.83" y="769.69" width="17.2" height="13.77" rx="1.5" fill="#fff" fill-opacity="0.55" stroke="#a8bdb3" stroke-width="1.9"/>
<line x1="511.83" y1="777.72" x2="529.03" y2="777.72" stroke="#a8bdb3" stroke-width="1.52" />
<circle cx="520.22" cy="790.35" r="1.5" fill="#4a4f4d"/>
<circle cx="520.61" cy="754.77" r="1.5" fill="#4a4f4d"/>
<circle cx="521.4" cy="776.07" r="1.5" fill="#4a4f4d"/>
<circle cx="520.38" cy="772.57" r="1.5" fill="#4a4f4d"/>
<circle cx="518.73" cy="779.05" r="1.5" fill="#4a4f4d"/>
<circle cx="521.54" cy="770.93" r="1.5" fill="#4a4f4d"/>
<circle cx="518.86" cy="771.68" r="1.5" fill="#4a4f4d"/>
<circle cx="521.51" cy="777.95" r="1.5" fill="#4a4f4d"/>
<circle cx="519.25" cy="787.4" r="1.5" fill="#4a4f4d"/>
<text x="520.43" y="754.47" font-size="10" text-anchor="middle" fill="#222" letter-spacing="-0.5" font-weight="bold">***</text>
<text x="78.4" y="731.4" font-size="11.5" text-anchor="start" fill="#f5923a" font-style="italic" >Pseudomonas</text>
<text x="139.6" y="755" font-size="11.5" text-anchor="start" fill="#f7609a" font-style="italic" >Sphingopyxis</text>
<text x="198.7" y="736.2" font-size="11.5" text-anchor="start" fill="#3bb5a5" font-style="italic" >Variovorax</text>
<text x="262.4" y="713" font-size="11.5" text-anchor="start" fill="#b8202a" font-style="italic" >Achromobacter</text>
<text x="386.3" y="713" font-size="11.5" text-anchor="start" fill="#2a55c8" font-style="italic" >Curvibacter</text>
<text x="322.5" y="735.3" font-size="11.5" text-anchor="start" fill="#d8dc3a" font-style="italic" >Sphingomonas</text>
<text x="444.4" y="818.2" font-size="11.5" text-anchor="start" fill="#c3d0cb" font-style="italic" >Acinetobacter</text>
<text x="4" y="908.4" font-size="20" text-anchor="start" fill="#161616" >D</text>
<line x1="47.8" y1="1010.8" x2="535.6" y2="1010.8" stroke="#c6d2cd" stroke-width="1.6" />
<rect x="47.8" y="920.6" width="487.8" height="203.6" fill="none" stroke="#111" stroke-width="2.7"/>
<line x1="41.3" y1="920.2" x2="47.8" y2="920.2" stroke="#111" stroke-width="2.2" />
<text x="38.3" y="925" font-size="13.6" text-anchor="end" fill="#111" >4</text>
<line x1="41.3" y1="965.5" x2="47.8" y2="965.5" stroke="#111" stroke-width="2.2" />
<text x="38.3" y="970.3" font-size="13.6" text-anchor="end" fill="#111" >2</text>
<line x1="41.3" y1="1010.8" x2="47.8" y2="1010.8" stroke="#111" stroke-width="2.2" />
<text x="38.3" y="1015.6" font-size="13.6" text-anchor="end" fill="#111" >0</text>
<line x1="41.3" y1="1056.1" x2="47.8" y2="1056.1" stroke="#111" stroke-width="2.2" />
<text x="38.3" y="1060.9" font-size="13.6" text-anchor="end" fill="#111" >-2</text>
<line x1="41.3" y1="1101.4" x2="47.8" y2="1101.4" stroke="#111" stroke-width="2.2" />
<text x="38.3" y="1106.2" font-size="13.6" text-anchor="end" fill="#111" >-4</text>
<line x1="59.4" y1="1124.2" x2="59.4" y2="1130.4" stroke="#111" stroke-width="2.2" />
<text transform="translate(62.9,1140.2) rotate(-45)" font-size="14.5" text-anchor="end" fill="#111">NB</text>
<line x1="83.7" y1="1124.2" x2="83.7" y2="1130.4" stroke="#111" stroke-width="2.2" />
<text transform="translate(87.2,1140.2) rotate(-45)" font-size="14.5" text-anchor="end" fill="#111">Root562</text>
<line x1="108" y1="1124.2" x2="108" y2="1130.4" stroke="#111" stroke-width="2.2" />
<text transform="translate(111.5,1140.2) rotate(-45)" font-size="14.5" text-anchor="end" fill="#111">SA11</text>
<line x1="132.3" y1="1124.2" x2="132.3" y2="1130.4" stroke="#111" stroke-width="2.2" />
<text transform="translate(135.8,1140.2) rotate(-45)" font-size="14.5" text-anchor="end" fill="#111">Root71</text>
<line x1="156.6" y1="1124.2" x2="156.6" y2="1130.4" stroke="#111" stroke-width="2.2" />
<text transform="translate(160.1,1140.2) rotate(-45)" font-size="14.5" text-anchor="end" fill="#111">Root68</text>
<line x1="180.9" y1="1124.2" x2="180.9" y2="1130.4" stroke="#111" stroke-width="2.2" />
<text transform="translate(184.4,1140.2) rotate(-45)" font-size="14.5" text-anchor="end" fill="#111">Root154</text>
<line x1="205.2" y1="1124.2" x2="205.2" y2="1130.4" stroke="#111" stroke-width="2.2" />
<text transform="translate(208.7,1140.2) rotate(-45)" font-size="14.5" text-anchor="end" fill="#111">Root473</text>
<line x1="229.5" y1="1124.2" x2="229.5" y2="1130.4" stroke="#111" stroke-width="2.2" />
<text transform="translate(233,1140.2) rotate(-45)" font-size="14.5" text-anchor="end" fill="#111">Root434</text>
<line x1="253.8" y1="1124.2" x2="253.8" y2="1130.4" stroke="#111" stroke-width="2.2" />
<text transform="translate(257.3,1140.2) rotate(-45)" font-size="14.5" text-anchor="end" fill="#111">Root411</text>
<line x1="278.1" y1="1124.2" x2="278.1" y2="1130.4" stroke="#111" stroke-width="2.2" />
<text transform="translate(281.6,1140.2) rotate(-45)" font-size="14.5" text-anchor="end" fill="#111">Root83</text>
<line x1="302.4" y1="1124.2" x2="302.4" y2="1130.4" stroke="#111" stroke-width="2.2" />
<text transform="translate(305.9,1140.2) rotate(-45)" font-size="14.5" text-anchor="end" fill="#111">Root565</text>
<line x1="326.7" y1="1124.2" x2="326.7" y2="1130.4" stroke="#111" stroke-width="2.2" />
<text transform="translate(330.2,1140.2) rotate(-45)" font-size="14.5" text-anchor="end" fill="#111">Root170</text>
<line x1="351" y1="1124.2" x2="351" y2="1130.4" stroke="#111" stroke-width="2.2" />
<text transform="translate(354.5,1140.2) rotate(-45)" font-size="14.5" text-anchor="end" fill="#111">Root720</text>
<line x1="375.3" y1="1124.2" x2="375.3" y2="1130.4" stroke="#111" stroke-width="2.2" />
<text transform="translate(378.8,1140.2) rotate(-45)" font-size="14.5" text-anchor="end" fill="#111">Root1294</text>
<line x1="399.6" y1="1124.2" x2="399.6" y2="1130.4" stroke="#111" stroke-width="2.2" />
<text transform="translate(403.1,1140.2) rotate(-45)" font-size="14.5" text-anchor="end" fill="#111">SE9</text>
<line x1="423.9" y1="1124.2" x2="423.9" y2="1130.4" stroke="#111" stroke-width="2.2" />
<text transform="translate(427.4,1140.2) rotate(-45)" font-size="14.5" text-anchor="end" fill="#111">Root1280</text>
<line x1="448.2" y1="1124.2" x2="448.2" y2="1130.4" stroke="#111" stroke-width="2.2" />
<text transform="translate(451.7,1140.2) rotate(-45)" font-size="14.5" text-anchor="end" fill="#111">SB10</text>
<line x1="472.5" y1="1124.2" x2="472.5" y2="1130.4" stroke="#111" stroke-width="2.2" />
<text transform="translate(476,1140.2) rotate(-45)" font-size="14.5" text-anchor="end" fill="#111">SB9</text>
<line x1="496.8" y1="1124.2" x2="496.8" y2="1130.4" stroke="#111" stroke-width="2.2" />
<text transform="translate(500.3,1140.2) rotate(-45)" font-size="14.5" text-anchor="end" fill="#111">SE2</text>
<line x1="521.1" y1="1124.2" x2="521.1" y2="1130.4" stroke="#111" stroke-width="2.2" />
<text transform="translate(524.6,1140.2) rotate(-45)" font-size="14.5" text-anchor="end" fill="#111">SD12</text>
<text transform="translate(18.4,1013) rotate(-90)" font-size="15.2" text-anchor="middle" fill="#111">log2FC(shoot fresh weight)</text>
<line x1="59.4" y1="1002.87" x2="59.4" y2="1007.4" stroke="#111111" stroke-width="2.8" />
<line x1="59.4" y1="1016.46" x2="59.4" y2="1019.86" stroke="#111111" stroke-width="2.8" />
<line x1="54.7" y1="1002.87" x2="64.1" y2="1002.87" stroke="#111111" stroke-width="2.8" />
<line x1="54.7" y1="1019.86" x2="64.1" y2="1019.86" stroke="#111111" stroke-width="2.8" />
<rect x="50.8" y="1007.4" width="17.2" height="9.06" rx="1.5" fill="#fff" fill-opacity="0.55" stroke="#111111" stroke-width="2.8"/>
<line x1="50.8" y1="1011.93" x2="68" y2="1011.93" stroke="#111111" stroke-width="2.24" />
<circle cx="57.03" cy="1019.86" r="2.0" fill="#111111"/>
<circle cx="57.43" cy="1002.87" r="2.0" fill="#111111"/>
<circle cx="59.05" cy="1008.08" r="2.0" fill="#111111"/>
<circle cx="57.61" cy="1007.87" r="2.0" fill="#111111"/>
<circle cx="59.11" cy="1008.38" r="2.0" fill="#111111"/>
<circle cx="56.36" cy="1015.71" r="2.0" fill="#111111"/>
<circle cx="56.75" cy="1011.1" r="2.0" fill="#111111"/>
<circle cx="60.74" cy="1012.66" r="2.0" fill="#111111"/>
<circle cx="58.9" cy="1010.86" r="2.0" fill="#111111"/>
<line x1="83.7" y1="1005.14" x2="83.7" y2="1008.53" stroke="#f5a31f" stroke-width="2.5" />
<line x1="83.7" y1="1015.33" x2="83.7" y2="1018.73" stroke="#f5a31f" stroke-width="2.5" />
<line x1="79" y1="1005.14" x2="88.4" y2="1005.14" stroke="#f5a31f" stroke-width="2.5" />
<line x1="79" y1="1018.73" x2="88.4" y2="1018.73" stroke="#f5a31f" stroke-width="2.5" />
<rect x="75.1" y="1008.53" width="17.2" height="6.79" rx="1.5" fill="#fff" fill-opacity="0.55" stroke="#f5a31f" stroke-width="2.5"/>
<line x1="75.1" y1="1011.93" x2="92.3" y2="1011.93" stroke="#f5a31f" stroke-width="2" />
<circle cx="84.47" cy="1018.73" r="2.0" fill="#f2671c"/>
<circle cx="86.71" cy="1005.14" r="2.0" fill="#f2671c"/>
<circle cx="82.82" cy="1011.85" r="2.0" fill="#f2671c"/>
<circle cx="85.36" cy="1010.34" r="2.0" fill="#f2671c"/>
<circle cx="82.86" cy="1012.89" r="2.0" fill="#f2671c"/>
<circle cx="84.16" cy="1014.94" r="2.0" fill="#f2671c"/>
<circle cx="84.73" cy="1010.01" r="2.0" fill="#f2671c"/>
<circle cx="82.51" cy="1010.72" r="2.0" fill="#f2671c"/>
<circle cx="81.05" cy="1009.79" r="2.0" fill="#f2671c"/>
<line x1="108" y1="996.08" x2="108" y2="997.21" stroke="#f5a31f" stroke-width="2.5" />
<line x1="108" y1="1014.2" x2="108" y2="1022.12" stroke="#f5a31f" stroke-width="2.5" />
<line x1="103.3" y1="996.08" x2="112.7" y2="996.08" stroke="#f5a31f" stroke-width="2.5" />
<line x1="103.3" y1="1022.12" x2="112.7" y2="1022.12" stroke="#f5a31f" stroke-width="2.5" />
<rect x="99.4" y="997.21" width="17.2" height="16.99" rx="1.5" fill="#fff" fill-opacity="0.55" stroke="#f5a31f" stroke-width="2.5"/>
<line x1="99.4" y1="1006.27" x2="116.6" y2="1006.27" stroke="#f5a31f" stroke-width="2" />
<circle cx="106.87" cy="1022.12" r="2.0" fill="#f2671c"/>
<circle cx="110.02" cy="996.08" r="2.0" fill="#f2671c"/>
<circle cx="106.05" cy="1006.14" r="2.0" fill="#f2671c"/>
<circle cx="105.53" cy="1002" r="2.0" fill="#f2671c"/>
<circle cx="105.43" cy="1004.16" r="2.0" fill="#f2671c"/>
<circle cx="105.05" cy="1006.6" r="2.0" fill="#f2671c"/>
<circle cx="106.56" cy="1003.29" r="2.0" fill="#f2671c"/>
<circle cx="108.47" cy="1017.38" r="2.0" fill="#f2671c"/>
<circle cx="110.05" cy="1017.47" r="2.0" fill="#f2671c"/>
<line x1="132.3" y1="999.47" x2="132.3" y2="1001.74" stroke="#f5a31f" stroke-width="2.5" />
<line x1="132.3" y1="1010.8" x2="132.3" y2="1016.46" stroke="#f5a31f" stroke-width="2.5" />
<line x1="127.6" y1="999.47" x2="137" y2="999.47" stroke="#f5a31f" stroke-width="2.5" />
<line x1="127.6" y1="1016.46" x2="137" y2="1016.46" stroke="#f5a31f" stroke-width="2.5" />
<rect x="123.7" y="1001.74" width="17.2" height="9.06" rx="1.5" fill="#fff" fill-opacity="0.55" stroke="#f5a31f" stroke-width="2.5"/>
<line x1="123.7" y1="1006.27" x2="140.9" y2="1006.27" stroke="#f5a31f" stroke-width="2" />
<circle cx="129.79" cy="1016.46" r="2.0" fill="#f2671c"/>
<circle cx="134.12" cy="999.47" r="2.0" fill="#f2671c"/>
<circle cx="133.63" cy="1007.8" r="2.0" fill="#f2671c"/>
<circle cx="134.4" cy="1007.45" r="2.0" fill="#f2671c"/>
<circle cx="130.62" cy="1008.19" r="2.0" fill="#f2671c"/>
<circle cx="132.59" cy="1008.04" r="2.0" fill="#f2671c"/>
<circle cx="134.98" cy="1003.76" r="2.0" fill="#f2671c"/>
<circle cx="132.89" cy="1007.14" r="2.0" fill="#f2671c"/>
<circle cx="135.15" cy="1012.07" r="2.0" fill="#f2671c"/>
<text x="132.3" y="999.17" font-size="10" text-anchor="middle" fill="#222" letter-spacing="-0.5" font-weight="bold">*</text>
<line x1="156.6" y1="1000.61" x2="156.6" y2="1002.87" stroke="#f5a31f" stroke-width="2.5" />
<line x1="156.6" y1="1009.67" x2="156.6" y2="1011.93" stroke="#f5a31f" stroke-width="2.5" />
<line x1="151.9" y1="1000.61" x2="161.3" y2="1000.61" stroke="#f5a31f" stroke-width="2.5" />
<line x1="151.9" y1="1011.93" x2="161.3" y2="1011.93" stroke="#f5a31f" stroke-width="2.5" />
<rect x="148" y="1002.87" width="17.2" height="6.79" rx="1.5" fill="#fff" fill-opacity="0.55" stroke="#f5a31f" stroke-width="2.5"/>
<line x1="148" y1="1006.27" x2="165.2" y2="1006.27" stroke="#f5a31f" stroke-width="2" />
<circle cx="159.63" cy="1011.93" r="2.0" fill="#f2671c"/>
<circle cx="158.55" cy="1000.61" r="2.0" fill="#f2671c"/>
<circle cx="159.47" cy="1008.53" r="2.0" fill="#f2671c"/>
<circle cx="156.85" cy="1003.04" r="2.0" fill="#f2671c"/>
<circle cx="159.72" cy="1009.29" r="2.0" fill="#f2671c"/>
<circle cx="158.19" cy="1006.84" r="2.0" fill="#f2671c"/>
<circle cx="155.62" cy="1009.51" r="2.0" fill="#f2671c"/>
<circle cx="159.64" cy="1002.76" r="2.0" fill="#f2671c"/>
<circle cx="155.81" cy="1004.15" r="2.0" fill="#f2671c"/>
<text x="156.6" y="1000.31" font-size="10" text-anchor="middle" fill="#222" letter-spacing="-0.5" font-weight="bold">*</text>
<line x1="180.9" y1="1002.87" x2="180.9" y2="1008.53" stroke="#f2307a" stroke-width="2.5" />
<line x1="180.9" y1="1016.46" x2="180.9" y2="1017.59" stroke="#f2307a" stroke-width="2.5" />
<line x1="176.2" y1="1002.87" x2="185.6" y2="1002.87" stroke="#f2307a" stroke-width="2.5" />
<line x1="176.2" y1="1017.59" x2="185.6" y2="1017.59" stroke="#f2307a" stroke-width="2.5" />
<rect x="172.3" y="1008.53" width="17.2" height="7.93" rx="1.5" fill="#fff" fill-opacity="0.55" stroke="#f2307a" stroke-width="2.5"/>
<line x1="172.3" y1="1011.93" x2="189.5" y2="1011.93" stroke="#f2307a" stroke-width="2" />
<circle cx="178.36" cy="1017.59" r="2.0" fill="#ee2030"/>
<circle cx="181.09" cy="1002.87" r="2.0" fill="#ee2030"/>
<circle cx="178.79" cy="1014.93" r="2.0" fill="#ee2030"/>
<circle cx="181.18" cy="1015.86" r="2.0" fill="#ee2030"/>
<circle cx="182.9" cy="1012.77" r="2.0" fill="#ee2030"/>
<circle cx="179.32" cy="1014.9" r="2.0" fill="#ee2030"/>
<circle cx="180.4" cy="1009.06" r="2.0" fill="#ee2030"/>
<circle cx="183.47" cy="1003.6" r="2.0" fill="#ee2030"/>
<circle cx="180.55" cy="1014.42" r="2.0" fill="#ee2030"/>
<line x1="205.2" y1="1001.74" x2="205.2" y2="1008.53" stroke="#27a98c" stroke-width="2.5" />
<line x1="205.2" y1="1018.73" x2="205.2" y2="1024.39" stroke="#27a98c" stroke-width="2.5" />
<line x1="200.5" y1="1001.74" x2="209.9" y2="1001.74" stroke="#27a98c" stroke-width="2.5" />
<line x1="200.5" y1="1024.39" x2="209.9" y2="1024.39" stroke="#27a98c" stroke-width="2.5" />
<rect x="196.6" y="1008.53" width="17.2" height="10.19" rx="1.5" fill="#fff" fill-opacity="0.55" stroke="#27a98c" stroke-width="2.5"/>
<line x1="196.6" y1="1013.06" x2="213.8" y2="1013.06" stroke="#27a98c" stroke-width="2" />
<circle cx="207.31" cy="1024.39" r="2.0" fill="#2fb62f"/>
<circle cx="206.09" cy="1001.74" r="2.0" fill="#2fb62f"/>
<circle cx="203.53" cy="1015.23" r="2.0" fill="#2fb62f"/>
<circle cx="203.89" cy="1009.63" r="2.0" fill="#2fb62f"/>
<circle cx="204.62" cy="1010.43" r="2.0" fill="#2fb62f"/>
<circle cx="206.94" cy="1009.6" r="2.0" fill="#2fb62f"/>
<circle cx="205.57" cy="1011.72" r="2.0" fill="#2fb62f"/>
<circle cx="205.52" cy="1015.04" r="2.0" fill="#2fb62f"/>
<circle cx="207.29" cy="1008.69" r="2.0" fill="#2fb62f"/>
<line x1="229.5" y1="994.94" x2="229.5" y2="1001.74" stroke="#27a98c" stroke-width="2.5" />
<line x1="229.5" y1="1010.8" x2="229.5" y2="1014.2" stroke="#27a98c" stroke-width="2.5" />
<line x1="224.8" y1="994.94" x2="234.2" y2="994.94" stroke="#27a98c" stroke-width="2.5" />
<line x1="224.8" y1="1014.2" x2="234.2" y2="1014.2" stroke="#27a98c" stroke-width="2.5" />
<rect x="220.9" y="1001.74" width="17.2" height="9.06" rx="1.5" fill="#fff" fill-opacity="0.55" stroke="#27a98c" stroke-width="2.5"/>
<line x1="220.9" y1="1005.14" x2="238.1" y2="1005.14" stroke="#27a98c" stroke-width="2" />
<circle cx="226.8" cy="1014.2" r="2.0" fill="#2fb62f"/>
<circle cx="229.9" cy="994.94" r="2.0" fill="#2fb62f"/>
<circle cx="229.77" cy="1009.82" r="2.0" fill="#2fb62f"/>
<circle cx="227.8" cy="1005.08" r="2.0" fill="#2fb62f"/>
<circle cx="229.89" cy="1007.79" r="2.0" fill="#2fb62f"/>
<circle cx="229.31" cy="1005.73" r="2.0" fill="#2fb62f"/>
<circle cx="229.18" cy="1003.23" r="2.0" fill="#2fb62f"/>
<circle cx="230.9" cy="1009.42" r="2.0" fill="#2fb62f"/>
<circle cx="226.33" cy="995.88" r="2.0" fill="#2fb62f"/>
<text x="229.5" y="994.64" font-size="10" text-anchor="middle" fill="#222" letter-spacing="-0.5" font-weight="bold">*</text>
<line x1="253.8" y1="991.55" x2="253.8" y2="999.47" stroke="#27a98c" stroke-width="2.5" />
<line x1="253.8" y1="1010.8" x2="253.8" y2="1013.06" stroke="#27a98c" stroke-width="2.5" />
<line x1="249.1" y1="991.55" x2="258.5" y2="991.55" stroke="#27a98c" stroke-width="2.5" />
<line x1="249.1" y1="1013.06" x2="258.5" y2="1013.06" stroke="#27a98c" stroke-width="2.5" />
<rect x="245.2" y="999.47" width="17.2" height="11.33" rx="1.5" fill="#fff" fill-opacity="0.55" stroke="#27a98c" stroke-width="2.5"/>
<line x1="245.2" y1="1004" x2="262.4" y2="1004" stroke="#27a98c" stroke-width="2" />
<circle cx="253.48" cy="1013.06" r="2.0" fill="#2fb62f"/>
<circle cx="253.3" cy="991.55" r="2.0" fill="#2fb62f"/>
<circle cx="251.12" cy="1006.53" r="2.0" fill="#2fb62f"/>
<circle cx="255.08" cy="1001.9" r="2.0" fill="#2fb62f"/>
<circle cx="253.67" cy="1009.19" r="2.0" fill="#2fb62f"/>
<circle cx="255.01" cy="1000.98" r="2.0" fill="#2fb62f"/>
<circle cx="254.05" cy="1008.49" r="2.0" fill="#2fb62f"/>
<circle cx="254.16" cy="998.41" r="2.0" fill="#2fb62f"/>
<circle cx="253.97" cy="1009.34" r="2.0" fill="#2fb62f"/>
<text x="253.8" y="991.25" font-size="10" text-anchor="middle" fill="#222" letter-spacing="-0.5" font-weight="bold">**</text>
<line x1="278.1" y1="992.68" x2="278.1" y2="998.34" stroke="#a81c24" stroke-width="2.5" />
<line x1="278.1" y1="1010.8" x2="278.1" y2="1013.06" stroke="#a81c24" stroke-width="2.5" />
<line x1="273.4" y1="992.68" x2="282.8" y2="992.68" stroke="#a81c24" stroke-width="2.5" />
<line x1="273.4" y1="1013.06" x2="282.8" y2="1013.06" stroke="#a81c24" stroke-width="2.5" />
<rect x="269.5" y="998.34" width="17.2" height="12.46" rx="1.5" fill="#fff" fill-opacity="0.55" stroke="#a81c24" stroke-width="2.5"/>
<line x1="269.5" y1="1004" x2="286.7" y2="1004" stroke="#a81c24" stroke-width="2" />
<circle cx="279.21" cy="1013.06" r="2.0" fill="#ea2028"/>
<circle cx="278.77" cy="992.68" r="2.0" fill="#ea2028"/>
<circle cx="276.77" cy="1007.09" r="2.0" fill="#ea2028"/>
<circle cx="276.95" cy="999.6" r="2.0" fill="#ea2028"/>
<circle cx="277.14" cy="1009.72" r="2.0" fill="#ea2028"/>
<circle cx="276.83" cy="999.88" r="2.0" fill="#ea2028"/>
<circle cx="281.04" cy="1000.04" r="2.0" fill="#ea2028"/>
<circle cx="277.08" cy="1002.92" r="2.0" fill="#ea2028"/>
<circle cx="277.38" cy="997.23" r="2.0" fill="#ea2028"/>
<text x="278.1" y="992.38" font-size="10" text-anchor="middle" fill="#222" letter-spacing="-0.5" font-weight="bold">**</text>
<line x1="302.4" y1="999.47" x2="302.4" y2="1001.74" stroke="#a81c24" stroke-width="2.5" />
<line x1="302.4" y1="1010.8" x2="302.4" y2="1015.33" stroke="#a81c24" stroke-width="2.5" />
<line x1="297.7" y1="999.47" x2="307.1" y2="999.47" stroke="#a81c24" stroke-width="2.5" />
<line x1="297.7" y1="1015.33" x2="307.1" y2="1015.33" stroke="#a81c24" stroke-width="2.5" />
<rect x="293.8" y="1001.74" width="17.2" height="9.06" rx="1.5" fill="#fff" fill-opacity="0.55" stroke="#a81c24" stroke-width="2.5"/>
<line x1="293.8" y1="1005.14" x2="311" y2="1005.14" stroke="#a81c24" stroke-width="2" />
<circle cx="300.59" cy="1015.33" r="2.0" fill="#ea2028"/>
<circle cx="300.89" cy="999.47" r="2.0" fill="#ea2028"/>
<circle cx="304.65" cy="1007" r="2.0" fill="#ea2028"/>
<circle cx="302.42" cy="1003.4" r="2.0" fill="#ea2028"/>
<circle cx="299.91" cy="1006.47" r="2.0" fill="#ea2028"/>
<circle cx="302.16" cy="1005.78" r="2.0" fill="#ea2028"/>
<circle cx="299.97" cy="1008.49" r="2.0" fill="#ea2028"/>
<circle cx="302.82" cy="1010.92" r="2.0" fill="#ea2028"/>
<circle cx="302.03" cy="1013.92" r="2.0" fill="#ea2028"/>
<text x="302.4" y="999.17" font-size="10" text-anchor="middle" fill="#222" letter-spacing="-0.5" font-weight="bold">*</text>
<line x1="326.7" y1="994.94" x2="326.7" y2="998.34" stroke="#c4161c" stroke-width="2.5" />
<line x1="326.7" y1="1006.27" x2="326.7" y2="1009.67" stroke="#c4161c" stroke-width="2.5" />
<line x1="322" y1="994.94" x2="331.4" y2="994.94" stroke="#c4161c" stroke-width="2.5" />
<line x1="322" y1="1009.67" x2="331.4" y2="1009.67" stroke="#c4161c" stroke-width="2.5" />
<rect x="318.1" y="998.34" width="17.2" height="7.93" rx="1.5" fill="#fff" fill-opacity="0.55" stroke="#c4161c" stroke-width="2.5"/>
<line x1="318.1" y1="1001.74" x2="335.3" y2="1001.74" stroke="#c4161c" stroke-width="2" />
<circle cx="328.67" cy="1009.67" r="2.0" fill="#ea2028"/>
<circle cx="325.26" cy="994.94" r="2.0" fill="#ea2028"/>
<circle cx="325.82" cy="999.47" r="2.0" fill="#ea2028"/>
<circle cx="324.44" cy="1004.21" r="2.0" fill="#ea2028"/>
<circle cx="328.86" cy="999.52" r="2.0" fill="#ea2028"/>
<circle cx="324.08" cy="1004.31" r="2.0" fill="#ea2028"/>
<circle cx="328.22" cy="998.48" r="2.0" fill="#ea2028"/>
<circle cx="326.03" cy="1000.33" r="2.0" fill="#ea2028"/>
<circle cx="327.85" cy="1009.04" r="2.0" fill="#ea2028"/>
<text x="326.7" y="994.64" font-size="10" text-anchor="middle" fill="#222" letter-spacing="-0.5" font-weight="bold">***</text>
<line x1="351" y1="993.81" x2="351" y2="996.08" stroke="#ead820" stroke-width="2.5" />
<line x1="351" y1="1004" x2="351" y2="1006.27" stroke="#ead820" stroke-width="2.5" />
<line x1="346.3" y1="993.81" x2="355.7" y2="993.81" stroke="#ead820" stroke-width="2.5" />
<line x1="346.3" y1="1006.27" x2="355.7" y2="1006.27" stroke="#ead820" stroke-width="2.5" />
<rect x="342.4" y="996.08" width="17.2" height="7.93" rx="1.5" fill="#fff" fill-opacity="0.55" stroke="#ead820" stroke-width="2.5"/>
<line x1="342.4" y1="999.47" x2="359.6" y2="999.47" stroke="#ead820" stroke-width="2" />
<circle cx="348.97" cy="1006.27" r="2.0" fill="#f0e82a"/>
<circle cx="347.92" cy="993.81" r="2.0" fill="#f0e82a"/>
<circle cx="351.71" cy="1001.68" r="2.0" fill="#f0e82a"/>
<circle cx="348.69" cy="1003.38" r="2.0" fill="#f0e82a"/>
<circle cx="352.48" cy="996.75" r="2.0" fill="#f0e82a"/>
<circle cx="350.8" cy="998.81" r="2.0" fill="#f0e82a"/>
<circle cx="352.34" cy="1002.66" r="2.0" fill="#f0e82a"/>
<circle cx="351.45" cy="994.11" r="2.0" fill="#f0e82a"/>
<circle cx="352.73" cy="994.91" r="2.0" fill="#f0e82a"/>
<text x="351" y="993.51" font-size="10" text-anchor="middle" fill="#222" letter-spacing="-0.5" font-weight="bold">***</text>
<line x1="375.3" y1="992.68" x2="375.3" y2="999.47" stroke="#ead820" stroke-width="2.5" />
<line x1="375.3" y1="1006.27" x2="375.3" y2="1010.8" stroke="#ead820" stroke-width="2.5" />
<line x1="370.6" y1="992.68" x2="380" y2="992.68" stroke="#ead820" stroke-width="2.5" />
<line x1="370.6" y1="1010.8" x2="380" y2="1010.8" stroke="#ead820" stroke-width="2.5" />
<rect x="366.7" y="999.47" width="17.2" height="6.8" rx="1.5" fill="#fff" fill-opacity="0.55" stroke="#ead820" stroke-width="2.5"/>
<line x1="366.7" y1="1001.74" x2="383.9" y2="1001.74" stroke="#ead820" stroke-width="2" />
<circle cx="373.42" cy="1010.8" r="2.0" fill="#f0e82a"/>
<circle cx="374.83" cy="992.68" r="2.0" fill="#f0e82a"/>
<circle cx="374.13" cy="1000.69" r="2.0" fill="#f0e82a"/>
<circle cx="376.07" cy="1002.17" r="2.0" fill="#f0e82a"/>
<circle cx="375.51" cy="1002.25" r="2.0" fill="#f0e82a"/>
<circle cx="377.6" cy="1004.05" r="2.0" fill="#f0e82a"/>
<circle cx="374.89" cy="1005.36" r="2.0" fill="#f0e82a"/>
<circle cx="374.42" cy="1009.12" r="2.0" fill="#f0e82a"/>
<circle cx="376.27" cy="995.27" r="2.0" fill="#f0e82a"/>
<line x1="399.6" y1="994.94" x2="399.6" y2="999.47" stroke="#1f4fd2" stroke-width="2.5" />
<line x1="399.6" y1="1008.53" x2="399.6" y2="1013.06" stroke="#1f4fd2" stroke-width="2.5" />
<line x1="394.9" y1="994.94" x2="404.3" y2="994.94" stroke="#1f4fd2" stroke-width="2.5" />
<line x1="394.9" y1="1013.06" x2="404.3" y2="1013.06" stroke="#1f4fd2" stroke-width="2.5" />
<rect x="391" y="999.47" width="17.2" height="9.06" rx="1.5" fill="#fff" fill-opacity="0.55" stroke="#1f4fd2" stroke-width="2.5"/>
<line x1="391" y1="1004" x2="408.2" y2="1004" stroke="#1f4fd2" stroke-width="2" />
<circle cx="398.83" cy="1013.06" r="2.0" fill="#1f4fd2"/>
<circle cx="401.35" cy="994.94" r="2.0" fill="#1f4fd2"/>
<circle cx="401.72" cy="1001.79" r="2.0" fill="#1f4fd2"/>
<circle cx="396.65" cy="1000.15" r="2.0" fill="#1f4fd2"/>
<circle cx="398.93" cy="1005.71" r="2.0" fill="#1f4fd2"/>
<circle cx="401.03" cy="1000.5" r="2.0" fill="#1f4fd2"/>
<circle cx="401.25" cy="999.64" r="2.0" fill="#1f4fd2"/>
<circle cx="399.82" cy="995.26" r="2.0" fill="#1f4fd2"/>
<circle cx="397.75" cy="1010.72" r="2.0" fill="#1f4fd2"/>
<text x="399.6" y="994.64" font-size="10" text-anchor="middle" fill="#222" letter-spacing="-0.5" font-weight="bold">*</text>
<line x1="423.9" y1="1017.59" x2="423.9" y2="1023.26" stroke="#a8bdb3" stroke-width="1.9" />
<line x1="423.9" y1="1035.71" x2="423.9" y2="1039.11" stroke="#a8bdb3" stroke-width="1.9" />
<line x1="420.7" y1="1017.59" x2="427.1" y2="1017.59" stroke="#a8bdb3" stroke-width="1.9" />
<line x1="420.7" y1="1039.11" x2="427.1" y2="1039.11" stroke="#a8bdb3" stroke-width="1.9" />
<rect x="415.3" y="1023.26" width="17.2" height="12.46" rx="1.5" fill="#fff" fill-opacity="0.55" stroke="#a8bdb3" stroke-width="1.9"/>
<line x1="415.3" y1="1028.92" x2="432.5" y2="1028.92" stroke="#a8bdb3" stroke-width="1.52" />
<circle cx="422.99" cy="1039.11" r="1.5" fill="#4a4f4d"/>
<circle cx="423.24" cy="1017.59" r="1.5" fill="#4a4f4d"/>
<circle cx="424.51" cy="1030.65" r="1.5" fill="#4a4f4d"/>
<circle cx="423.7" cy="1034.99" r="1.5" fill="#4a4f4d"/>
<circle cx="422.72" cy="1031.78" r="1.5" fill="#4a4f4d"/>
<circle cx="425.06" cy="1030.39" r="1.5" fill="#4a4f4d"/>
<circle cx="424.17" cy="1025.46" r="1.5" fill="#4a4f4d"/>
<circle cx="425.58" cy="1026.43" r="1.5" fill="#4a4f4d"/>
<circle cx="424.03" cy="1030.2" r="1.5" fill="#4a4f4d"/>
<line x1="448.2" y1="1015.33" x2="448.2" y2="1018.73" stroke="#a8bdb3" stroke-width="1.9" />
<line x1="448.2" y1="1024.39" x2="448.2" y2="1025.52" stroke="#a8bdb3" stroke-width="1.9" />
<line x1="445" y1="1015.33" x2="451.4" y2="1015.33" stroke="#a8bdb3" stroke-width="1.9" />
<line x1="445" y1="1025.52" x2="451.4" y2="1025.52" stroke="#a8bdb3" stroke-width="1.9" />
<rect x="439.6" y="1018.73" width="17.2" height="5.66" rx="1.5" fill="#fff" fill-opacity="0.55" stroke="#a8bdb3" stroke-width="1.9"/>
<line x1="439.6" y1="1022.12" x2="456.8" y2="1022.12" stroke="#a8bdb3" stroke-width="1.52" />
<circle cx="446.63" cy="1025.52" r="1.5" fill="#4a4f4d"/>
<circle cx="449.42" cy="1015.33" r="1.5" fill="#4a4f4d"/>
<circle cx="447.81" cy="1020.86" r="1.5" fill="#4a4f4d"/>
<circle cx="447.78" cy="1021.97" r="1.5" fill="#4a4f4d"/>
<circle cx="446.61" cy="1020.95" r="1.5" fill="#4a4f4d"/>
<circle cx="446.52" cy="1019.19" r="1.5" fill="#4a4f4d"/>
<circle cx="447.81" cy="1018.83" r="1.5" fill="#4a4f4d"/>
<circle cx="449.91" cy="1018.79" r="1.5" fill="#4a4f4d"/>
<circle cx="449.07" cy="1021.14" r="1.5" fill="#4a4f4d"/>
<text x="448.2" y="1015.03" font-size="10" text-anchor="middle" fill="#222" letter-spacing="-0.5" font-weight="bold">***</text>
<line x1="472.5" y1="1013.06" x2="472.5" y2="1015.33" stroke="#a8bdb3" stroke-width="1.9" />
<line x1="472.5" y1="1025.52" x2="472.5" y2="1032.32" stroke="#a8bdb3" stroke-width="1.9" />
<line x1="469.3" y1="1013.06" x2="475.7" y2="1013.06" stroke="#a8bdb3" stroke-width="1.9" />
<line x1="469.3" y1="1032.32" x2="475.7" y2="1032.32" stroke="#a8bdb3" stroke-width="1.9" />
<rect x="463.9" y="1015.33" width="17.2" height="10.19" rx="1.5" fill="#fff" fill-opacity="0.55" stroke="#a8bdb3" stroke-width="1.9"/>
<line x1="463.9" y1="1020.99" x2="481.1" y2="1020.99" stroke="#a8bdb3" stroke-width="1.52" />
<circle cx="472.55" cy="1032.32" r="1.5" fill="#4a4f4d"/>
<circle cx="472.65" cy="1013.06" r="1.5" fill="#4a4f4d"/>
<circle cx="471.14" cy="1018.3" r="1.5" fill="#4a4f4d"/>
<circle cx="470.94" cy="1018.71" r="1.5" fill="#4a4f4d"/>
<circle cx="472.4" cy="1022.74" r="1.5" fill="#4a4f4d"/>
<circle cx="471.22" cy="1023.8" r="1.5" fill="#4a4f4d"/>
<circle cx="473.01" cy="1019.38" r="1.5" fill="#4a4f4d"/>
<circle cx="471.81" cy="1031.09" r="1.5" fill="#4a4f4d"/>
<circle cx="472.93" cy="1021" r="1.5" fill="#4a4f4d"/>
<text x="472.5" y="1012.76" font-size="10" text-anchor="middle" fill="#222" letter-spacing="-0.5" font-weight="bold">**</text>
<line x1="496.8" y1="1006.27" x2="496.8" y2="1011.93" stroke="#a8bdb3" stroke-width="1.9" />
<line x1="496.8" y1="1022.12" x2="496.8" y2="1028.92" stroke="#a8bdb3" stroke-width="1.9" />
<line x1="493.6" y1="1006.27" x2="500" y2="1006.27" stroke="#a8bdb3" stroke-width="1.9" />
<line x1="493.6" y1="1028.92" x2="500" y2="1028.92" stroke="#a8bdb3" stroke-width="1.9" />
<rect x="488.2" y="1011.93" width="17.2" height="10.19" rx="1.5" fill="#fff" fill-opacity="0.55" stroke="#a8bdb3" stroke-width="1.9"/>
<line x1="488.2" y1="1016.46" x2="505.4" y2="1016.46" stroke="#a8bdb3" stroke-width="1.52" />
<circle cx="496.02" cy="1028.92" r="1.5" fill="#4a4f4d"/>
<circle cx="496.78" cy="1006.27" r="1.5" fill="#4a4f4d"/>
<circle cx="496.97" cy="1014.48" r="1.5" fill="#4a4f4d"/>
<circle cx="497.85" cy="1015.94" r="1.5" fill="#4a4f4d"/>
<circle cx="496.06" cy="1016.71" r="1.5" fill="#4a4f4d"/>
<circle cx="498.47" cy="1020.11" r="1.5" fill="#4a4f4d"/>
<circle cx="495.08" cy="1018.59" r="1.5" fill="#4a4f4d"/>
<circle cx="497.85" cy="1006.77" r="1.5" fill="#4a4f4d"/>
<circle cx="497.05" cy="1022.84" r="1.5" fill="#4a4f4d"/>
<line x1="521.1" y1="1018.73" x2="521.1" y2="1023.26" stroke="#a8bdb3" stroke-width="1.9" />
<line x1="521.1" y1="1037.98" x2="521.1" y2="1042.51" stroke="#a8bdb3" stroke-width="1.9" />
<line x1="517.9" y1="1018.73" x2="524.3" y2="1018.73" stroke="#a8bdb3" stroke-width="1.9" />
<line x1="517.9" y1="1042.51" x2="524.3" y2="1042.51" stroke="#a8bdb3" stroke-width="1.9" />
<rect x="512.5" y="1023.26" width="17.2" height="14.72" rx="1.5" fill="#fff" fill-opacity="0.55" stroke="#a8bdb3" stroke-width="1.9"/>
<line x1="512.5" y1="1031.18" x2="529.7" y2="1031.18" stroke="#a8bdb3" stroke-width="1.52" />
<circle cx="522.79" cy="1042.51" r="1.5" fill="#4a4f4d"/>
<circle cx="519.7" cy="1018.73" r="1.5" fill="#4a4f4d"/>
<circle cx="522.28" cy="1024.71" r="1.5" fill="#4a4f4d"/>
<circle cx="519.59" cy="1035.73" r="1.5" fill="#4a4f4d"/>
<circle cx="519.59" cy="1027.83" r="1.5" fill="#4a4f4d"/>
<circle cx="522.16" cy="1024.03" r="1.5" fill="#4a4f4d"/>
<circle cx="521.89" cy="1028.16" r="1.5" fill="#4a4f4d"/>
<circle cx="522.75" cy="1039.84" r="1.5" fill="#4a4f4d"/>
<circle cx="521.57" cy="1020.61" r="1.5" fill="#4a4f4d"/>
<text x="521.1" y="1018.43" font-size="10" text-anchor="middle" fill="#222" letter-spacing="-0.5" font-weight="bold">***</text>
<text x="84" y="1040" font-size="11.5" text-anchor="start" fill="#f5923a" font-style="italic" >Pseudomonas</text>
<text x="150" y="990" font-size="11.5" text-anchor="start" fill="#f7609a" font-style="italic" >Sphingopyxis</text>
<text x="203" y="1040.5" font-size="11.5" text-anchor="start" fill="#3bb5a5" font-style="italic" >Variovorax</text>
<text x="264.5" y="1033.5" font-size="11.5" text-anchor="start" fill="#b8202a" font-style="italic" >Achromobacter</text>
<text x="358.5" y="977" font-size="11.5" text-anchor="start" fill="#2a55c8" font-style="italic" >Curvibacter</text>
<text x="333" y="1047" font-size="11.5" text-anchor="start" fill="#d8dc3a" font-style="italic" >Sphingomonas</text>
<text x="418" y="1051.5" font-size="11.5" text-anchor="start" fill="#c3d0cb" font-style="italic" >Acinetobacter</text>
<defs>
<linearGradient id="bluebg0" x1="0" y1="0" x2="0" y2="1"><stop offset="0" stop-color="#2b5075"/><stop offset="0.45" stop-color="#294772"/><stop offset="1" stop-color="#2a4679"/></linearGradient>
<linearGradient id="bluebg1" x1="0" y1="0" x2="0" y2="1"><stop offset="0" stop-color="#2d5a80"/><stop offset="0.45" stop-color="#305a86"/><stop offset="1" stop-color="#33608c"/></linearGradient>
<linearGradient id="bluebg2" x1="0" y1="0" x2="0" y2="1"><stop offset="0" stop-color="#2c5a7c"/><stop offset="0.45" stop-color="#2d5a80"/><stop offset="1" stop-color="#2f5c84"/></linearGradient>
<linearGradient id="bluebg3" x1="0" y1="0" x2="0" y2="1"><stop offset="0" stop-color="#2b5878"/><stop offset="0.45" stop-color="#2d5a7e"/><stop offset="1" stop-color="#2f5c82"/></linearGradient>

<linearGradient id="bfbg" x1="0" y1="0" x2="1" y2="0"><stop offset="0" stop-color="#d9e0df"/><stop offset="0.3" stop-color="#e0e7e6"/><stop offset="1" stop-color="#e3e9e9"/></linearGradient>
<radialGradient id="bfbg4" cx="0.4" cy="0.6" r="0.75"><stop offset="0" stop-color="#fbfdfd"/><stop offset="0.6" stop-color="#eef3f2"/><stop offset="1" stop-color="#dde5e4"/></radialGradient>
<filter id="bl1" x="-20%" y="-20%" width="140%" height="140%"><feGaussianBlur stdDeviation="0.9"/></filter>
<filter id="bl2" x="-20%" y="-20%" width="140%" height="140%"><feGaussianBlur stdDeviation="1.6"/></filter>
<filter id="bl05" x="-20%" y="-20%" width="140%" height="140%"><feGaussianBlur stdDeviation="0.5"/></filter>
</defs>
<text x="563" y="589.3" font-size="20.5" text-anchor="start" fill="#161616" >E</text>
<line x1="710" y1="593.8" x2="1068" y2="593.8" stroke="#111" stroke-width="2.6" />
<text x="872" y="586.5" font-size="19" text-anchor="middle" fill="#111" >+IAA</text>
<text x="656" y="636" font-size="18.5" text-anchor="middle" fill="#111" >NB</text>
<text x="763.8" y="636" font-size="18.5" text-anchor="middle" fill="#111" >NB</text>
<text x="854.6" y="615.4" font-size="19" text-anchor="start" fill="#111" >Root473_</text>
<text x="854.6" y="638.5" font-size="19" text-anchor="start" fill="#111" font-style="italic" >Variovorax</text>
<text x="965.9" y="615.4" font-size="19" text-anchor="start" fill="#111" >Root154_</text>
<text x="965.9" y="638.5" font-size="19" text-anchor="start" fill="#111" font-style="italic" >Sphingopyxis</text>
<text x="592.8" y="733.4" font-size="18.3" text-anchor="end" fill="#111" >7DAI</text>
<text x="592.8" y="878.4" font-size="18.3" text-anchor="end" fill="#111" >1DAI</text>
<text x="592.8" y="1009.5" font-size="18.3" text-anchor="end" fill="#111" >3DAI</text>
<text x="592.8" y="1107.8" font-size="18.3" text-anchor="end" fill="#111" >3DAI</text>
<text x="551.6" y="1130.8" font-size="18.3" text-anchor="start" fill="#111" >_BF</text>
<clipPath id="cpE0"><rect x="597" y="643.9" width="116.3" height="166.7"/></clipPath>
<g clip-path="url(#cpE0)">
<rect x="597" y="643.9" width="116.3" height="166.7" fill="url(#bluebg0)"/>
<line x1="625" y1="643.9" x2="625" y2="810.6" stroke="#8fb3a6" stroke-width="1.15" opacity="0.9"/>
<line x1="661" y1="643.9" x2="661" y2="810.6" stroke="#8fb3a6" stroke-width="1.15" opacity="0.9"/>
<line x1="698" y1="643.9" x2="698" y2="810.6" stroke="#8fb3a6" stroke-width="1.15" opacity="0.9"/>
<line x1="597" y1="671.7" x2="713.3" y2="671.7" stroke="#8bb3a3" stroke-width="1.2" opacity="0.5"/>
<line x1="597" y1="708" x2="713.3" y2="708" stroke="#8bb3a3" stroke-width="1.2" opacity="0.9"/>
<line x1="597" y1="742" x2="713.3" y2="742" stroke="#8bb3a3" stroke-width="1.2" opacity="0.9"/>
<line x1="597" y1="776.5" x2="713.3" y2="776.5" stroke="#8bb3a3" stroke-width="1.2" opacity="0.9"/>
<g fill="none" stroke="#a9c9b6" stroke-linecap="round">
<path d="M606.65,673.7 C606.62,675.03 606.73,679.03 606.49,681.69 C606.24,684.36 605.35,687.02 605.17,689.69 C604.99,692.35 605.3,695.02 605.4,697.68 C605.5,700.35 606.14,703.01 605.78,705.68 C605.42,708.34 603.92,711.01 603.25,713.67 C602.58,716.34 602.21,719 601.78,721.67 C601.34,724.33 600.46,727 600.63,729.66 C600.8,732.33 602.2,734.99 602.8,737.66 C603.39,740.32 604.24,742.99 604.18,745.65 C604.11,748.32 602.44,750.98 602.41,753.65 C602.37,756.31 604.01,758.98 603.95,761.64 C603.9,764.31 602.29,766.97 602.07,769.64 C601.86,772.3 602.58,776.3 602.68,777.63" stroke-width="0.7" opacity="0.5"/>
<path d="M606.49,681.69 L600.68,692.71" stroke-width="0.7" opacity="0.4"/>
<path d="M605.17,689.69 L612.62,701.74" stroke-width="0.7" opacity="0.4"/>
<path d="M617.2,673.7 C617.23,675.08 617.21,679.22 617.4,681.99 C617.59,684.75 618.43,687.51 618.33,690.27 C618.22,693.04 616.66,695.8 616.79,698.56 C616.92,701.32 618.54,704.09 619.08,706.85 C619.63,709.61 619.5,712.37 620.07,715.14 C620.64,717.9 621.75,720.66 622.5,723.42 C623.25,726.19 624.38,728.95 624.55,731.71 C624.71,734.47 623.8,737.24 623.5,740 C623.21,742.76 623.19,745.52 622.78,748.28 C622.37,751.05 621.64,753.81 621.04,756.57 C620.45,759.33 619.88,762.1 619.2,764.86 C618.52,767.62 617.49,770.38 616.94,773.15 C616.39,775.91 615.99,778.67 615.91,781.43 C615.82,784.2 616.78,786.96 616.44,789.72 C616.1,792.48 614.14,795.25 613.86,798.01 C613.58,800.77 614.77,803.53 614.79,806.29 C614.8,809.06 614.08,813.2 613.94,814.58" stroke-width="0.95" opacity="0.5"/>
<path d="M623.5,740 L627.43,750.58" stroke-width="0.7" opacity="0.4"/>
<path d="M623.5,740 L627.6,748.8" stroke-width="0.7" opacity="0.4"/>
<path d="M627.36,673.7 C626.94,675.09 625.07,679.25 624.88,682.02 C624.68,684.8 625.66,687.57 626.18,690.34 C626.69,693.12 628.09,695.89 627.97,698.67 C627.85,701.44 625.63,704.21 625.46,706.99 C625.29,709.76 626.83,712.54 626.96,715.31 C627.09,718.08 626.31,720.86 626.26,723.63 C626.22,726.41 627.03,729.18 626.67,731.95 C626.31,734.73 624.94,737.5 624.12,740.28 C623.3,743.05 622.43,745.82 621.76,748.6 C621.09,751.37 619.98,754.15 620.1,756.92 C620.22,759.69 622.34,762.47 622.47,765.24 C622.6,768.02 620.93,770.79 620.89,773.56 C620.85,776.34 621.63,779.11 622.22,781.89 C622.81,784.66 623.7,787.44 624.46,790.21 C625.21,792.98 626.51,795.76 626.75,798.53 C627,801.31 626.21,804.08 625.94,806.85 C625.68,809.63 625.32,813.79 625.19,815.18" stroke-width="0.93" opacity="0.5"/>
<path d="M626.18,690.34 L627.97,709.28" stroke-width="0.7" opacity="0.4"/>
<path d="M626.26,723.63 L633.46,732.15" stroke-width="0.7" opacity="0.4"/>
<path d="M638.07,673.7 C637.72,675.07 636.44,679.2 635.95,681.95 C635.45,684.7 635.16,687.45 635.12,690.19 C635.08,692.94 635.24,695.69 635.7,698.44 C636.15,701.19 637.65,703.94 637.87,706.69 C638.09,709.44 636.81,712.19 637.04,714.94 C637.27,717.68 638.84,720.43 639.24,723.18 C639.65,725.93 639.6,728.68 639.48,731.43 C639.35,734.18 638.82,736.93 638.5,739.68 C638.18,742.43 637.99,745.17 637.55,747.92 C637.11,750.67 636.52,753.42 635.87,756.17 C635.23,758.92 634.35,761.67 633.68,764.42 C633.01,767.17 631.99,769.92 631.85,772.66 C631.71,775.41 632.24,778.16 632.84,780.91 C633.43,783.66 635.28,786.41 635.42,789.16 C635.56,791.91 634.34,794.66 633.66,797.41 C632.98,800.15 631.28,802.9 631.31,805.65 C631.34,808.4 633.42,812.52 633.84,813.9" stroke-width="0.82" opacity="0.5"/>
<path d="M637.87,706.69 L642.68,719.5" stroke-width="0.7" opacity="0.4"/>
<path d="M637.04,714.94 L636.15,728.84" stroke-width="0.7" opacity="0.4"/>
<path d="M646.72,673.7 C647.08,675 648.93,678.9 648.89,681.5 C648.84,684.1 646.87,686.7 646.46,689.3 C646.04,691.9 646.13,694.51 646.42,697.11 C646.71,699.71 648.21,702.31 648.18,704.91 C648.15,707.51 646.38,710.11 646.26,712.71 C646.14,715.31 646.87,717.91 647.47,720.51 C648.06,723.11 649.3,725.71 649.8,728.31 C650.31,730.92 650.12,733.52 650.48,736.12 C650.85,738.72 652.07,741.32 651.98,743.92 C651.89,746.52 650.33,749.12 649.93,751.72 C649.54,754.32 649.95,756.92 649.59,759.52 C649.23,762.12 647.78,764.72 647.77,767.32 C647.77,769.93 649.26,773.83 649.56,775.13" stroke-width="0.84" opacity="0.5"/>
<path d="M646.26,712.71 L653.31,734.37" stroke-width="0.7" opacity="0.4"/>
<path d="M648.18,704.91 L657.38,722.55" stroke-width="0.7" opacity="0.4"/>
<path d="M657.64,673.7 C657.45,675.04 656.69,679.07 656.47,681.76 C656.25,684.45 655.99,687.13 656.31,689.82 C656.64,692.51 658.39,695.19 658.4,697.88 C658.42,700.57 656.45,703.25 656.39,705.94 C656.33,708.63 657.76,711.31 658.06,714 C658.37,716.69 658.48,719.37 658.23,722.06 C657.98,724.75 656.46,727.43 656.56,730.12 C656.66,732.81 658.14,735.49 658.83,738.18 C659.53,740.87 660.71,743.55 660.75,746.24 C660.79,748.93 659.37,751.61 659.08,754.3 C658.8,756.99 659.04,759.67 659.04,762.36 C659.05,765.05 659.07,767.73 659.12,770.42 C659.18,773.11 659.33,775.79 659.37,778.48 C659.42,781.17 659.38,785.2 659.39,786.54" stroke-width="0.94" opacity="0.5"/>
<path d="M658.4,697.88 L662.3,715.18" stroke-width="0.7" opacity="0.4"/>
<path d="M656.56,730.12 L652.68,745.95" stroke-width="0.7" opacity="0.4"/>
<path d="M662.21,673.7 C662.5,675.03 663.87,679.04 663.96,681.71 C664.04,684.38 662.52,687.04 662.73,689.71 C662.95,692.38 664.63,695.05 665.23,697.72 C665.84,700.39 665.77,703.06 666.36,705.73 C666.94,708.4 668.48,711.07 668.73,713.73 C668.99,716.4 668.32,719.07 667.9,721.74 C667.48,724.41 666.2,727.08 666.23,729.75 C666.26,732.42 667.78,735.09 668.06,737.76 C668.34,740.42 667.71,743.09 667.93,745.76 C668.14,748.43 669.26,751.1 669.35,753.77 C669.44,756.44 668.79,759.11 668.44,761.78 C668.1,764.45 667.65,767.11 667.27,769.78 C666.89,772.45 666.35,775.12 666.17,777.79 C665.99,780.46 666.02,783.13 666.17,785.8 C666.32,788.47 667.05,791.14 667.07,793.8 C667.1,796.47 666.45,800.48 666.33,801.81" stroke-width="0.8" opacity="0.5"/>
<path d="M666.23,729.75 L663.23,749.55" stroke-width="0.7" opacity="0.4"/>
<path d="M668.06,737.76 L677.58,759.15" stroke-width="0.7" opacity="0.4"/>
<path d="M674.64,673.7 C674.66,675.05 675.05,679.1 674.79,681.8 C674.53,684.51 673.05,687.21 673.05,689.91 C673.06,692.61 674.13,695.31 674.8,698.01 C675.48,700.72 676.72,703.42 677.08,706.12 C677.44,708.82 676.81,711.52 676.96,714.22 C677.11,716.92 677.6,719.63 677.96,722.33 C678.31,725.03 678.71,727.73 679.1,730.43 C679.49,733.13 680.38,735.84 680.3,738.54 C680.21,741.24 678.63,743.94 678.59,746.64 C678.55,749.34 679.73,752.05 680.05,754.75 C680.36,757.45 680.25,760.15 680.47,762.85 C680.68,765.55 681.25,768.25 681.33,770.96 C681.4,773.66 680.88,776.36 680.92,779.06 C680.96,781.76 681.22,784.46 681.56,787.17 C681.91,789.87 682.75,793.92 682.99,795.27" stroke-width="0.92" opacity="0.5"/>
<path d="M674.79,681.8 L668.7,698.01" stroke-width="0.7" opacity="0.4"/>
<path d="M676.96,714.22 L679.96,725.29" stroke-width="0.7" opacity="0.4"/>
<path d="M687.31,673.7 C687.42,675.04 688.27,679.07 687.99,681.76 C687.7,684.44 686.03,687.13 685.6,689.81 C685.18,692.5 685.72,695.18 685.46,697.87 C685.19,700.55 684.66,703.24 684.03,705.92 C683.41,708.61 682.42,711.29 681.71,713.98 C681.01,716.66 680.28,719.35 679.81,722.03 C679.33,724.72 679.29,727.4 678.86,730.09 C678.42,732.77 677.74,735.46 677.2,738.14 C676.66,740.83 676.28,743.51 675.61,746.2 C674.94,748.88 673.63,751.57 673.19,754.25 C672.76,756.94 673.15,759.62 673.01,762.31 C672.88,764.99 672.4,767.68 672.39,770.36 C672.38,773.05 672.8,775.73 672.97,778.42 C673.15,781.1 673.59,783.79 673.44,786.47 C673.29,789.16 671.96,791.84 672.08,794.53 C672.2,797.21 673.82,801.24 674.17,802.58" stroke-width="0.82" opacity="0.5"/>
<path d="M681.71,713.98 L688.83,734.1" stroke-width="0.7" opacity="0.4"/>
<path d="M679.81,722.03 L689.1,737.73" stroke-width="0.7" opacity="0.4"/>
<path d="M695.41,673.7 C695.23,675.03 694.51,679.04 694.35,681.71 C694.18,684.38 694.01,687.05 694.41,689.72 C694.81,692.39 696.55,695.06 696.76,697.73 C696.97,700.4 695.99,703.07 695.68,705.74 C695.38,708.41 695.36,711.08 694.91,713.75 C694.46,716.42 693.38,719.09 692.98,721.75 C692.58,724.42 692.53,727.09 692.51,729.76 C692.49,732.43 692.76,735.1 692.84,737.77 C692.93,740.44 693.04,743.11 693.04,745.78 C693.05,748.45 693.2,751.12 692.87,753.79 C692.55,756.46 691.49,759.13 691.09,761.8 C690.69,764.47 690.6,767.14 690.48,769.81 C690.36,772.48 690.64,775.15 690.36,777.82 C690.08,780.49 689.06,784.49 688.8,785.83" stroke-width="0.73" opacity="0.5"/>
<path d="M692.51,729.76 L700.38,737.78" stroke-width="0.7" opacity="0.4"/>
<path d="M694.35,681.71 L690.87,702.54" stroke-width="0.7" opacity="0.4"/>
<path d="M706.75,673.7 C706.59,675.06 705.66,679.14 705.84,681.87 C706.01,684.59 707.41,687.31 707.8,690.03 C708.18,692.76 708.14,695.48 708.13,698.2 C708.12,700.92 707.41,703.64 707.76,706.37 C708.11,709.09 709.83,711.81 710.24,714.53 C710.65,717.25 710.23,719.98 710.21,722.7 C710.18,725.42 709.94,728.14 710.1,730.87 C710.26,733.59 711.1,736.31 711.18,739.03 C711.26,741.75 710.37,744.48 710.58,747.2 C710.79,749.92 712.41,752.64 712.43,755.36 C712.44,758.09 710.87,760.81 710.65,763.53 C710.44,766.25 710.85,768.98 711.14,771.7 C711.43,774.42 712.36,777.14 712.39,779.86 C712.43,782.59 711.75,785.31 711.36,788.03 C710.97,790.75 710.28,794.84 710.06,796.2" stroke-width="0.98" opacity="0.5"/>
<path d="M708.13,698.2 L707.97,710.21" stroke-width="0.7" opacity="0.4"/>
<path d="M707.76,706.37 L698.24,723.61" stroke-width="0.7" opacity="0.4"/>
</g>
<g filter="url(#bl05)"><line x1="609.46" y1="671.93" x2="603.43" y2="665.3" stroke="#a2dc22" stroke-width="1.8" stroke-linecap="round"/><line x1="609.46" y1="671.93" x2="598.61" y2="687.59" stroke="#a2dc22" stroke-width="1.8" stroke-linecap="round"/><line x1="609.46" y1="671.93" x2="617.29" y2="663.49" stroke="#a2dc22" stroke-width="1.8" stroke-linecap="round"/><line x1="609.46" y1="671.93" x2="623.92" y2="667.71" stroke="#a2dc22" stroke-width="1.8" stroke-linecap="round"/><line x1="609.46" y1="671.93" x2="614.28" y2="680.36" stroke="#a2dc22" stroke-width="1.8" stroke-linecap="round"/><line x1="609.46" y1="671.93" x2="610.66" y2="673.13" stroke="#a2dc22" stroke-width="1.8" stroke-linecap="round"/><line x1="645.6" y1="672.53" x2="634.76" y2="662.29" stroke="#a2dc22" stroke-width="1.8" stroke-linecap="round"/><line x1="645.6" y1="672.53" x2="632.35" y2="671.93" stroke="#a2dc22" stroke-width="1.8" stroke-linecap="round"/><line x1="645.6" y1="672.53" x2="642.59" y2="667.11" stroke="#a2dc22" stroke-width="1.8" stroke-linecap="round"/><line x1="645.6" y1="672.53" x2="647.41" y2="682.77" stroke="#a2dc22" stroke-width="1.8" stroke-linecap="round"/><line x1="645.6" y1="672.53" x2="653.43" y2="661.69" stroke="#a2dc22" stroke-width="1.8" stroke-linecap="round"/><line x1="645.6" y1="672.53" x2="654.04" y2="670.72" stroke="#a2dc22" stroke-width="1.8" stroke-linecap="round"/><line x1="667.29" y1="670.12" x2="662.47" y2="669.52" stroke="#a2dc22" stroke-width="1.8" stroke-linecap="round"/><line x1="667.29" y1="670.12" x2="663.07" y2="677.95" stroke="#a2dc22" stroke-width="1.8" stroke-linecap="round"/><line x1="667.29" y1="670.12" x2="667.89" y2="661.69" stroke="#a2dc22" stroke-width="1.8" stroke-linecap="round"/><line x1="667.29" y1="670.12" x2="672.11" y2="670.12" stroke="#a2dc22" stroke-width="1.8" stroke-linecap="round"/><line x1="686.57" y1="674.94" x2="681.14" y2="671.93" stroke="#a2dc22" stroke-width="1.8" stroke-linecap="round"/><line x1="686.57" y1="674.94" x2="685.36" y2="667.11" stroke="#a2dc22" stroke-width="1.8" stroke-linecap="round"/><line x1="686.57" y1="674.94" x2="688.98" y2="684.58" stroke="#a2dc22" stroke-width="1.8" stroke-linecap="round"/><line x1="686.57" y1="674.94" x2="681.14" y2="680.36" stroke="#a2dc22" stroke-width="1.8" stroke-linecap="round"/><line x1="686.57" y1="674.94" x2="693.8" y2="669.52" stroke="#a2dc22" stroke-width="1.8" stroke-linecap="round"/><line x1="703.43" y1="670.12" x2="699.82" y2="667.11" stroke="#a2dc22" stroke-width="1.8" stroke-linecap="round"/><line x1="703.43" y1="670.12" x2="703.43" y2="676.75" stroke="#a2dc22" stroke-width="1.8" stroke-linecap="round"/><line x1="703.43" y1="670.12" x2="709.46" y2="665.9" stroke="#a2dc22" stroke-width="1.8" stroke-linecap="round"/><line x1="703.43" y1="670.12" x2="710.66" y2="672.53" stroke="#a2dc22" stroke-width="1.8" stroke-linecap="round"/><ellipse cx="603.43" cy="665.3" rx="5.42" ry="4.82" fill="#b2f020"/><ellipse cx="598.61" cy="687.59" rx="2.65" ry="5.42" fill="#a8ea1c"/><ellipse cx="617.29" cy="663.49" rx="3.37" ry="3.01" fill="#baf42c"/><ellipse cx="623.92" cy="667.71" rx="4.82" ry="3.86" fill="#a0e218"/><ellipse cx="614.28" cy="680.36" rx="4.82" ry="3.01" fill="#b2f020"/><ellipse cx="610.66" cy="673.13" rx="4.22" ry="3.01" fill="#a8ea1c"/><ellipse cx="634.76" cy="662.29" rx="4.58" ry="2.17" fill="#baf42c"/><ellipse cx="632.35" cy="671.93" rx="4.22" ry="3.01" fill="#a0e218"/><ellipse cx="642.59" cy="667.11" rx="4.82" ry="3.61" fill="#b2f020"/><ellipse cx="647.41" cy="682.77" rx="8.43" ry="6.27" fill="#a8ea1c"/><ellipse cx="653.43" cy="661.69" rx="5.06" ry="2.41" fill="#baf42c"/><ellipse cx="654.04" cy="670.72" rx="4.58" ry="3.37" fill="#a0e218"/><ellipse cx="662.47" cy="669.52" rx="4.22" ry="3.37" fill="#b2f020"/><ellipse cx="663.07" cy="677.95" rx="5.42" ry="4.22" fill="#a8ea1c"/><ellipse cx="667.89" cy="661.69" rx="4.22" ry="2.65" fill="#baf42c"/><ellipse cx="672.11" cy="670.12" rx="4.22" ry="3.01" fill="#a0e218"/><ellipse cx="681.14" cy="671.93" rx="5.42" ry="4.22" fill="#b2f020"/><ellipse cx="685.36" cy="667.11" rx="4.22" ry="2.65" fill="#a8ea1c"/><ellipse cx="688.98" cy="684.58" rx="5.78" ry="5.42" fill="#baf42c"/><ellipse cx="681.14" cy="680.36" rx="3.01" ry="3.01" fill="#a0e218"/><ellipse cx="693.8" cy="669.52" rx="4.22" ry="3.37" fill="#b2f020"/><ellipse cx="699.82" cy="667.11" rx="4.82" ry="3.61" fill="#a8ea1c"/><ellipse cx="703.43" cy="676.75" rx="4.82" ry="3.01" fill="#baf42c"/><ellipse cx="709.46" cy="665.9" rx="4.22" ry="3.01" fill="#a0e218"/><ellipse cx="710.66" cy="672.53" rx="3.61" ry="3.61" fill="#b2f020"/><circle cx="609.46" cy="671.93" r="1.8" fill="#98d41c"/><circle cx="645.6" cy="672.53" r="1.8" fill="#98d41c"/><circle cx="667.29" cy="670.12" r="1.8" fill="#98d41c"/><circle cx="686.57" cy="674.94" r="1.8" fill="#98d41c"/><circle cx="703.43" cy="670.12" r="1.8" fill="#98d41c"/></g>
<path d="M624.5,722.2 L623.3,729.4 L613.3,728.9 Z" fill="#f01820"/>
<path d="M643.1,717.6 L641.9,724.8 L631.9,724.3 Z" fill="#f01820"/>
<path d="M661.6,722.2 L660.4,729.4 L650.4,728.9 Z" fill="#f01820"/>
<path d="M685.9,722.2 L684.7,729.4 L674.7,728.9 Z" fill="#f01820"/>
<path d="M703.9,711.2 L702.7,718.4 L692.7,717.9 Z" fill="#f01820"/>
<line x1="673.3" y1="803.9" x2="709.2" y2="803.9" stroke="#cdd6f0" stroke-width="2" />
</g>
<clipPath id="cpE1"><rect x="719.8" y="643.9" width="116" height="166.7"/></clipPath>
<g clip-path="url(#cpE1)">
<rect x="719.8" y="643.9" width="116" height="166.7" fill="url(#bluebg1)"/>
<line x1="725" y1="643.9" x2="725" y2="810.6" stroke="#8fb3a6" stroke-width="1.15" opacity="0.9"/>
<line x1="764" y1="643.9" x2="764" y2="810.6" stroke="#8fb3a6" stroke-width="1.15" opacity="0.9"/>
<line x1="803" y1="643.9" x2="803" y2="810.6" stroke="#8fb3a6" stroke-width="1.15" opacity="0.9"/>
<line x1="719.8" y1="671.2" x2="835.8" y2="671.2" stroke="#8bb3a3" stroke-width="1.2" opacity="0.5"/>
<line x1="719.8" y1="705.7" x2="835.8" y2="705.7" stroke="#8bb3a3" stroke-width="1.2" opacity="0.9"/>
<line x1="719.8" y1="741.1" x2="835.8" y2="741.1" stroke="#8bb3a3" stroke-width="1.2" opacity="0.9"/>
<line x1="719.8" y1="775.8" x2="835.8" y2="775.8" stroke="#8bb3a3" stroke-width="1.2" opacity="0.9"/>
<g fill="none" stroke="#a9c9b6" stroke-linecap="round">
<path d="M726.84,673.2 C726.6,674.44 725.53,678.17 725.4,680.66 C725.27,683.14 725.57,685.63 726.07,688.11 C726.56,690.6 727.94,693.08 728.39,695.57 C728.85,698.06 728.82,700.54 728.79,703.03 C728.77,705.51 727.93,708 728.26,710.48 C728.58,712.97 730.71,715.45 730.73,717.94 C730.75,720.43 728.77,724.15 728.38,725.4" stroke-width="0.79" opacity="0.66"/>
<path d="M728.39,695.57 Q729.12,706.71 729.13,717.85" stroke-width="0.9" opacity="0.55"/>
<path d="M728.39,695.57 Q722.95,706.71 721.25,717.85" stroke-width="0.9" opacity="0.55"/>
<path d="M726.07,688.11 Q723.85,694.68 726.92,701.24" stroke-width="0.9" opacity="0.55"/>
<path d="M733.76,673.2 C733.91,674.49 734.6,678.34 734.69,680.91 C734.79,683.48 734.54,686.05 734.32,688.62 C734.09,691.2 733.44,693.77 733.35,696.34 C733.26,698.91 733.76,701.48 733.8,704.05 C733.83,706.62 733.77,709.19 733.55,711.76 C733.34,714.33 732.43,716.9 732.51,719.47 C732.59,722.04 733.79,725.9 734.04,727.19" stroke-width="0.77" opacity="0.66"/>
<path d="M732.51,719.47 Q729.77,729.93 728.92,740.39" stroke-width="0.9" opacity="0.55"/>
<path d="M733.55,711.76 Q729.35,726.58 729.73,741.4" stroke-width="0.9" opacity="0.55"/>
<path d="M733.55,711.76 Q733.14,720.84 727.52,729.92" stroke-width="0.9" opacity="0.55"/>
<path d="M743.78,673.2 C744.18,674.42 746.15,678.09 746.19,680.54 C746.22,682.98 744.31,685.43 743.99,687.87 C743.67,690.32 743.99,692.76 744.29,695.21 C744.59,697.65 745.27,700.1 745.8,702.54 C746.32,704.99 747.31,707.43 747.45,709.88 C747.59,712.32 746.89,714.77 746.62,717.21 C746.35,719.66 745.97,722.1 745.84,724.55 C745.71,726.99 745.83,730.66 745.82,731.88" stroke-width="0.72" opacity="0.66"/>
<path d="M743.99,687.87 Q748.98,698.14 751.99,708.4" stroke-width="0.9" opacity="0.55"/>
<path d="M743.99,687.87 Q746.54,696.66 748.15,705.44" stroke-width="0.9" opacity="0.55"/>
<path d="M745.84,724.55 Q748.05,733.11 751.64,741.67" stroke-width="0.9" opacity="0.55"/>
<path d="M748.82,673.2 C748.41,674.39 746.79,677.95 746.34,680.32 C745.89,682.69 746.46,685.06 746.14,687.44 C745.82,689.81 745.03,692.18 744.41,694.55 C743.79,696.93 743.14,699.3 742.42,701.67 C741.71,704.05 740.28,706.42 740.13,708.79 C739.98,711.16 741.61,713.54 741.52,715.91 C741.43,718.28 740.14,720.65 739.6,723.03 C739.06,725.4 738.6,727.77 738.28,730.15 C737.97,732.52 737.81,736.08 737.72,737.26" stroke-width="0.72" opacity="0.66"/>
<path d="M740.13,708.79 Q737.06,717.29 738.36,725.79" stroke-width="0.9" opacity="0.55"/>
<path d="M740.13,708.79 Q742.9,717.3 746.68,725.8" stroke-width="0.9" opacity="0.55"/>
<path d="M742.42,701.67 Q742.45,711.1 745.71,720.52" stroke-width="0.9" opacity="0.55"/>
<path d="M758.68,673.2 C758.38,674.42 757.03,678.09 756.87,680.53 C756.7,682.97 757.98,685.42 757.69,687.86 C757.41,690.3 755.29,692.75 755.15,695.19 C755.02,697.63 756.86,700.08 756.88,702.52 C756.89,704.96 755.69,707.4 755.22,709.85 C754.76,712.29 754.59,714.73 754.09,717.18 C753.59,719.62 752.55,723.29 752.25,724.51" stroke-width="0.88" opacity="0.66"/>
<path d="M756.88,702.52 Q761.05,714.73 765.03,726.95" stroke-width="0.9" opacity="0.55"/>
<path d="M754.09,717.18 Q755.22,729.84 756.88,742.49" stroke-width="0.9" opacity="0.55"/>
<path d="M754.09,717.18 Q750.74,726.77 752.15,736.36" stroke-width="0.9" opacity="0.55"/>
<path d="M765.61,673.2 C765.23,674.37 764.08,677.89 763.33,680.23 C762.58,682.58 761.71,684.92 761.08,687.27 C760.45,689.61 760.11,691.96 759.57,694.3 C759.02,696.65 758.24,698.99 757.81,701.34 C757.38,703.68 757.51,706.03 756.98,708.37 C756.45,710.72 755.47,713.06 754.65,715.41 C753.83,717.75 752.79,720.1 752.05,722.44 C751.32,724.79 750.89,727.13 750.24,729.48 C749.59,731.82 748.51,735.34 748.17,736.51" stroke-width="0.71" opacity="0.66"/>
<path d="M750.24,729.48 Q748.42,738.87 744.98,748.25" stroke-width="0.9" opacity="0.55"/>
<path d="M757.81,701.34 Q756.42,711.61 759.65,721.87" stroke-width="0.9" opacity="0.55"/>
<path d="M756.98,708.37 Q761.32,718.57 765.85,728.76" stroke-width="0.9" opacity="0.55"/>
<path d="M771.9,673.2 C771.55,674.42 770.31,678.09 769.83,680.54 C769.35,682.98 769.35,685.43 769.01,687.88 C768.67,690.32 767.71,692.77 767.79,695.22 C767.87,697.66 769.51,700.11 769.5,702.55 C769.49,705 768.44,707.45 767.74,709.89 C767.03,712.34 765.28,714.79 765.26,717.23 C765.23,719.68 767.21,723.35 767.6,724.57" stroke-width="0.74" opacity="0.66"/>
<path d="M765.26,717.23 Q767.77,730.06 772.71,742.88" stroke-width="0.9" opacity="0.55"/>
<path d="M769.01,687.88 Q769.98,696.23 772.54,704.58" stroke-width="0.9" opacity="0.55"/>
<path d="M767.79,695.22 Q766.74,703.22 765.19,711.23" stroke-width="0.9" opacity="0.55"/>
<path d="M781.69,673.2 C781.81,674.46 782.18,678.24 782.4,680.76 C782.62,683.27 782.64,685.79 782.99,688.31 C783.34,690.83 784.02,693.35 784.49,695.87 C784.96,698.39 785.87,700.91 785.83,703.42 C785.79,705.94 784.74,708.46 784.25,710.98 C783.76,713.5 783.2,716.02 782.89,718.54 C782.58,721.06 782.2,723.57 782.38,726.09 C782.55,728.61 783.69,732.39 783.95,733.65" stroke-width="0.85" opacity="0.66"/>
<path d="M782.38,726.09 Q776.81,732.34 773.9,738.6" stroke-width="0.9" opacity="0.55"/>
<path d="M785.83,703.42 Q782.14,714.87 780.32,726.32" stroke-width="0.9" opacity="0.55"/>
<path d="M782.38,726.09 Q785.96,740.69 791.16,755.28" stroke-width="0.9" opacity="0.55"/>
<path d="M787.23,673.2 C786.99,674.33 786.31,677.73 785.81,679.99 C785.31,682.25 784.75,684.51 784.23,686.78 C783.71,689.04 782.84,691.3 782.7,693.56 C782.55,695.83 782.89,698.09 783.34,700.35 C783.8,702.61 784.78,704.88 785.42,707.14 C786.06,709.4 786.92,711.66 787.19,713.93 C787.47,716.19 786.97,718.45 787.09,720.71 C787.2,722.98 787.75,726.37 787.88,727.5" stroke-width="0.73" opacity="0.66"/>
<path d="M787.09,720.71 Q784.93,730.21 780.24,739.71" stroke-width="0.9" opacity="0.55"/>
<path d="M782.7,693.56 Q784.23,701.17 782.3,708.78" stroke-width="0.9" opacity="0.55"/>
<path d="M783.34,700.35 Q780.95,714.87 775.9,729.38" stroke-width="0.9" opacity="0.55"/>
<path d="M796.78,673.2 C796.99,674.44 798.19,678.17 798.04,680.65 C797.9,683.13 796.54,685.61 795.89,688.1 C795.23,690.58 793.98,693.06 794.11,695.55 C794.24,698.03 796.66,700.51 796.68,702.99 C796.69,705.48 794.55,707.96 794.22,710.44 C793.89,712.93 794.64,715.41 794.69,717.89 C794.74,720.37 794.41,722.86 794.51,725.34 C794.62,727.82 795.19,731.55 795.32,732.79" stroke-width="0.88" opacity="0.66"/>
<path d="M794.22,710.44 Q795.93,719.6 797.05,728.75" stroke-width="0.9" opacity="0.55"/>
<path d="M794.11,695.55 Q791.16,708.74 785.5,721.93" stroke-width="0.9" opacity="0.55"/>
<path d="M795.89,688.1 Q795.73,702.5 796.36,716.9" stroke-width="0.9" opacity="0.55"/>
<path d="M802.81,673.2 C803.09,674.47 804.47,678.27 804.51,680.81 C804.54,683.35 803.47,685.88 803,688.42 C802.54,690.96 802.11,693.49 801.71,696.03 C801.32,698.57 801.04,701.1 800.64,703.64 C800.23,706.18 799.44,708.71 799.29,711.25 C799.14,713.78 799.87,716.32 799.74,718.86 C799.6,721.39 798.76,723.93 798.48,726.47 C798.21,729 798.45,731.54 798.06,734.08 C797.67,736.61 796.46,740.42 796.14,741.69" stroke-width="0.81" opacity="0.66"/>
<path d="M799.29,711.25 Q800.85,724.58 802.21,737.92" stroke-width="0.9" opacity="0.55"/>
<path d="M798.06,734.08 Q802.01,744.59 805.58,755.11" stroke-width="0.9" opacity="0.55"/>
<path d="M799.74,718.86 Q801.49,732.71 799.93,746.57" stroke-width="0.9" opacity="0.55"/>
<path d="M810.62,673.2 C810.86,674.51 812.12,678.43 812.06,681.04 C811.99,683.66 810.85,686.27 810.23,688.89 C809.62,691.5 808.58,694.12 808.37,696.73 C808.16,699.35 809.22,701.96 808.99,704.58 C808.76,707.19 807.72,709.81 807.02,712.42 C806.31,715.04 804.96,717.65 804.74,720.27 C804.51,722.88 805.5,725.5 805.68,728.11 C805.87,730.72 805.82,734.65 805.84,735.95" stroke-width="0.93" opacity="0.66"/>
<path d="M804.74,720.27 Q798,727.99 796.76,735.71" stroke-width="0.9" opacity="0.55"/>
<path d="M810.23,688.89 Q811.86,699.94 810.37,711" stroke-width="0.9" opacity="0.55"/>
<path d="M810.23,688.89 Q809.76,700.4 809.21,711.91" stroke-width="0.9" opacity="0.55"/>
<path d="M819.88,673.2 C820.05,674.46 820.76,678.25 820.88,680.78 C821.01,683.31 820.65,685.84 820.63,688.36 C820.62,690.89 820.8,693.42 820.81,695.95 C820.82,698.47 820.33,701 820.69,703.53 C821.06,706.05 822.43,708.58 822.99,711.11 C823.54,713.64 823.53,716.16 824.02,718.69 C824.52,721.22 825.27,723.75 825.98,726.27 C826.69,728.8 827.9,732.59 828.28,733.85" stroke-width="0.87" opacity="0.66"/>
<path d="M820.81,695.95 Q821.6,703.18 826.93,710.41" stroke-width="0.9" opacity="0.55"/>
<path d="M822.99,711.11 Q820.9,723.15 819.68,735.19" stroke-width="0.9" opacity="0.55"/>
<path d="M820.81,695.95 Q824.71,709 823.86,722.06" stroke-width="0.9" opacity="0.55"/>
<path d="M829.46,673.2 C829.64,674.46 830.25,678.23 830.58,680.75 C830.91,683.27 831.58,685.79 831.41,688.3 C831.24,690.82 829.53,693.34 829.56,695.86 C829.58,698.37 830.81,700.89 831.55,703.41 C832.28,705.93 833.82,708.44 833.98,710.96 C834.14,713.48 832.37,715.99 832.52,718.51 C832.67,721.03 834.48,724.81 834.87,726.06" stroke-width="0.85" opacity="0.66"/>
<path d="M829.56,695.86 Q826.6,705.74 823.46,715.62" stroke-width="0.9" opacity="0.55"/>
<path d="M831.55,703.41 Q828.39,712.62 830.13,721.83" stroke-width="0.9" opacity="0.55"/>
<path d="M831.55,703.41 Q826.87,714.39 822.9,725.38" stroke-width="0.9" opacity="0.55"/>
</g>
<g filter="url(#bl05)"><line x1="740.9" y1="665.9" x2="725.24" y2="656.27" stroke="#a2dc22" stroke-width="1.8" stroke-linecap="round"/><line x1="740.9" y1="665.9" x2="722.23" y2="666.51" stroke="#a2dc22" stroke-width="1.8" stroke-linecap="round"/><line x1="740.9" y1="665.9" x2="728.25" y2="668.92" stroke="#a2dc22" stroke-width="1.8" stroke-linecap="round"/><line x1="740.9" y1="665.9" x2="739.7" y2="655.66" stroke="#a2dc22" stroke-width="1.8" stroke-linecap="round"/><line x1="740.9" y1="665.9" x2="736.69" y2="664.7" stroke="#a2dc22" stroke-width="1.8" stroke-linecap="round"/><line x1="740.9" y1="665.9" x2="745.12" y2="662.89" stroke="#a2dc22" stroke-width="1.8" stroke-linecap="round"/><line x1="756.57" y1="662.89" x2="751.14" y2="658.07" stroke="#a2dc22" stroke-width="1.8" stroke-linecap="round"/><line x1="756.57" y1="662.89" x2="754.16" y2="670.72" stroke="#a2dc22" stroke-width="1.8" stroke-linecap="round"/><line x1="756.57" y1="662.89" x2="753.55" y2="678.55" stroke="#a2dc22" stroke-width="1.8" stroke-linecap="round"/><line x1="756.57" y1="662.89" x2="762.59" y2="653.86" stroke="#a2dc22" stroke-width="1.8" stroke-linecap="round"/><line x1="756.57" y1="662.89" x2="758.37" y2="662.29" stroke="#a2dc22" stroke-width="1.8" stroke-linecap="round"/><line x1="775.24" y1="661.69" x2="769.22" y2="665.3" stroke="#a2dc22" stroke-width="1.8" stroke-linecap="round"/><line x1="775.24" y1="661.69" x2="773.43" y2="671.33" stroke="#a2dc22" stroke-width="1.8" stroke-linecap="round"/><line x1="775.24" y1="661.69" x2="777.65" y2="655.06" stroke="#a2dc22" stroke-width="1.8" stroke-linecap="round"/><line x1="775.24" y1="661.69" x2="780.06" y2="664.7" stroke="#a2dc22" stroke-width="1.8" stroke-linecap="round"/><line x1="796.93" y1="666.51" x2="787.29" y2="668.31" stroke="#a2dc22" stroke-width="1.8" stroke-linecap="round"/><line x1="796.93" y1="666.51" x2="789.7" y2="664.1" stroke="#a2dc22" stroke-width="1.8" stroke-linecap="round"/><line x1="796.93" y1="666.51" x2="796.33" y2="655.06" stroke="#a2dc22" stroke-width="1.8" stroke-linecap="round"/><line x1="796.93" y1="666.51" x2="799.34" y2="667.11" stroke="#a2dc22" stroke-width="1.8" stroke-linecap="round"/><line x1="796.93" y1="666.51" x2="800.54" y2="677.35" stroke="#a2dc22" stroke-width="1.8" stroke-linecap="round"/><line x1="796.93" y1="666.51" x2="807.17" y2="655.06" stroke="#a2dc22" stroke-width="1.8" stroke-linecap="round"/><line x1="819.82" y1="665.9" x2="810.78" y2="674.94" stroke="#a2dc22" stroke-width="1.8" stroke-linecap="round"/><line x1="819.82" y1="665.9" x2="817.41" y2="665.9" stroke="#a2dc22" stroke-width="1.8" stroke-linecap="round"/><line x1="819.82" y1="665.9" x2="822.83" y2="655.06" stroke="#a2dc22" stroke-width="1.8" stroke-linecap="round"/><line x1="819.82" y1="665.9" x2="825.24" y2="672.53" stroke="#a2dc22" stroke-width="1.8" stroke-linecap="round"/><line x1="819.82" y1="665.9" x2="830.06" y2="662.29" stroke="#a2dc22" stroke-width="1.8" stroke-linecap="round"/><ellipse cx="725.24" cy="656.27" rx="4.82" ry="2.65" fill="#b2f020"/><ellipse cx="722.23" cy="666.51" rx="3.01" ry="2.17" fill="#a8ea1c"/><ellipse cx="728.25" cy="668.92" rx="4.58" ry="3.86" fill="#baf42c"/><ellipse cx="739.7" cy="655.66" rx="3.86" ry="2.17" fill="#a0e218"/><ellipse cx="736.69" cy="664.7" rx="3.37" ry="2.65" fill="#b2f020"/><ellipse cx="745.12" cy="662.89" rx="3.01" ry="2.65" fill="#a8ea1c"/><ellipse cx="751.14" cy="658.07" rx="3.37" ry="3.01" fill="#baf42c"/><ellipse cx="754.16" cy="670.72" rx="4.22" ry="3.01" fill="#a0e218"/><ellipse cx="753.55" cy="678.55" rx="3.86" ry="5.06" fill="#b2f020"/><ellipse cx="762.59" cy="653.86" rx="5.42" ry="3.61" fill="#a8ea1c"/><ellipse cx="758.37" cy="662.29" rx="3.61" ry="2.41" fill="#baf42c"/><ellipse cx="769.22" cy="665.3" rx="3.61" ry="3.01" fill="#a0e218"/><ellipse cx="773.43" cy="671.33" rx="5.06" ry="4.58" fill="#b2f020"/><ellipse cx="777.65" cy="655.06" rx="4.22" ry="2.41" fill="#a8ea1c"/><ellipse cx="780.06" cy="664.7" rx="3.86" ry="3.61" fill="#baf42c"/><ellipse cx="787.29" cy="668.31" rx="3.37" ry="3.61" fill="#a0e218"/><ellipse cx="789.7" cy="664.1" rx="3.01" ry="2.17" fill="#b2f020"/><ellipse cx="796.33" cy="655.06" rx="4.58" ry="2.65" fill="#a8ea1c"/><ellipse cx="799.34" cy="667.11" rx="5.42" ry="3.61" fill="#baf42c"/><ellipse cx="800.54" cy="677.35" rx="4.58" ry="4.82" fill="#a0e218"/><ellipse cx="807.17" cy="655.06" rx="5.06" ry="4.58" fill="#b2f020"/><ellipse cx="810.78" cy="674.94" rx="3.37" ry="4.22" fill="#a8ea1c"/><ellipse cx="817.41" cy="665.9" rx="4.82" ry="3.37" fill="#baf42c"/><ellipse cx="822.83" cy="655.06" rx="4.58" ry="2.41" fill="#a0e218"/><ellipse cx="825.24" cy="672.53" rx="3.37" ry="3.37" fill="#b2f020"/><ellipse cx="830.06" cy="662.29" rx="4.58" ry="3.37" fill="#a8ea1c"/><circle cx="740.9" cy="665.9" r="1.8" fill="#98d41c"/><circle cx="756.57" cy="662.89" r="1.8" fill="#98d41c"/><circle cx="775.24" cy="661.69" r="1.8" fill="#98d41c"/><circle cx="796.93" cy="666.51" r="1.8" fill="#98d41c"/><circle cx="819.82" cy="665.9" r="1.8" fill="#98d41c"/></g>
<path d="M751.2,701.4 L750,708.6 L740,708.1 Z" fill="#f01820"/>
<path d="M772.6,708.8 L771.4,716 L761.4,715.5 Z" fill="#f01820"/>
<path d="M791.2,707.7 L790,714.9 L780,714.4 Z" fill="#f01820"/>
<path d="M812,707.7 L810.8,714.9 L800.8,714.4 Z" fill="#f01820"/>
<path d="M832.2,715.2 L831,722.4 L821,721.9 Z" fill="#f01820"/>
<line x1="797.2" y1="803.9" x2="832.6" y2="803.9" stroke="#cdd6f0" stroke-width="2" />
</g>
<clipPath id="cpE2"><rect x="842" y="643.9" width="115.5" height="166.7"/></clipPath>
<g clip-path="url(#cpE2)">
<rect x="842" y="643.9" width="115.5" height="166.7" fill="url(#bluebg2)"/>
<line x1="857.3" y1="643.9" x2="857.3" y2="810.6" stroke="#8fb3a6" stroke-width="1.15" opacity="0.9"/>
<line x1="895.5" y1="643.9" x2="895.5" y2="810.6" stroke="#8fb3a6" stroke-width="1.15" opacity="0.9"/>
<line x1="933.7" y1="643.9" x2="933.7" y2="810.6" stroke="#8fb3a6" stroke-width="1.15" opacity="0.9"/>
<line x1="842" y1="668.2" x2="957.5" y2="668.2" stroke="#8bb3a3" stroke-width="1.2" opacity="0.5"/>
<line x1="842" y1="704" x2="957.5" y2="704" stroke="#8bb3a3" stroke-width="1.2" opacity="0.9"/>
<line x1="842" y1="739.3" x2="957.5" y2="739.3" stroke="#8bb3a3" stroke-width="1.2" opacity="0.9"/>
<line x1="842" y1="775.4" x2="957.5" y2="775.4" stroke="#8bb3a3" stroke-width="1.2" opacity="0.9"/>
<g fill="none" stroke="#a9c9b6" stroke-linecap="round">
<path d="M850.67,670.2 C850.85,671.51 851.59,675.45 851.73,678.08 C851.86,680.7 851.32,683.33 851.48,685.95 C851.63,688.58 852.75,691.2 852.65,693.83 C852.55,696.45 851.39,699.08 850.87,701.7 C850.34,704.33 850.07,706.95 849.5,709.58 C848.94,712.2 847.81,714.83 847.48,717.45 C847.15,720.08 847.14,722.7 847.51,725.33 C847.89,727.96 849.27,730.58 849.72,733.21 C850.16,735.83 849.87,738.46 850.19,741.08 C850.5,743.71 851.48,746.33 851.61,748.96 C851.75,751.58 850.9,754.21 851.01,756.83 C851.12,759.46 852.42,762.08 852.29,764.71 C852.16,767.33 850.74,769.96 850.22,772.58 C849.69,775.21 849.16,777.83 849.13,780.46 C849.1,783.08 849.89,787.02 850.04,788.34" stroke-width="0.83" opacity="0.5"/>
<path d="M851.73,678.08 L857.18,698.83" stroke-width="0.7" opacity="0.4"/>
<path d="M850.87,701.7 L846.49,721.04" stroke-width="0.7" opacity="0.4"/>
<path d="M859.92,670.2 C860.25,671.51 861.26,675.44 861.93,678.07 C862.59,680.69 863.96,683.31 863.9,685.93 C863.84,688.56 862.07,691.18 861.58,693.8 C861.09,696.42 861.07,699.05 860.95,701.67 C860.84,704.29 861.33,706.91 860.91,709.53 C860.49,712.16 858.91,714.78 858.43,717.4 C857.95,720.02 857.75,722.65 858.04,725.27 C858.33,727.89 860.14,730.51 860.15,733.14 C860.17,735.76 858.39,738.38 858.14,741 C857.88,743.62 858.88,746.25 858.64,748.87 C858.4,751.49 856.93,754.11 856.67,756.74 C856.41,759.36 856.67,761.98 857.08,764.6 C857.49,767.23 859.05,769.85 859.14,772.47 C859.22,775.09 857.85,779.03 857.59,780.34" stroke-width="0.73" opacity="0.5"/>
<path d="M860.91,709.53 L869.26,724.55" stroke-width="0.7" opacity="0.4"/>
<path d="M860.91,709.53 L860.84,730.43" stroke-width="0.7" opacity="0.4"/>
<path d="M868.31,670.2 C868.22,671.53 867.75,675.53 867.78,678.2 C867.81,680.86 868.74,683.53 868.5,686.2 C868.27,688.86 866.67,691.53 866.39,694.19 C866.11,696.86 867.02,699.52 866.8,702.19 C866.59,704.86 865.29,707.52 865.1,710.19 C864.91,712.85 865.18,715.52 865.67,718.19 C866.16,720.85 868.04,723.52 868.05,726.18 C868.06,728.85 866.07,731.52 865.73,734.18 C865.39,736.85 865.88,739.51 866.02,742.18 C866.16,744.85 866.78,747.51 866.57,750.18 C866.36,752.84 865.25,755.51 864.75,758.17 C864.24,760.84 863.32,763.51 863.54,766.17 C863.77,768.84 865.26,771.5 866.12,774.17 C866.98,776.84 868.6,779.5 868.71,782.17 C868.81,784.83 867.07,788.83 866.74,790.17" stroke-width="0.99" opacity="0.5"/>
<path d="M868.5,686.2 L861.74,701.26" stroke-width="0.7" opacity="0.4"/>
<path d="M865.67,718.19 L862.99,735.62" stroke-width="0.7" opacity="0.4"/>
<path d="M882.35,670.2 C882.59,671.53 883.9,675.51 883.78,678.17 C883.66,680.83 882.12,683.49 881.63,686.14 C881.14,688.8 880.66,691.46 880.84,694.11 C881.02,696.77 882.34,699.43 882.73,702.09 C883.12,704.74 883.14,707.4 883.17,710.06 C883.2,712.72 883.04,715.37 882.92,718.03 C882.79,720.69 882.07,723.34 882.41,726 C882.74,728.66 884.45,731.32 884.93,733.97 C885.42,736.63 885.67,739.29 885.32,741.94 C884.97,744.6 882.98,747.26 882.82,749.92 C882.66,752.57 884.26,755.23 884.37,757.89 C884.48,760.55 883.69,763.2 883.48,765.86 C883.28,768.52 883.44,771.17 883.14,773.83 C882.83,776.49 881.94,779.15 881.65,781.8 C881.35,784.46 881.56,787.12 881.36,789.77 C881.16,792.43 880.6,796.42 880.44,797.75" stroke-width="0.89" opacity="0.5"/>
<path d="M881.63,686.14 L881.98,694.92" stroke-width="0.7" opacity="0.4"/>
<path d="M882.41,726 L888.02,745.31" stroke-width="0.7" opacity="0.4"/>
<path d="M887.08,670.2 C887.26,671.57 888.21,675.68 888.17,678.43 C888.14,681.17 886.88,683.91 886.86,686.65 C886.85,689.4 887.96,692.14 888.1,694.88 C888.24,697.62 888.01,700.37 887.71,703.11 C887.41,705.85 886.14,708.59 886.31,711.34 C886.48,714.08 888.41,716.82 888.72,719.56 C889.04,722.3 888.4,725.05 888.21,727.79 C888.01,730.53 887.35,733.27 887.55,736.02 C887.75,738.76 889.22,741.5 889.42,744.24 C889.62,746.99 888.71,749.73 888.74,752.47 C888.77,755.21 889.75,757.96 889.61,760.7 C889.47,763.44 887.89,766.18 887.9,768.92 C887.91,771.67 889.6,774.41 889.68,777.15 C889.77,779.89 889.03,782.64 888.43,785.38 C887.83,788.12 886.48,792.23 886.09,793.61" stroke-width="0.75" opacity="0.5"/>
<path d="M886.86,686.65 L896.59,703.15" stroke-width="0.7" opacity="0.4"/>
<path d="M888.17,678.43 L879.15,692.73" stroke-width="0.7" opacity="0.4"/>
<path d="M899.77,670.2 C899.59,671.54 899.3,675.54 898.7,678.22 C898.1,680.89 896.33,683.56 896.17,686.23 C896.01,688.91 897.65,691.58 897.73,694.25 C897.8,696.92 896.81,699.6 896.61,702.27 C896.41,704.94 896.72,707.61 896.51,710.29 C896.3,712.96 895.15,715.63 895.35,718.3 C895.56,720.98 897.14,723.65 897.75,726.32 C898.37,728.99 899,731.67 899.04,734.34 C899.08,737.01 898.49,739.68 897.98,742.35 C897.47,745.03 896.39,747.7 895.99,750.37 C895.59,753.04 895.96,755.72 895.58,758.39 C895.2,761.06 893.98,763.73 893.72,766.41 C893.46,769.08 893.73,771.75 894.04,774.42 C894.35,777.1 895.24,779.77 895.57,782.44 C895.91,785.11 895.69,787.79 896.03,790.46 C896.37,793.13 897.2,795.8 897.61,798.47 C898.01,801.15 898.31,805.16 898.46,806.49" stroke-width="0.88" opacity="0.5"/>
<path d="M899.04,734.34 L896.02,755.26" stroke-width="0.7" opacity="0.4"/>
<path d="M896.51,710.29 L897.09,720.71" stroke-width="0.7" opacity="0.4"/>
<path d="M911.86,670.2 C911.5,671.55 909.81,675.59 909.7,678.28 C909.58,680.98 911.15,683.67 911.15,686.36 C911.16,689.06 910.37,691.75 909.71,694.44 C909.05,697.14 907.88,699.83 907.18,702.53 C906.47,705.22 905.81,707.91 905.49,710.61 C905.17,713.3 905.25,715.99 905.27,718.69 C905.28,721.38 905.62,724.08 905.57,726.77 C905.53,729.46 905.37,732.16 904.99,734.85 C904.61,737.55 903.59,740.24 903.29,742.93 C902.99,745.63 902.83,748.32 903.2,751.01 C903.57,753.71 905.1,756.4 905.52,759.1 C905.94,761.79 905.29,764.48 905.71,767.18 C906.12,769.87 908.03,772.56 908,775.26 C907.97,777.95 905.53,780.65 905.55,783.34 C905.57,786.03 907.35,788.73 908.11,791.42 C908.88,794.11 909.8,798.16 910.14,799.5" stroke-width="0.86" opacity="0.5"/>
<path d="M911.15,686.36 L918.7,702.4" stroke-width="0.7" opacity="0.4"/>
<path d="M905.49,710.61 L896.78,721.75" stroke-width="0.7" opacity="0.4"/>
<path d="M916.84,670.2 C916.49,671.58 915.11,675.71 914.76,678.46 C914.4,681.21 915.1,683.97 914.71,686.72 C914.32,689.47 912.47,692.23 912.43,694.98 C912.38,697.73 913.91,700.48 914.45,703.24 C914.98,705.99 915.28,708.74 915.63,711.5 C915.98,714.25 916.81,717 916.56,719.76 C916.31,722.51 914.74,725.26 914.11,728.02 C913.48,730.77 913.04,733.52 912.78,736.28 C912.52,739.03 912.71,741.78 912.57,744.54 C912.42,747.29 911.61,750.04 911.9,752.8 C912.18,755.55 913.84,758.3 914.3,761.05 C914.77,763.81 914.62,766.56 914.68,769.31 C914.74,772.07 914.66,776.2 914.66,777.57" stroke-width="0.89" opacity="0.5"/>
<path d="M914.76,678.46 L917.02,695.95" stroke-width="0.7" opacity="0.4"/>
<path d="M914.45,703.24 L916.22,712.37" stroke-width="0.7" opacity="0.4"/>
<path d="M929.39,670.2 C929.61,671.52 930.84,675.47 930.7,678.11 C930.56,680.74 929.31,683.38 928.54,686.01 C927.77,688.65 926.39,691.28 926.09,693.92 C925.79,696.55 926.59,699.19 926.74,701.82 C926.89,704.46 926.97,707.09 926.99,709.73 C927.01,712.36 926.7,715 926.85,717.63 C927.01,720.27 928.1,722.9 927.91,725.54 C927.72,728.17 926.43,730.81 925.7,733.44 C924.98,736.08 924.06,738.71 923.54,741.35 C923.03,743.98 922.8,746.62 922.62,749.25 C922.43,751.89 922.5,754.52 922.43,757.16 C922.35,759.79 922.51,762.43 922.16,765.06 C921.82,767.7 920.64,771.65 920.34,772.97" stroke-width="0.84" opacity="0.5"/>
<path d="M928.54,686.01 L920.66,698.89" stroke-width="0.7" opacity="0.4"/>
<path d="M928.54,686.01 L927.57,695.82" stroke-width="0.7" opacity="0.4"/>
<path d="M939.52,670.2 C939.19,671.54 938.22,675.55 937.49,678.22 C936.76,680.9 935.92,683.57 935.16,686.24 C934.41,688.92 933.2,691.59 932.95,694.27 C932.71,696.94 933.94,699.62 933.71,702.29 C933.47,704.96 932.24,707.64 931.54,710.31 C930.83,712.99 930.23,715.66 929.48,718.33 C928.72,721.01 927.3,723.68 927,726.36 C926.7,729.03 927.81,731.71 927.66,734.38 C927.51,737.05 926.04,739.73 926.1,742.4 C926.17,745.08 928.09,747.75 928.05,750.42 C928.01,753.1 926.66,755.77 925.87,758.45 C925.08,761.12 923.5,763.8 923.3,766.47 C923.1,769.14 924.28,771.82 924.67,774.49 C925.05,777.17 925.88,779.84 925.62,782.51 C925.36,785.19 923.73,787.86 923.1,790.54 C922.46,793.21 921.93,795.89 921.81,798.56 C921.7,801.23 921.9,803.91 922.39,806.58 C922.89,809.26 924.39,813.27 924.79,814.6" stroke-width="0.83" opacity="0.5"/>
<path d="M931.54,710.31 L931.05,722.72" stroke-width="0.7" opacity="0.4"/>
<path d="M933.71,702.29 L936.49,719.83" stroke-width="0.7" opacity="0.4"/>
<path d="M945.92,670.2 C945.52,671.57 944.2,675.69 943.52,678.44 C942.85,681.19 942.29,683.94 941.89,686.68 C941.5,689.43 940.84,692.18 941.13,694.92 C941.42,697.67 943.3,700.42 943.64,703.17 C943.97,705.91 943.64,708.66 943.13,711.41 C942.62,714.16 940.58,716.9 940.57,719.65 C940.56,722.4 942.81,725.14 943.05,727.89 C943.3,730.64 941.89,733.39 942.03,736.13 C942.17,738.88 943.99,741.63 943.9,744.37 C943.8,747.12 941.91,749.87 941.45,752.62 C940.99,755.36 941.26,758.11 941.13,760.86 C941.01,763.6 940.93,766.35 940.7,769.1 C940.47,771.85 939.93,775.97 939.77,777.34" stroke-width="0.96" opacity="0.5"/>
<path d="M943.64,703.17 L942.24,712.27" stroke-width="0.7" opacity="0.4"/>
<path d="M941.13,694.92 L940.37,711.47" stroke-width="0.7" opacity="0.4"/>
</g>
<g filter="url(#bl05)"><line x1="849.65" y1="668.92" x2="847.84" y2="658.07" stroke="#a2dc22" stroke-width="1.8" stroke-linecap="round"/><line x1="849.65" y1="668.92" x2="845.43" y2="667.71" stroke="#a2dc22" stroke-width="1.8" stroke-linecap="round"/><line x1="849.65" y1="668.92" x2="855.07" y2="667.11" stroke="#a2dc22" stroke-width="1.8" stroke-linecap="round"/><line x1="849.65" y1="668.92" x2="850.86" y2="682.17" stroke="#a2dc22" stroke-width="1.8" stroke-linecap="round"/><line x1="865.92" y1="673.13" x2="870.13" y2="659.88" stroke="#a2dc22" stroke-width="1.8" stroke-linecap="round"/><line x1="865.92" y1="673.13" x2="864.11" y2="671.93" stroke="#a2dc22" stroke-width="1.8" stroke-linecap="round"/><line x1="865.92" y1="673.13" x2="873.75" y2="675.54" stroke="#a2dc22" stroke-width="1.8" stroke-linecap="round"/><line x1="865.92" y1="673.13" x2="876.16" y2="682.17" stroke="#a2dc22" stroke-width="1.8" stroke-linecap="round"/><line x1="865.92" y1="673.13" x2="862.9" y2="679.76" stroke="#a2dc22" stroke-width="1.8" stroke-linecap="round"/><line x1="890.01" y1="667.71" x2="883.39" y2="653.86" stroke="#a2dc22" stroke-width="1.8" stroke-linecap="round"/><line x1="890.01" y1="667.71" x2="880.37" y2="668.92" stroke="#a2dc22" stroke-width="1.8" stroke-linecap="round"/><line x1="890.01" y1="667.71" x2="891.22" y2="659.28" stroke="#a2dc22" stroke-width="1.8" stroke-linecap="round"/><line x1="890.01" y1="667.71" x2="891.82" y2="670.12" stroke="#a2dc22" stroke-width="1.8" stroke-linecap="round"/><line x1="906.28" y1="663.49" x2="902.06" y2="655.06" stroke="#a2dc22" stroke-width="1.8" stroke-linecap="round"/><line x1="906.28" y1="663.49" x2="912.9" y2="658.07" stroke="#a2dc22" stroke-width="1.8" stroke-linecap="round"/><line x1="906.28" y1="663.49" x2="908.08" y2="665.3" stroke="#a2dc22" stroke-width="1.8" stroke-linecap="round"/><line x1="906.28" y1="663.49" x2="907.48" y2="674.34" stroke="#a2dc22" stroke-width="1.8" stroke-linecap="round"/><line x1="906.28" y1="663.49" x2="916.52" y2="668.31" stroke="#a2dc22" stroke-width="1.8" stroke-linecap="round"/><line x1="928.57" y1="670.72" x2="921.34" y2="672.53" stroke="#a2dc22" stroke-width="1.8" stroke-linecap="round"/><line x1="928.57" y1="670.72" x2="929.77" y2="658.07" stroke="#a2dc22" stroke-width="1.8" stroke-linecap="round"/><line x1="928.57" y1="670.72" x2="931.58" y2="668.92" stroke="#a2dc22" stroke-width="1.8" stroke-linecap="round"/><line x1="928.57" y1="670.72" x2="930.37" y2="682.17" stroke="#a2dc22" stroke-width="1.8" stroke-linecap="round"/><line x1="947.24" y1="667.71" x2="939.41" y2="660.48" stroke="#a2dc22" stroke-width="1.8" stroke-linecap="round"/><line x1="947.24" y1="667.71" x2="949.05" y2="658.07" stroke="#a2dc22" stroke-width="1.8" stroke-linecap="round"/><line x1="947.24" y1="667.71" x2="943.02" y2="674.34" stroke="#a2dc22" stroke-width="1.8" stroke-linecap="round"/><line x1="947.24" y1="667.71" x2="953.27" y2="667.71" stroke="#a2dc22" stroke-width="1.8" stroke-linecap="round"/><line x1="947.24" y1="667.71" x2="955.67" y2="675.54" stroke="#a2dc22" stroke-width="1.8" stroke-linecap="round"/><ellipse cx="847.84" cy="658.07" rx="3.61" ry="2.17" fill="#b2f020"/><ellipse cx="845.43" cy="667.71" rx="3.37" ry="3.01" fill="#a8ea1c"/><ellipse cx="855.07" cy="667.11" rx="3.37" ry="2.65" fill="#baf42c"/><ellipse cx="850.86" cy="682.17" rx="3.86" ry="3.37" fill="#a0e218"/><ellipse cx="870.13" cy="659.88" rx="4.58" ry="3.01" fill="#b2f020"/><ellipse cx="864.11" cy="671.93" rx="4.82" ry="3.86" fill="#a8ea1c"/><ellipse cx="873.75" cy="675.54" rx="3.37" ry="3.01" fill="#baf42c"/><ellipse cx="876.16" cy="682.17" rx="5.06" ry="2.65" fill="#a0e218"/><ellipse cx="862.9" cy="679.76" rx="2.65" ry="2.41" fill="#b2f020"/><ellipse cx="883.39" cy="653.86" rx="4.58" ry="3.01" fill="#a8ea1c"/><ellipse cx="880.37" cy="668.92" rx="3.01" ry="3.61" fill="#baf42c"/><ellipse cx="891.22" cy="659.28" rx="3.37" ry="2.41" fill="#a0e218"/><ellipse cx="891.82" cy="670.12" rx="4.22" ry="3.61" fill="#b2f020"/><ellipse cx="902.06" cy="655.06" rx="3.61" ry="2.17" fill="#a8ea1c"/><ellipse cx="912.9" cy="658.07" rx="2.65" ry="3.61" fill="#baf42c"/><ellipse cx="908.08" cy="665.3" rx="3.61" ry="2.65" fill="#a0e218"/><ellipse cx="907.48" cy="674.34" rx="4.22" ry="5.42" fill="#b2f020"/><ellipse cx="916.52" cy="668.31" rx="3.01" ry="2.41" fill="#a8ea1c"/><ellipse cx="921.34" cy="672.53" rx="4.58" ry="3.37" fill="#baf42c"/><ellipse cx="929.77" cy="658.07" rx="3.86" ry="2.17" fill="#a0e218"/><ellipse cx="931.58" cy="668.92" rx="4.82" ry="4.22" fill="#b2f020"/><ellipse cx="930.37" cy="682.17" rx="4.22" ry="3.37" fill="#a8ea1c"/><ellipse cx="939.41" cy="660.48" rx="3.37" ry="3.01" fill="#baf42c"/><ellipse cx="949.05" cy="658.07" rx="3.61" ry="2.41" fill="#a0e218"/><ellipse cx="943.02" cy="674.34" rx="3.37" ry="3.61" fill="#b2f020"/><ellipse cx="953.27" cy="667.71" rx="3.61" ry="2.65" fill="#a8ea1c"/><ellipse cx="955.67" cy="675.54" rx="2.65" ry="2.17" fill="#baf42c"/><circle cx="849.65" cy="668.92" r="1.8" fill="#98d41c"/><circle cx="865.92" cy="673.13" r="1.8" fill="#98d41c"/><circle cx="890.01" cy="667.71" r="1.8" fill="#98d41c"/><circle cx="906.28" cy="663.49" r="1.8" fill="#98d41c"/><circle cx="928.57" cy="670.72" r="1.8" fill="#98d41c"/><circle cx="947.24" cy="667.71" r="1.8" fill="#98d41c"/></g>
<path d="M858.7,715.3 L857.5,722.5 L847.5,722 Z" fill="#f01820"/>
<path d="M877.7,715.3 L876.5,722.5 L866.5,722 Z" fill="#f01820"/>
<path d="M900.9,716.5 L899.7,723.7 L889.7,723.2 Z" fill="#f01820"/>
<path d="M918.9,717.6 L917.7,724.8 L907.7,724.3 Z" fill="#f01820"/>
<path d="M932.4,706.1 L931.2,713.3 L921.2,712.8 Z" fill="#f01820"/>
<path d="M949,721.6 L947.8,728.8 L937.8,728.3 Z" fill="#f01820"/>
<line x1="919.1" y1="803.9" x2="954.5" y2="803.9" stroke="#cdd6f0" stroke-width="2" />
</g>
<clipPath id="cpE3"><rect x="964" y="643.9" width="116" height="166.7"/></clipPath>
<g clip-path="url(#cpE3)">
<rect x="964" y="643.9" width="116" height="166.7" fill="url(#bluebg3)"/>
<line x1="999" y1="643.9" x2="999" y2="810.6" stroke="#8fb3a6" stroke-width="1.15" opacity="0.9"/>
<line x1="1034.9" y1="643.9" x2="1034.9" y2="810.6" stroke="#8fb3a6" stroke-width="1.15" opacity="0.9"/>
<line x1="1070.7" y1="643.9" x2="1070.7" y2="810.6" stroke="#8fb3a6" stroke-width="1.15" opacity="0.9"/>
<line x1="964" y1="667" x2="1080" y2="667" stroke="#8bb3a3" stroke-width="1.2" opacity="0.5"/>
<line x1="964" y1="703.6" x2="1080" y2="703.6" stroke="#8bb3a3" stroke-width="1.2" opacity="0.9"/>
<line x1="964" y1="738.8" x2="1080" y2="738.8" stroke="#8bb3a3" stroke-width="1.2" opacity="0.9"/>
<line x1="964" y1="774.7" x2="1080" y2="774.7" stroke="#8bb3a3" stroke-width="1.2" opacity="0.9"/>
<g fill="none" stroke="#a9c9b6" stroke-linecap="round">
<path d="M970.74,669 C970.84,670.22 971.63,673.87 971.31,676.3 C970.98,678.73 969.4,681.17 968.78,683.6 C968.17,686.03 968.12,688.46 967.61,690.9 C967.11,693.33 965.76,695.76 965.78,698.2 C965.79,700.63 967.12,703.06 967.71,705.5 C968.3,707.93 968.79,710.36 969.32,712.79 C969.85,715.23 970.36,717.66 970.91,720.09 C971.46,722.53 972.11,724.96 972.61,727.39 C973.1,729.83 973.67,733.47 973.88,734.69" stroke-width="0.94" opacity="0.66"/>
<path d="M965.78,698.2 Q966.87,706.3 963.18,714.41" stroke-width="0.9" opacity="0.55"/>
<path d="M969.32,712.79 Q969.08,722.66 970.47,732.53" stroke-width="0.9" opacity="0.55"/>
<path d="M967.71,705.5 Q968.03,717.39 970.2,729.29" stroke-width="0.9" opacity="0.55"/>
<path d="M980.43,669 C980.54,670.26 981.21,674.05 981.12,676.57 C981.04,679.09 980.14,681.62 979.89,684.14 C979.64,686.66 979.57,689.19 979.62,691.71 C979.67,694.23 979.68,696.76 980.2,699.28 C980.72,701.8 982.36,704.33 982.73,706.85 C983.11,709.37 982.28,711.9 982.42,714.42 C982.57,716.94 983.39,719.47 983.62,721.99 C983.84,724.51 983.77,728.3 983.8,729.56" stroke-width="0.75" opacity="0.66"/>
<path d="M980.2,699.28 Q978.61,709.41 975.76,719.55" stroke-width="0.9" opacity="0.55"/>
<path d="M982.73,706.85 Q986.54,718.04 989.74,729.24" stroke-width="0.9" opacity="0.55"/>
<path d="M982.42,714.42 Q979.24,722.17 977.67,729.92" stroke-width="0.9" opacity="0.55"/>
<path d="M988.14,669 C988.27,670.18 988.4,673.72 988.92,676.08 C989.45,678.44 990.99,680.8 991.28,683.16 C991.58,685.52 990.62,687.88 990.71,690.23 C990.8,692.59 991.28,694.95 991.85,697.31 C992.41,699.67 994.12,702.03 994.1,704.39 C994.08,706.75 992.43,709.11 991.72,711.47 C991.02,713.83 990.17,717.37 989.86,718.55" stroke-width="0.95" opacity="0.66"/>
<path d="M991.85,697.31 Q991,707.03 985.72,716.76" stroke-width="0.9" opacity="0.55"/>
<path d="M991.85,697.31 Q988.42,711 986.5,724.68" stroke-width="0.9" opacity="0.55"/>
<path d="M990.71,690.23 Q992.75,702.57 997.94,714.9" stroke-width="0.9" opacity="0.55"/>
<path d="M996.62,669 C996.93,670.22 998.58,673.87 998.5,676.31 C998.41,678.75 996.34,681.18 996.12,683.62 C995.9,686.06 997.39,688.49 997.17,690.93 C996.94,693.37 995.1,695.8 994.77,698.24 C994.44,700.68 995.07,703.11 995.2,705.55 C995.33,707.99 995.78,710.43 995.56,712.86 C995.35,715.3 994.45,717.74 993.91,720.17 C993.37,722.61 992.58,726.26 992.31,727.48" stroke-width="0.87" opacity="0.66"/>
<path d="M997.17,690.93 Q994.74,700.79 991.18,710.66" stroke-width="0.9" opacity="0.55"/>
<path d="M995.56,712.86 Q999.27,727.6 999.08,742.34" stroke-width="0.9" opacity="0.55"/>
<path d="M993.91,720.17 Q993.23,726.2 986.58,732.23" stroke-width="0.9" opacity="0.55"/>
<path d="M1001.26,669 C1001.09,670.2 1000.6,673.82 1000.23,676.22 C999.86,678.63 999.14,681.04 999.03,683.45 C998.91,685.86 999.81,688.26 999.53,690.67 C999.25,693.08 997.73,695.49 997.33,697.9 C996.94,700.3 997.32,702.71 997.18,705.12 C997.04,707.53 996.31,709.93 996.48,712.34 C996.66,714.75 997.93,718.36 998.22,719.57" stroke-width="0.8" opacity="0.66"/>
<path d="M997.18,705.12 Q999.66,715.91 998.25,726.71" stroke-width="0.9" opacity="0.55"/>
<path d="M999.53,690.67 Q998.25,699.34 1002.58,708.01" stroke-width="0.9" opacity="0.55"/>
<path d="M996.48,712.34 Q996.29,719.76 1000.34,727.17" stroke-width="0.9" opacity="0.55"/>
<path d="M1009.18,669 C1009.46,670.19 1010.83,673.75 1010.87,676.12 C1010.9,678.5 1009.7,680.87 1009.39,683.25 C1009.07,685.62 1009.29,687.99 1009,690.37 C1008.7,692.74 1007.61,695.12 1007.62,697.49 C1007.63,699.87 1008.72,702.24 1009.04,704.61 C1009.36,706.99 1009.5,709.36 1009.52,711.74 C1009.54,714.11 1009.08,716.49 1009.14,718.86 C1009.2,721.23 1009.75,724.8 1009.88,725.98" stroke-width="0.8" opacity="0.66"/>
<path d="M1009.04,704.61 Q1005.92,717.44 1001.6,730.26" stroke-width="0.9" opacity="0.55"/>
<path d="M1009.39,683.25 Q1010.46,692 1012.15,700.76" stroke-width="0.9" opacity="0.55"/>
<path d="M1009.52,711.74 Q1008.69,718.29 1007.53,724.84" stroke-width="0.9" opacity="0.55"/>
<path d="M1016.51,669 C1016.2,670.26 1015.37,674.04 1014.68,676.57 C1013.99,679.09 1012.86,681.61 1012.35,684.13 C1011.85,686.65 1012.08,689.18 1011.67,691.7 C1011.26,694.22 1010.35,696.74 1009.88,699.27 C1009.42,701.79 1008.96,704.31 1008.89,706.83 C1008.81,709.35 1009.51,711.88 1009.42,714.4 C1009.33,716.92 1008.65,719.44 1008.33,721.96 C1008.02,724.49 1008.02,727.01 1007.54,729.53 C1007.06,732.05 1005.81,735.84 1005.46,737.1" stroke-width="0.88" opacity="0.66"/>
<path d="M1009.42,714.4 Q1014.04,720.79 1018.24,727.18" stroke-width="0.9" opacity="0.55"/>
<path d="M1011.67,691.7 Q1013.88,698.14 1020.09,704.58" stroke-width="0.9" opacity="0.55"/>
<path d="M1009.42,714.4 Q1013.95,728.52 1013.74,742.64" stroke-width="0.9" opacity="0.55"/>
<path d="M1024.59,669 C1024.74,670.25 1025.73,673.98 1025.53,676.47 C1025.33,678.97 1023.38,681.46 1023.4,683.95 C1023.41,686.44 1025.64,688.93 1025.64,691.42 C1025.64,693.91 1023.98,696.41 1023.41,698.9 C1022.83,701.39 1022.11,703.88 1022.18,706.37 C1022.25,708.86 1023.97,711.35 1023.85,713.85 C1023.74,716.34 1022.12,718.83 1021.5,721.32 C1020.88,723.81 1020.08,726.3 1020.13,728.79 C1020.19,731.29 1021.55,735.02 1021.84,736.27" stroke-width="0.94" opacity="0.66"/>
<path d="M1020.13,728.79 Q1020.32,739.95 1019.06,751.11" stroke-width="0.9" opacity="0.55"/>
<path d="M1020.13,728.79 Q1021.24,735.26 1020.98,741.73" stroke-width="0.9" opacity="0.55"/>
<path d="M1023.85,713.85 Q1025.57,723.18 1028.53,732.52" stroke-width="0.9" opacity="0.55"/>
<path d="M1034.65,669 C1034.69,670.22 1035.06,673.87 1034.89,676.31 C1034.72,678.74 1033.96,681.18 1033.65,683.61 C1033.33,686.05 1032.72,688.48 1032.99,690.92 C1033.25,693.36 1035.14,695.79 1035.23,698.23 C1035.32,700.66 1034.21,703.1 1033.5,705.53 C1032.79,707.97 1031.38,710.4 1030.98,712.84 C1030.58,715.28 1031.08,718.93 1031.1,720.15" stroke-width="0.73" opacity="0.66"/>
<path d="M1035.23,698.23 Q1038.74,708.05 1040.79,717.87" stroke-width="0.9" opacity="0.55"/>
<path d="M1035.23,698.23 Q1036.56,704.59 1042.76,710.96" stroke-width="0.9" opacity="0.55"/>
<path d="M1033.5,705.53 Q1036.57,715.77 1042.43,726.02" stroke-width="0.9" opacity="0.55"/>
<path d="M1039.57,669 C1039.53,670.2 1039.79,673.78 1039.32,676.18 C1038.84,678.57 1037.57,680.96 1036.73,683.35 C1035.9,685.74 1034.9,688.13 1034.29,690.53 C1033.67,692.92 1033.39,695.31 1033.03,697.7 C1032.68,700.09 1031.93,702.48 1032.16,704.88 C1032.39,707.27 1034.27,709.66 1034.43,712.05 C1034.59,714.44 1033.03,716.83 1033.12,719.23 C1033.2,721.62 1034.33,724.01 1034.94,726.4 C1035.55,728.79 1036.47,732.38 1036.78,733.58" stroke-width="1" opacity="0.66"/>
<path d="M1034.94,726.4 Q1035.58,736.08 1040.36,745.77" stroke-width="0.9" opacity="0.55"/>
<path d="M1034.43,712.05 Q1036.22,722.88 1041.67,733.71" stroke-width="0.9" opacity="0.55"/>
<path d="M1032.16,704.88 Q1031.26,718.36 1036.01,731.84" stroke-width="0.9" opacity="0.55"/>
<path d="M1049.14,669 C1049.13,670.24 1049.07,673.97 1049.05,676.46 C1049.04,678.94 1049.38,681.43 1049.06,683.92 C1048.73,686.4 1047.86,688.89 1047.11,691.38 C1046.35,693.86 1045.28,696.35 1044.54,698.83 C1043.79,701.32 1043.31,703.81 1042.63,706.29 C1041.94,708.78 1040.46,711.27 1040.45,713.75 C1040.43,716.24 1042.13,718.72 1042.54,721.21 C1042.96,723.7 1042.66,726.18 1042.91,728.67 C1043.17,731.16 1043.89,734.89 1044.08,736.13" stroke-width="0.91" opacity="0.66"/>
<path d="M1042.54,721.21 Q1044.46,727.45 1045.99,733.7" stroke-width="0.9" opacity="0.55"/>
<path d="M1042.91,728.67 Q1048.21,735.96 1049.44,743.25" stroke-width="0.9" opacity="0.55"/>
<path d="M1047.11,691.38 Q1048.03,703.96 1049.81,716.55" stroke-width="0.9" opacity="0.55"/>
<path d="M1055.39,669 C1055.15,670.18 1054.62,673.73 1053.96,676.1 C1053.31,678.46 1052.24,680.83 1051.48,683.19 C1050.71,685.56 1049.88,687.92 1049.36,690.29 C1048.85,692.65 1048.56,695.02 1048.41,697.38 C1048.25,699.75 1048.36,702.11 1048.43,704.48 C1048.5,706.84 1048.4,709.21 1048.8,711.57 C1049.2,713.94 1050.15,716.3 1050.84,718.67 C1051.53,721.03 1052.47,723.4 1052.96,725.76 C1053.44,728.13 1053.62,731.68 1053.75,732.86" stroke-width="0.86" opacity="0.66"/>
<path d="M1048.43,704.48 Q1043.12,715.07 1043.67,725.66" stroke-width="0.9" opacity="0.55"/>
<path d="M1048.41,697.38 Q1054.04,711.77 1055.86,726.15" stroke-width="0.9" opacity="0.55"/>
<path d="M1052.96,725.76 Q1048.02,734.87 1046.36,743.97" stroke-width="0.9" opacity="0.55"/>
<path d="M1063.48,669 C1063.13,670.29 1061.53,674.14 1061.36,676.71 C1061.19,679.28 1062.61,681.85 1062.47,684.43 C1062.33,687 1061.12,689.57 1060.52,692.14 C1059.92,694.71 1059.47,697.28 1058.85,699.85 C1058.23,702.42 1057.09,704.99 1056.79,707.56 C1056.49,710.13 1057.3,712.7 1057.03,715.28 C1056.76,717.85 1055.48,721.7 1055.17,722.99" stroke-width="0.71" opacity="0.66"/>
<path d="M1056.79,707.56 Q1062.07,716.99 1063.56,726.42" stroke-width="0.9" opacity="0.55"/>
<path d="M1056.79,707.56 Q1056.94,718.18 1062.28,728.8" stroke-width="0.9" opacity="0.55"/>
<path d="M1056.79,707.56 Q1056.31,716.09 1057.28,724.61" stroke-width="0.9" opacity="0.55"/>
<path d="M1071.83,669 C1071.57,670.21 1070.7,673.82 1070.3,676.23 C1069.89,678.64 1069.48,681.06 1069.4,683.47 C1069.32,685.88 1069.51,688.29 1069.81,690.7 C1070.11,693.11 1070.59,695.52 1071.2,697.93 C1071.8,700.34 1073.24,702.75 1073.44,705.17 C1073.64,707.58 1072.2,709.99 1072.4,712.4 C1072.6,714.81 1074.26,718.43 1074.63,719.63" stroke-width="0.91" opacity="0.66"/>
<path d="M1073.44,705.17 Q1074.13,716.24 1071.83,727.32" stroke-width="0.9" opacity="0.55"/>
<path d="M1069.4,683.47 Q1067.35,689.5 1064.91,695.52" stroke-width="0.9" opacity="0.55"/>
<path d="M1071.2,697.93 Q1073.85,708.71 1077.32,719.49" stroke-width="0.9" opacity="0.55"/>
</g>
<g filter="url(#bl05)"><line x1="980.12" y1="666.51" x2="971.69" y2="656.87" stroke="#a2dc22" stroke-width="1.8" stroke-linecap="round"/><line x1="980.12" y1="666.51" x2="966.87" y2="661.69" stroke="#a2dc22" stroke-width="1.8" stroke-linecap="round"/><line x1="980.12" y1="666.51" x2="969.88" y2="674.34" stroke="#a2dc22" stroke-width="1.8" stroke-linecap="round"/><line x1="980.12" y1="666.51" x2="980.12" y2="655.66" stroke="#a2dc22" stroke-width="1.8" stroke-linecap="round"/><line x1="980.12" y1="666.51" x2="990.96" y2="655.06" stroke="#a2dc22" stroke-width="1.8" stroke-linecap="round"/><line x1="980.12" y1="666.51" x2="986.14" y2="665.3" stroke="#a2dc22" stroke-width="1.8" stroke-linecap="round"/><line x1="980.12" y1="666.51" x2="980.72" y2="668.31" stroke="#a2dc22" stroke-width="1.8" stroke-linecap="round"/><line x1="980.12" y1="666.51" x2="986.14" y2="674.34" stroke="#a2dc22" stroke-width="1.8" stroke-linecap="round"/><line x1="980.12" y1="666.51" x2="992.77" y2="673.73" stroke="#a2dc22" stroke-width="1.8" stroke-linecap="round"/><line x1="1015.06" y1="667.11" x2="1011.45" y2="655.06" stroke="#a2dc22" stroke-width="1.8" stroke-linecap="round"/><line x1="1015.06" y1="667.11" x2="1004.82" y2="671.33" stroke="#a2dc22" stroke-width="1.8" stroke-linecap="round"/><line x1="1015.06" y1="667.11" x2="1011.45" y2="668.31" stroke="#a2dc22" stroke-width="1.8" stroke-linecap="round"/><line x1="1015.06" y1="667.11" x2="1020.48" y2="674.34" stroke="#a2dc22" stroke-width="1.8" stroke-linecap="round"/><line x1="1015.06" y1="667.11" x2="1021.08" y2="664.7" stroke="#a2dc22" stroke-width="1.8" stroke-linecap="round"/><line x1="1031.93" y1="668.92" x2="1027.71" y2="651.45" stroke="#a2dc22" stroke-width="1.8" stroke-linecap="round"/><line x1="1031.93" y1="668.92" x2="1028.31" y2="677.95" stroke="#a2dc22" stroke-width="1.8" stroke-linecap="round"/><line x1="1031.93" y1="668.92" x2="1033.13" y2="671.93" stroke="#a2dc22" stroke-width="1.8" stroke-linecap="round"/><line x1="1031.93" y1="668.92" x2="1035.54" y2="666.51" stroke="#a2dc22" stroke-width="1.8" stroke-linecap="round"/><line x1="1031.93" y1="668.92" x2="1039.16" y2="685.78" stroke="#a2dc22" stroke-width="1.8" stroke-linecap="round"/><line x1="1058.43" y1="664.1" x2="1043.98" y2="658.67" stroke="#a2dc22" stroke-width="1.8" stroke-linecap="round"/><line x1="1031.93" y1="668.92" x2="1040.36" y2="674.94" stroke="#a2dc22" stroke-width="1.8" stroke-linecap="round"/><line x1="1058.43" y1="664.1" x2="1050.6" y2="677.95" stroke="#a2dc22" stroke-width="1.8" stroke-linecap="round"/><line x1="1058.43" y1="664.1" x2="1051.2" y2="661.69" stroke="#a2dc22" stroke-width="1.8" stroke-linecap="round"/><line x1="1058.43" y1="664.1" x2="1057.23" y2="667.71" stroke="#a2dc22" stroke-width="1.8" stroke-linecap="round"/><line x1="1058.43" y1="664.1" x2="1061.45" y2="652.65" stroke="#a2dc22" stroke-width="1.8" stroke-linecap="round"/><line x1="1058.43" y1="664.1" x2="1066.27" y2="666.51" stroke="#a2dc22" stroke-width="1.8" stroke-linecap="round"/><line x1="1076.51" y1="660.48" x2="1071.08" y2="662.29" stroke="#a2dc22" stroke-width="1.8" stroke-linecap="round"/><line x1="1076.51" y1="660.48" x2="1076.51" y2="652.05" stroke="#a2dc22" stroke-width="1.8" stroke-linecap="round"/><line x1="1076.51" y1="660.48" x2="1077.71" y2="659.88" stroke="#a2dc22" stroke-width="1.8" stroke-linecap="round"/><ellipse cx="971.69" cy="656.87" rx="5.42" ry="3.61" fill="#b2f020"/><ellipse cx="966.87" cy="661.69" rx="3.01" ry="2.65" fill="#a8ea1c"/><ellipse cx="969.88" cy="674.34" rx="4.58" ry="3.86" fill="#baf42c"/><ellipse cx="980.12" cy="655.66" rx="3.61" ry="2.17" fill="#a0e218"/><ellipse cx="990.96" cy="655.06" rx="3.37" ry="3.01" fill="#b2f020"/><ellipse cx="986.14" cy="665.3" rx="3.01" ry="3.61" fill="#a8ea1c"/><ellipse cx="980.72" cy="668.31" rx="3.61" ry="2.65" fill="#baf42c"/><ellipse cx="986.14" cy="674.34" rx="3.86" ry="3.86" fill="#a0e218"/><ellipse cx="992.77" cy="673.73" rx="3.86" ry="4.22" fill="#b2f020"/><ellipse cx="1011.45" cy="655.06" rx="4.82" ry="2.17" fill="#a8ea1c"/><ellipse cx="1004.82" cy="671.33" rx="2.65" ry="3.01" fill="#baf42c"/><ellipse cx="1011.45" cy="668.31" rx="3.61" ry="3.01" fill="#a0e218"/><ellipse cx="1020.48" cy="674.34" rx="3.61" ry="3.61" fill="#b2f020"/><ellipse cx="1021.08" cy="664.7" rx="4.22" ry="2.65" fill="#a8ea1c"/><ellipse cx="1027.71" cy="651.45" rx="4.58" ry="2.65" fill="#baf42c"/><ellipse cx="1028.31" cy="677.95" rx="4.82" ry="4.22" fill="#a0e218"/><ellipse cx="1033.13" cy="671.93" rx="5.42" ry="4.22" fill="#b2f020"/><ellipse cx="1035.54" cy="666.51" rx="3.01" ry="3.01" fill="#a8ea1c"/><ellipse cx="1039.16" cy="685.78" rx="4.58" ry="4.22" fill="#baf42c"/><ellipse cx="1043.98" cy="658.67" rx="4.22" ry="3.01" fill="#a0e218"/><ellipse cx="1040.36" cy="674.94" rx="3.61" ry="3.01" fill="#b2f020"/><ellipse cx="1050.6" cy="677.95" rx="4.22" ry="3.61" fill="#a8ea1c"/><ellipse cx="1051.2" cy="661.69" rx="4.22" ry="2.41" fill="#baf42c"/><ellipse cx="1057.23" cy="667.71" rx="4.58" ry="4.22" fill="#a0e218"/><ellipse cx="1061.45" cy="652.65" rx="3.37" ry="2.41" fill="#b2f020"/><ellipse cx="1066.27" cy="666.51" rx="4.22" ry="3.37" fill="#a8ea1c"/><ellipse cx="1071.08" cy="662.29" rx="3.01" ry="2.65" fill="#baf42c"/><ellipse cx="1076.51" cy="652.05" rx="3.86" ry="2.17" fill="#a0e218"/><ellipse cx="1077.71" cy="659.88" rx="3.01" ry="2.65" fill="#b2f020"/><circle cx="980.12" cy="666.51" r="1.8" fill="#98d41c"/><circle cx="1015.06" cy="667.11" r="1.8" fill="#98d41c"/><circle cx="1031.93" cy="668.92" r="1.8" fill="#98d41c"/><circle cx="1058.43" cy="664.1" r="1.8" fill="#98d41c"/><circle cx="1076.51" cy="660.48" r="1.8" fill="#98d41c"/></g>
<path d="M984.9,699.8 L983.7,707 L973.7,706.5 Z" fill="#f01820"/>
<path d="M1001.1,713 L999.9,720.2 L989.9,719.7 Z" fill="#f01820"/>
<path d="M1016.6,708.4 L1015.4,715.6 L1005.4,715.1 Z" fill="#f01820"/>
<path d="M1032.4,701 L1031.2,708.2 L1021.2,707.7 Z" fill="#f01820"/>
<path d="M1052.5,703.2 L1051.3,710.4 L1041.3,709.9 Z" fill="#f01820"/>
<path d="M1069.9,701 L1068.7,708.2 L1058.7,707.7 Z" fill="#f01820"/>
<line x1="1039.5" y1="803.9" x2="1074.9" y2="803.9" stroke="#cdd6f0" stroke-width="2" />
</g>
<clipPath id="cpD01"><rect x="597" y="815.8" width="116.3" height="115.5"/></clipPath><g clip-path="url(#cpD01)"><rect x="597" y="815.8" width="116.3" height="115.5" fill="#0a0f0a"/><path d="M653.66,922.96 L644.98,915.38 L642.43,920.36 Z" fill="#f4f6f4"/><circle cx="659.44" cy="922.73" r="0.9" fill="#2f6a1c" opacity="0.8"/><line x1="709" y1="889.17" x2="709" y2="927.59" stroke="#c9cfca" stroke-width="1.6" /></g>
<clipPath id="cpD11"><rect x="719.8" y="815.8" width="116" height="115.5"/></clipPath><g clip-path="url(#cpD11)"><rect x="719.8" y="815.8" width="116" height="115.5" fill="#0a0f0a"/><linearGradient id="rg1" gradientUnits="userSpaceOnUse" x1="733.52" y1="816.94" x2="785.69" y2="923.43"><stop offset="0" stop-color="#16301a" stop-opacity="0.7"/><stop offset="0.45" stop-color="#1a3a16" stop-opacity="0.85"/><stop offset="0.8" stop-color="#234f19" stop-opacity="0.95"/><stop offset="1" stop-color="#35741f" stop-opacity="1"/></linearGradient><path d="M733.52,816.94 C736.22,819.84 743.16,829.29 749.72,834.31 C756.28,839.32 765.54,843.76 772.87,847.04 C780.2,850.32 788.3,850.51 793.7,853.98 C799.1,857.45 803.54,862.47 805.28,867.87 C807.01,873.27 804.7,880.99 804.12,886.39 C803.54,891.79 801.23,896.03 801.81,900.28 C802.38,904.52 805.28,907.99 807.59,911.85 C809.91,915.71 814.34,921.5 815.69,923.43" fill="none" stroke="url(#rg1)" stroke-width="5.6" stroke-linecap="round" opacity="1" filter="url(#bl1)"/><linearGradient id="rg2" gradientUnits="userSpaceOnUse" x1="807.59" y1="911.85" x2="815.69" y2="923.43"><stop offset="0" stop-color="#3a8a20" stop-opacity="0"/><stop offset="0.6" stop-color="#3f9424" stop-opacity="0.6"/><stop offset="1" stop-color="#5ed02c" stop-opacity="1"/></linearGradient><path d="M807.59,911.85 L815.69,923.43" fill="none" stroke="url(#rg2)" stroke-width="2.6" stroke-linecap="round" opacity="1" filter="url(#bl1)"/><circle cx="815" cy="922.96" r="1.5" fill="#62e02c" opacity="1"/><path d="M812.69,882.22 L824.48,880.6 L822.19,875.05 Z" fill="#f0e62a"/><line x1="829.1" y1="889.17" x2="829.1" y2="927.59" stroke="#c9cfca" stroke-width="1.6" /></g>
<clipPath id="cpD21"><rect x="842" y="815.8" width="115.5" height="115.5"/></clipPath><g clip-path="url(#cpD21)"><rect x="842" y="815.8" width="115.5" height="115.5" fill="#0a0f0a"/><linearGradient id="rg3" gradientUnits="userSpaceOnUse" x1="891.34" y1="816.94" x2="929.54" y2="925.74"><stop offset="0" stop-color="#101f10" stop-opacity="0.5"/><stop offset="0.5" stop-color="#132a12" stop-opacity="0.85"/><stop offset="0.8" stop-color="#1c3f16" stop-opacity="0.95"/><stop offset="1" stop-color="#2f6a1c" stop-opacity="1"/></linearGradient><path d="M891.34,816.94 C892.11,821.96 893.27,835.85 895.97,847.04 C898.67,858.23 903.3,873.46 907.55,884.07 C911.79,894.68 917.77,903.75 921.44,910.69 C925.1,917.64 928.19,923.23 929.54,925.74" fill="none" stroke="url(#rg3)" stroke-width="5.2" stroke-linecap="round" opacity="1" filter="url(#bl1)"/><linearGradient id="rg4" gradientUnits="userSpaceOnUse" x1="921.44" y1="910.69" x2="929.54" y2="925.74"><stop offset="0" stop-color="#3a8a20" stop-opacity="0"/><stop offset="0.75" stop-color="#388622" stop-opacity="0.5"/><stop offset="1" stop-color="#56cc2a" stop-opacity="1"/></linearGradient><path d="M921.44,910.69 L929.54,925.74" fill="none" stroke="url(#rg4)" stroke-width="2.4" stroke-linecap="round" opacity="1" filter="url(#bl1)"/><circle cx="929.54" cy="925.74" r="1.4" fill="#5ad62a" opacity="1"/><path d="M920.74,876.44 L932.48,874.04 L929.84,868.65 Z" fill="#f0e62a"/><line x1="954.5" y1="889.17" x2="954.5" y2="927.59" stroke="#c9cfca" stroke-width="1.6" /></g>
<clipPath id="cpD31"><rect x="964" y="815.8" width="116" height="115.5"/></clipPath><g clip-path="url(#cpD31)"><rect x="964" y="815.8" width="116" height="115.5" fill="#0a0f0a"/><linearGradient id="rg5" gradientUnits="userSpaceOnUse" x1="966.57" y1="820.42" x2="1071.9" y2="923.43"><stop offset="0" stop-color="#112411" stop-opacity="0.6"/><stop offset="0.5" stop-color="#152f13" stop-opacity="0.9"/><stop offset="0.8" stop-color="#1e4417" stop-opacity="0.95"/><stop offset="1" stop-color="#326f1e" stop-opacity="1"/></linearGradient><path d="M966.57,820.42 C970.82,824.47 983.94,837.2 992.04,844.72 C1000.14,852.25 1008.24,859 1015.19,865.56 C1022.13,872.11 1027.53,877.9 1033.7,884.07 C1039.88,890.25 1045.86,896.03 1052.22,902.59 C1058.59,909.15 1068.62,919.95 1071.9,923.43" fill="none" stroke="url(#rg5)" stroke-width="6.2" stroke-linecap="round" opacity="1" filter="url(#bl1)"/><linearGradient id="rg6" gradientUnits="userSpaceOnUse" x1="1052.22" y1="902.59" x2="1071.9" y2="923.43"><stop offset="0" stop-color="#3a8a20" stop-opacity="0"/><stop offset="0.75" stop-color="#388622" stop-opacity="0.5"/><stop offset="1" stop-color="#54c82a" stop-opacity="1"/></linearGradient><path d="M1052.22,902.59 L1071.9,923.43" fill="none" stroke="url(#rg6)" stroke-width="2.8" stroke-linecap="round" opacity="1" filter="url(#bl1)"/><circle cx="1071.9" cy="923.43" r="1.4" fill="#5ad62a" opacity="1"/><path d="M1041.34,871.34 L1053.17,868.43 L1050.35,863.14 Z" fill="#f0e62a"/><line x1="1074.7" y1="889.17" x2="1074.7" y2="927.59" stroke="#c9cfca" stroke-width="1.6" /></g>
<clipPath id="cpD02"><rect x="597" y="937.3" width="116.3" height="115.1"/></clipPath><g clip-path="url(#cpD02)"><rect x="597" y="937.3" width="116.3" height="115.1" fill="#0a0f0a"/><path d="M659.44,1044.26 L651.53,1036.71 L648.84,1041.62 Z" fill="#f4f6f4"/><circle cx="670.56" cy="1048.43" r="1.2" fill="#4fd428" opacity="1"/><line x1="709" y1="1013.01" x2="709" y2="1047.27" stroke="#c9cfca" stroke-width="1.6" /></g>
<clipPath id="cpD12"><rect x="719.8" y="937.3" width="116" height="115.1"/></clipPath><g clip-path="url(#cpD12)"><rect x="719.8" y="937.3" width="116" height="115.1" fill="#0a0f0a"/><linearGradient id="rg7" gradientUnits="userSpaceOnUse" x1="780.97" y1="937.31" x2="791.85" y2="1042.64"><stop offset="0" stop-color="#2a7a1c" stop-opacity="0.8"/><stop offset="0.4" stop-color="#1a4714" stop-opacity="0.5"/><stop offset="0.75" stop-color="#143610" stop-opacity="0.4"/><stop offset="1" stop-color="#206018" stop-opacity="0.6"/></linearGradient><path d="M780.97,937.31 C780.01,940.02 777.69,948.5 775.19,953.52 C772.68,958.53 769.01,963.16 765.93,967.41 C762.84,971.65 758.79,974.35 756.67,978.98 C754.54,983.61 752.81,989.78 753.19,995.19 C753.58,1000.59 755.7,1006.37 758.98,1011.39 C762.26,1016.4 768.24,1021.03 772.87,1025.28 C777.5,1029.52 783.6,1033.96 786.76,1036.85 C789.92,1039.75 791,1041.67 791.85,1042.64" fill="none" stroke="url(#rg7)" stroke-width="6" stroke-linecap="round" opacity="1" filter="url(#bl2)"/><linearGradient id="rg8" gradientUnits="userSpaceOnUse" x1="780.97" y1="937.31" x2="791.85" y2="1042.64"><stop offset="0" stop-color="#46d62e" stop-opacity="1"/><stop offset="0.28" stop-color="#3cc42a" stop-opacity="1"/><stop offset="0.42" stop-color="#206818" stop-opacity="0.7"/><stop offset="0.8" stop-color="#1b5215" stop-opacity="0.6"/><stop offset="0.93" stop-color="#287419" stop-opacity="0.8"/><stop offset="1" stop-color="#4ec02a" stop-opacity="1"/></linearGradient><path d="M780.97,937.31 C780.01,940.02 777.69,948.5 775.19,953.52 C772.68,958.53 769.01,963.16 765.93,967.41 C762.84,971.65 758.79,974.35 756.67,978.98 C754.54,983.61 752.81,989.78 753.19,995.19 C753.58,1000.59 755.7,1006.37 758.98,1011.39 C762.26,1016.4 768.24,1021.03 772.87,1025.28 C777.5,1029.52 783.6,1033.96 786.76,1036.85 C789.92,1039.75 791,1041.67 791.85,1042.64" fill="none" stroke="url(#rg8)" stroke-width="2.3" stroke-linecap="round" opacity="1" filter="url(#bl05)"/><linearGradient id="rg9" gradientUnits="userSpaceOnUse" x1="780.97" y1="937.31" x2="756.67" y2="978.98"><stop offset="0" stop-color="#4ee234" stop-opacity="1"/><stop offset="0.8" stop-color="#3fc82a" stop-opacity="0.9"/><stop offset="1" stop-color="#3fc82a" stop-opacity="0"/></linearGradient><path d="M780.97,937.31 C780.01,940.02 777.69,948.5 775.19,953.52 C772.68,958.53 769.01,963.16 765.93,967.41 C762.84,971.65 758.21,977.05 756.67,978.98" fill="none" stroke="url(#rg9)" stroke-width="4.2" stroke-linecap="round" opacity="1" filter="url(#bl05)"/><circle cx="791.39" cy="1042.41" r="1.6" fill="#6cf032" opacity="1"/><circle cx="761.3" cy="969.72" r="2" fill="#5fe636" opacity="1"/><path d="M750.88,955.37 L742.2,947.79 L739.65,952.77 Z" fill="#f4f6f4"/><path d="M754.81,969.72 L746.9,962.18 L744.21,967.08 Z" fill="#f4f6f4"/><path d="M738.15,985.93 L729.52,978.13 L726.87,983.07 Z" fill="#f4f6f4"/><path d="M779.81,995.19 L783.07,985.13 L777.48,984.87 Z" fill="#f4f6f4"/><path d="M811.76,1003.29 L802.87,995.48 L800.28,1000.44 Z" fill="#f4f6f4"/><path d="M782.59,1044.95 L774.22,1037.17 L771.53,1042.09 Z" fill="#f4f6f4"/><path d="M774.03,973.19 L785.71,971.05 L783.18,965.61 Z" fill="#f0e62a"/><circle cx="820.79" cy="1007.45" r="1.3" fill="#4fd428" opacity="1"/><circle cx="779.35" cy="1005.14" r="1" fill="#3fae22" opacity="1"/><circle cx="743.47" cy="988.7" r="0.8" fill="#2f7a1c" opacity="1"/><circle cx="753.89" cy="959.31" r="0.8" fill="#2f7a1c" opacity="1"/><line x1="829.1" y1="1013.01" x2="829.1" y2="1047.27" stroke="#c9cfca" stroke-width="1.6" /></g>
<clipPath id="cpD22"><rect x="842" y="937.3" width="115.5" height="115.1"/></clipPath><g clip-path="url(#cpD22)"><rect x="842" y="937.3" width="115.5" height="115.1" fill="#0a0f0a"/><path d="M882.78,1044.49 L873.89,1036.69 L871.3,1041.65 Z" fill="#f4f6f4"/><circle cx="889.72" cy="1045.19" r="1.2" fill="#4fd428" opacity="1"/><path d="M889.72,1045.19 C890.38,1044.26 891.27,1040.83 893.66,1039.63 C896.05,1038.43 902.34,1038.28 904.07,1038.01" fill="none" stroke="#1c4a14" stroke-width="2.2" stroke-linecap="round" opacity="0.55" filter="url(#bl1)"/><line x1="954.5" y1="1012.55" x2="954.5" y2="1047.27" stroke="#c9cfca" stroke-width="1.6" /></g>
<clipPath id="cpD32"><rect x="964" y="937.3" width="116" height="115.1"/></clipPath><g clip-path="url(#cpD32)"><rect x="964" y="937.3" width="116" height="115.1" fill="#0a0f0a"/><linearGradient id="rg10" gradientUnits="userSpaceOnUse" x1="1045.28" y1="978.98" x2="1081.16" y2="969.26"><stop offset="0" stop-color="#1f5216" stop-opacity="0"/><stop offset="0.4" stop-color="#2a6a1a" stop-opacity="0.8"/><stop offset="1" stop-color="#34801e" stop-opacity="0.9"/></linearGradient><path d="M1045.28,978.98 C1047.98,978.02 1055.5,974.81 1061.48,973.19 C1067.46,971.57 1077.88,969.92 1081.16,969.26" fill="none" stroke="url(#rg10)" stroke-width="3.5" stroke-linecap="round" opacity="1" filter="url(#bl2)"/><path d="M1067.27,942.41 L1059.21,935.48 L1056.81,940.54 Z" fill="#f4f6f4"/><path d="M1060.32,955.37 L1051.65,947.79 L1049.1,952.77 Z" fill="#f4f6f4"/><path d="M1068.43,962.08 L1057.56,966.27 L1060.77,970.86 Z" fill="#f4f6f4"/><path d="M1002.45,1044.49 L994.08,1036.71 L991.39,1041.62 Z" fill="#f4f6f4"/><path d="M1058.7,982.45 L1055.9,992.87 L1061.5,992.87 Z" fill="#f0e62a"/><circle cx="1012.87" cy="1046.57" r="1.3" fill="#4fd428" opacity="1"/><circle cx="1074.91" cy="943.8" r="0.9" fill="#5fae22" opacity="1"/><circle cx="1066.57" cy="956.53" r="0.8" fill="#8fae22" opacity="1"/><circle cx="1073.52" cy="958.84" r="0.7" fill="#3f8e22" opacity="1"/><line x1="1074.7" y1="1012.55" x2="1074.7" y2="1047.27" stroke="#c9cfca" stroke-width="1.6" /></g>
<clipPath id="cpL0"><rect x="597" y="1058.3" width="116.3" height="114.4"/></clipPath><g clip-path="url(#cpL0)"><rect x="597" y="1058.3" width="116.3" height="114.4" fill="url(#bfbg)"/><linearGradient id="rg11" gradientUnits="userSpaceOnUse" x1="653.66" y1="1058.33" x2="670.56" y2="1170.37"><stop offset="0" stop-color="#a3b2b1" stop-opacity="1"/><stop offset="0.55" stop-color="#8a9a99" stop-opacity="1"/><stop offset="0.8" stop-color="#66767a" stop-opacity="1"/><stop offset="1" stop-color="#4a5858" stop-opacity="1"/></linearGradient><path d="M653.66,1058.33 C655.01,1062.73 659.44,1075.31 661.76,1084.72 C664.07,1094.14 666.08,1105.17 667.55,1114.81 C669.01,1124.46 669.98,1135.26 670.56,1142.59 C671.13,1149.92 671.02,1154.17 671.02,1158.8 C671.02,1163.43 670.63,1168.44 670.56,1170.37" fill="none" stroke="url(#rg11)" stroke-width="2.6" stroke-linecap="round" opacity="1" filter="url(#bl05)"/><path d="M670.79,1153.7 L670.56,1168.06" fill="none" stroke="#3a4848" stroke-width="3.3" stroke-linecap="round" opacity="0.95" filter="url(#bl05)"/><line x1="709" y1="1135.19" x2="709" y2="1169.44" stroke="#1d1f1f" stroke-width="2.4" /></g>
<clipPath id="cpL1"><rect x="719.8" y="1058.3" width="116" height="114.4"/></clipPath><g clip-path="url(#cpL1)"><rect x="719.8" y="1058.3" width="116" height="114.4" fill="url(#bfbg)"/><path d="M736.99,1058.33 C737.57,1062.73 739.69,1074.54 740.46,1084.72 C741.23,1094.91 740.85,1109.03 741.62,1119.44 C742.39,1129.86 743.82,1138.43 745.09,1147.22 C746.37,1156.02 748.56,1168.06 749.26,1172.22" fill="none" stroke="#9fb0af" stroke-width="2.2" stroke-linecap="round" opacity="0.9" filter="url(#bl05)"/><linearGradient id="rg12" gradientUnits="userSpaceOnUse" x1="800.65" y1="1058.33" x2="820.79" y2="1127.55"><stop offset="0" stop-color="#a6b5b4" stop-opacity="1"/><stop offset="0.7" stop-color="#8a9a99" stop-opacity="1"/><stop offset="1" stop-color="#5a6868" stop-opacity="1"/></linearGradient><path d="M800.65,1058.33 C802.19,1061.19 807.01,1067.98 809.91,1075.46 C812.8,1082.95 816.2,1094.56 818.01,1103.24 C819.82,1111.92 820.32,1123.5 820.79,1127.55" fill="none" stroke="url(#rg12)" stroke-width="1.9" stroke-linecap="round" opacity="1" filter="url(#bl05)"/><path d="M819.86,1116.67 L820.79,1126.85" fill="none" stroke="#4a5858" stroke-width="2.4" stroke-linecap="round" opacity="0.95" filter="url(#bl05)"/><path d="M741.62,1071.99 C743.36,1073.73 748.37,1079.13 752.04,1082.41 C755.7,1085.69 761.68,1090.12 763.61,1091.67" fill="none" stroke="#8a9a99" stroke-width="2.6" stroke-linecap="round" opacity="0.85" filter="url(#bl05)"/><path d="M752.04,1082.41 C753.77,1080.86 758.6,1075.08 762.45,1073.15 C766.31,1071.22 773.06,1071.22 775.19,1070.83" fill="none" stroke="#a3b2b1" stroke-width="1.8" stroke-linecap="round" opacity="0.85" filter="url(#bl05)"/><path d="M743.94,1107.87 C745.29,1105.94 748.76,1099 752.04,1096.3 C755.32,1093.6 761.68,1092.44 763.61,1091.67" fill="none" stroke="#a9b8b7" stroke-width="1.6" stroke-linecap="round" opacity="0.85" filter="url(#bl05)"/><path d="M758.98,1100.93 C761.3,1102.47 769.59,1106.33 772.87,1110.19 C776.15,1114.04 777.69,1121.76 778.66,1124.07" fill="none" stroke="#93a3a2" stroke-width="1.9" stroke-linecap="round" opacity="0.9" filter="url(#bl05)"/><path d="M776.57,1117.59 L778.66,1123.61" fill="none" stroke="#55625f" stroke-width="2.3" stroke-linecap="round" opacity="0.95" filter="url(#bl05)"/><path d="M761.3,1093.98 C760.14,1096.68 755.32,1105.17 754.35,1110.19 C753.39,1115.2 753.58,1119.06 755.51,1124.07 C757.44,1129.09 761.88,1135.65 765.93,1140.28 C769.98,1144.91 775.57,1148.19 779.81,1151.85 C784.06,1155.52 789.46,1160.53 791.39,1162.27" fill="none" stroke="#b3c1c0" stroke-width="7" stroke-linecap="round" opacity="0.4" filter="url(#bl1)"/><linearGradient id="rg13" gradientUnits="userSpaceOnUse" x1="782.13" y1="1058.33" x2="791.39" y2="1162.27"><stop offset="0" stop-color="#94a4a3" stop-opacity="1"/><stop offset="0.35" stop-color="#6d7d7f" stop-opacity="1"/><stop offset="0.6" stop-color="#55656a" stop-opacity="1"/><stop offset="0.85" stop-color="#5e6e70" stop-opacity="1"/><stop offset="1" stop-color="#3a4646" stop-opacity="1"/></linearGradient><path d="M782.13,1058.33 C780.59,1061.19 776.34,1069.52 772.87,1075.46 C769.4,1081.4 764.38,1088.19 761.3,1093.98 C758.21,1099.77 755.32,1105.17 754.35,1110.19 C753.39,1115.2 753.58,1119.06 755.51,1124.07 C757.44,1129.09 761.88,1135.65 765.93,1140.28 C769.98,1144.91 775.57,1148.19 779.81,1151.85 C784.06,1155.52 789.46,1160.53 791.39,1162.27" fill="none" stroke="url(#rg13)" stroke-width="3" stroke-linecap="round" opacity="1" filter="url(#bl05)"/><path d="M784.44,1155.79 L791.39,1162.27" fill="none" stroke="#364242" stroke-width="2.9" stroke-linecap="round" opacity="0.95" filter="url(#bl05)"/><line x1="829.1" y1="1135.19" x2="829.1" y2="1169.44" stroke="#1d1f1f" stroke-width="2.4" /></g>
<clipPath id="cpL2"><rect x="842" y="1058.3" width="115.5" height="114.4"/></clipPath><g clip-path="url(#cpL2)"><rect x="842" y="1058.3" width="115.5" height="114.4" fill="url(#bfbg)"/><linearGradient id="rg14" gradientUnits="userSpaceOnUse" x1="942.73" y1="1058.33" x2="890.65" y2="1165.74"><stop offset="0" stop-color="#a3b2b1" stop-opacity="1"/><stop offset="0.55" stop-color="#8a9a99" stop-opacity="1"/><stop offset="0.8" stop-color="#6a7a7c" stop-opacity="1"/><stop offset="1" stop-color="#4a5858" stop-opacity="1"/></linearGradient><path d="M942.73,1058.33 C940.92,1061.96 935.21,1072.61 931.85,1080.09 C928.5,1087.58 926.06,1094.75 922.59,1103.24 C919.12,1111.73 915.26,1122.53 911.02,1131.02 C906.77,1139.51 900.52,1148.38 897.13,1154.17 C893.73,1159.95 891.73,1163.81 890.65,1165.74" fill="none" stroke="url(#rg14)" stroke-width="2.7" stroke-linecap="round" opacity="1" filter="url(#bl05)"/><path d="M896.44,1155.56 L891.11,1165.05" fill="none" stroke="#3a4848" stroke-width="3.5" stroke-linecap="round" opacity="0.95" filter="url(#bl05)"/><line x1="954.5" y1="1135.19" x2="954.5" y2="1169.44" stroke="#1d1f1f" stroke-width="2.4" /></g>
<clipPath id="cpL3"><rect x="964" y="1058.3" width="116" height="114.4"/></clipPath><g clip-path="url(#cpL3)"><rect x="964" y="1058.3" width="116" height="114.4" fill="url(#bfbg4)"/><linearGradient id="rg15" gradientUnits="userSpaceOnUse" x1="1081.16" y1="1091.2" x2="1012.87" y2="1168.06"><stop offset="0" stop-color="#8fa09f" stop-opacity="0.9"/><stop offset="0.3" stop-color="#a5b4b3" stop-opacity="0.9"/><stop offset="0.7" stop-color="#bccac9" stop-opacity="0.9"/><stop offset="1" stop-color="#aab9b8" stop-opacity="0.9"/></linearGradient><path d="M1081.16,1091.2 C1077.11,1091.67 1063.99,1091.98 1056.85,1093.98 C1049.71,1095.99 1044.12,1099 1038.33,1103.24 C1032.55,1107.48 1026.57,1113.66 1022.13,1119.44 C1017.69,1125.23 1013.83,1132.18 1011.71,1137.96 C1009.59,1143.75 1009.21,1149.15 1009.4,1154.17 C1009.59,1159.18 1012.29,1165.74 1012.87,1168.06" fill="none" stroke="url(#rg15)" stroke-width="3.6" stroke-linecap="round" opacity="1" filter="url(#bl1)"/><path d="M1009.86,1156.94 L1012.87,1167.59" fill="none" stroke="#8d9c9b" stroke-width="2.6" stroke-linecap="round" opacity="0.85" filter="url(#bl05)"/><path d="M1068.43,1077.78 C1069.58,1077.2 1073.25,1074.69 1075.37,1074.31 C1077.49,1073.92 1080.19,1075.27 1081.16,1075.46" fill="none" stroke="#aebdbc" stroke-width="2.5" stroke-linecap="round" opacity="0.8" filter="url(#bl1)"/><path d="M1074.21,1063.89 L1081.16,1061.57" fill="none" stroke="#b5c3c2" stroke-width="2.5" stroke-linecap="round" opacity="0.8" filter="url(#bl1)"/><line x1="1074.7" y1="1135.19" x2="1074.7" y2="1169.44" stroke="#1d1f1f" stroke-width="2.4" /></g>
</svg>
</body></html>
